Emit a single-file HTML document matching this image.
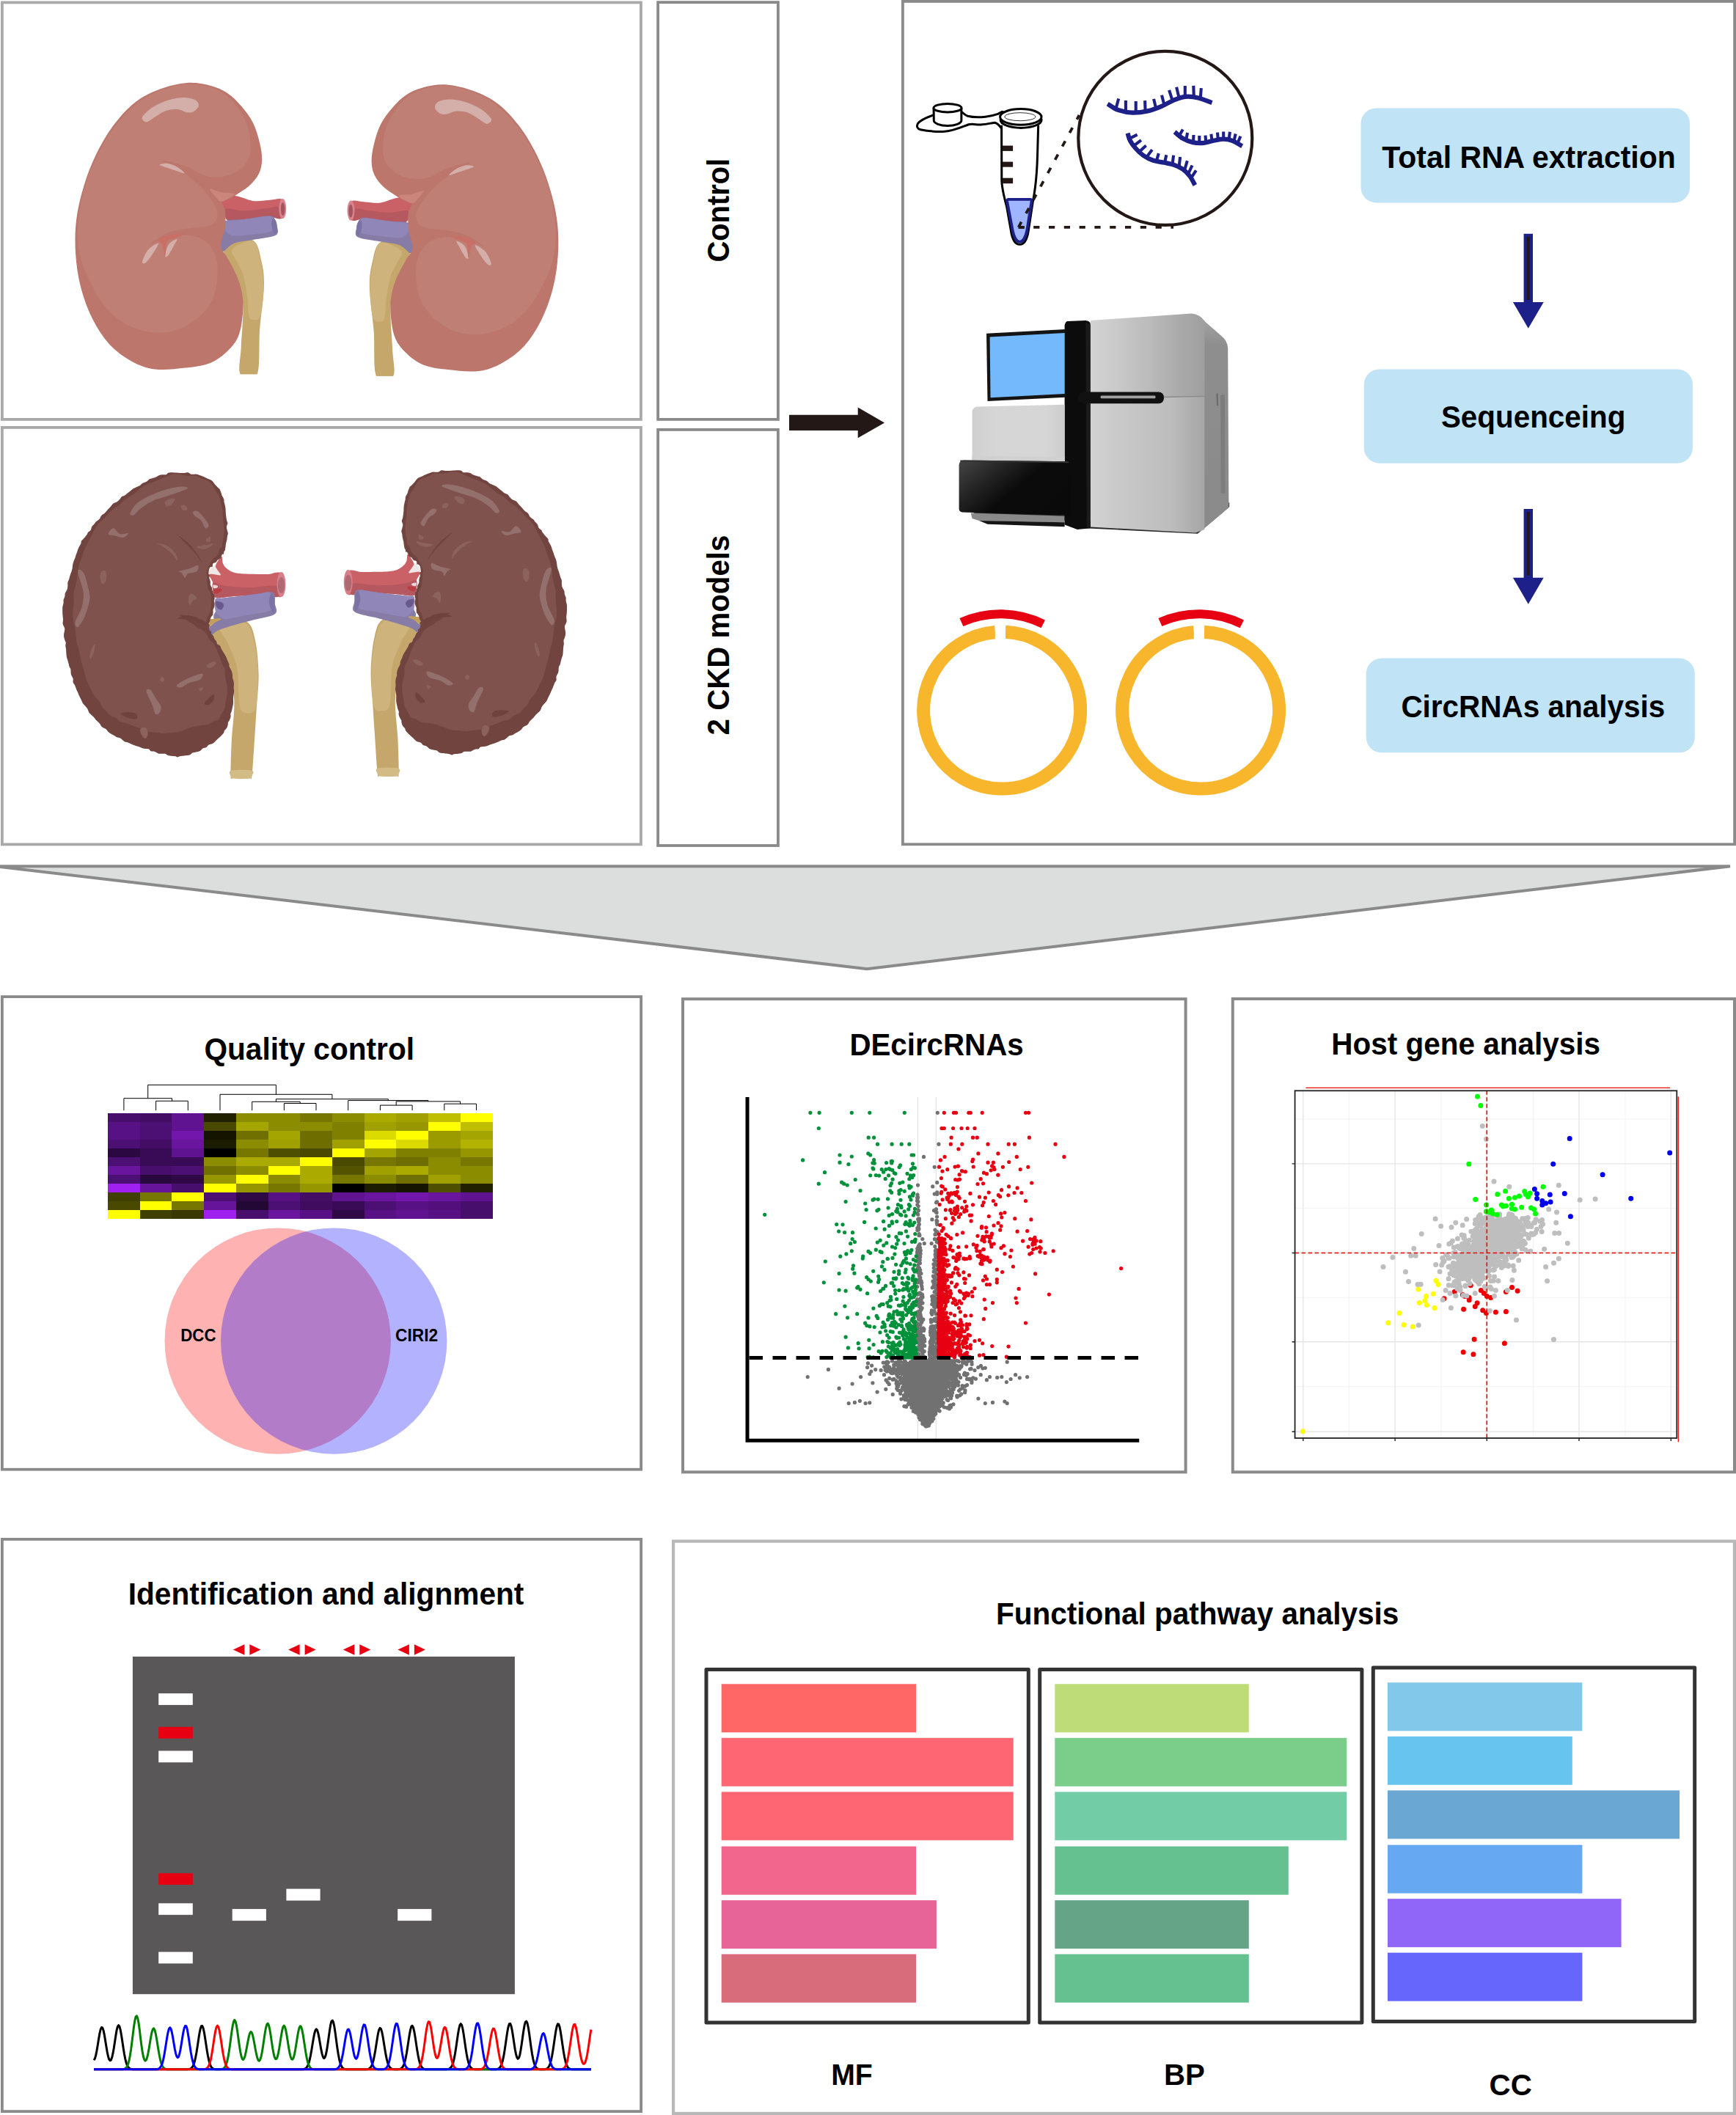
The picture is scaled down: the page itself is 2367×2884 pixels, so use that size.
<!DOCTYPE html>
<html><head><meta charset="utf-8"><title>CircRNA workflow</title>
<style>html,body{margin:0;padding:0;background:#fff}svg{display:block}</style></head>
<body>
<svg width="2367" height="2884" viewBox="0 0 2367 2884">
<rect width="2367" height="2884" fill="#fff"/>
<g id="panels">
<rect x="2.90" y="3.40" width="871.00" height="568.50" fill="none" stroke="#a9a9a9" stroke-width="3.8"/>
<rect x="2.90" y="582.90" width="871.00" height="568.50" fill="none" stroke="#a9a9a9" stroke-width="3.8"/>
<rect x="897.10" y="3.10" width="163.80" height="568.80" fill="none" stroke="#8a8a8a" stroke-width="3.8"/>
<rect x="897.10" y="585.90" width="163.80" height="567.10" fill="none" stroke="#8a8a8a" stroke-width="3.8"/>
<rect x="1230.90" y="1.90" width="1134.20" height="1149.40" fill="none" stroke="#8a8a8a" stroke-width="3.8"/>
<polygon points="-6,1181.2 2359,1181.2 1182,1321.2" fill="#dcdddd" stroke="#8a8a8a" stroke-width="4" stroke-linejoin="miter"/>
<rect x="2.90" y="1359.10" width="871.20" height="644.60" fill="none" stroke="#8a8a8a" stroke-width="3.8"/>
<rect x="931.00" y="1362.20" width="685.60" height="645.10" fill="none" stroke="#8a8a8a" stroke-width="4"/>
<rect x="1680.80" y="1362.00" width="684.20" height="645.30" fill="none" stroke="#8a8a8a" stroke-width="4"/>
<rect x="2.90" y="2098.90" width="871.20" height="780.20" fill="none" stroke="#8a8a8a" stroke-width="3.8"/>
<rect x="918.10" y="2101.60" width="1446.80" height="780.30" fill="none" stroke="#b8b8b8" stroke-width="4.2"/>
</g>
<polygon points="1076,565.8 1169.7,565.8 1169.7,555.6 1206,576.4 1169.7,597.2 1169.7,587.1 1076,587.1" fill="#231815"/>
<g font-family="Liberation Sans, Arial, Helvetica, sans-serif" font-weight="bold" fill="#000">
<text transform="translate(994.2,357.6) rotate(-90)" font-size="41.67" textLength="141.8" lengthAdjust="spacingAndGlyphs">Control</text>
<text transform="translate(994.3,1002.4) rotate(-90)" font-size="41.67" textLength="272.7" lengthAdjust="spacingAndGlyphs">2 CKD models</text>
</g>
<g fill="#c0e3f6">
<rect x="1855.5" y="147.4" width="448.5" height="129" rx="21" ry="21"/>
<rect x="1859.8" y="503.4" width="448.1" height="128.3" rx="21" ry="21"/>
<rect x="1862.7" y="897.6" width="448.1" height="128.7" rx="21" ry="21"/>
</g>
<g font-family="Liberation Sans, Arial, Helvetica, sans-serif" font-weight="bold" fill="#000">
<text x="1884.3" y="229.0" font-size="41.67" text-anchor="start" textLength="400.4" lengthAdjust="spacingAndGlyphs" >Total RNA extraction</text>
<text x="1964.9" y="582.7" font-size="41.67" text-anchor="start" textLength="251.5" lengthAdjust="spacingAndGlyphs" >Sequenceing</text>
<text x="1910.4" y="977.6" font-size="41.67" text-anchor="start" textLength="359.9" lengthAdjust="spacingAndGlyphs" >CircRNAs analysis</text>
<text x="278.4" y="1445.2" font-size="41.67" text-anchor="start" textLength="286.6" lengthAdjust="spacingAndGlyphs" >Quality control</text>
<text x="1158.4" y="1438.8" font-size="41.67" text-anchor="start" textLength="237.3" lengthAdjust="spacingAndGlyphs" >DEcircRNAs</text>
<text x="1815.3" y="1438.3" font-size="41.67" text-anchor="start" textLength="366.6" lengthAdjust="spacingAndGlyphs" >Host gene analysis</text>
<text x="174.7" y="2187.8" font-size="41.67" text-anchor="start" textLength="539.7" lengthAdjust="spacingAndGlyphs" >Identification and alignment</text>
<text x="1358.0" y="2215.2" font-size="41.67" text-anchor="start" textLength="549.3" lengthAdjust="spacingAndGlyphs" >Functional pathway analysis</text>
<text x="1133.2" y="2843.0" font-size="40" text-anchor="start" textLength="56.6" lengthAdjust="spacingAndGlyphs" >MF</text>
<text x="1587.0" y="2843.0" font-size="40" text-anchor="start" textLength="55.8" lengthAdjust="spacingAndGlyphs" >BP</text>
<text x="2030.6" y="2856.6" font-size="40" text-anchor="start" textLength="58.3" lengthAdjust="spacingAndGlyphs" >CC</text>
</g>
<polygon points="2077.6,318.8 2090,318.8 2090,411.9 2104.7,411.9 2083.8,447.8 2062.9,411.9 2077.6,411.9" fill="#1d2088"/><rect x="2081.8" y="322.8" width="4" height="86.09999999999997" fill="#231815"/>
<polygon points="2077.6,694.1 2090,694.1 2090,787.8 2104.7,787.8 2083.8,823.8 2062.9,787.8 2077.6,787.8" fill="#1d2088"/><rect x="2081.8" y="698.1" width="4" height="86.69999999999993" fill="#231815"/>
<path d="M1370.90,861.71 A107,107 0 1 1 1356.90,862.00" fill="none" stroke="#f8b62d" stroke-width="18"/><rect x="1356.90" y="849.6" width="14" height="24" fill="#fff"/><path d="M1310.91,848.47 A131.3,131.3 0 0 1 1422.28,850.99" fill="none" stroke="#e60012" stroke-width="12"/>
<path d="M1641.90,861.71 A107,107 0 1 1 1627.90,862.00" fill="none" stroke="#f8b62d" stroke-width="18"/><rect x="1627.90" y="849.6" width="14" height="24" fill="#fff"/><path d="M1581.91,848.47 A131.3,131.3 0 0 1 1693.28,850.99" fill="none" stroke="#e60012" stroke-width="12"/>
<rect x="963.00" y="2276.50" width="439.30" height="481.60" fill="none" stroke="#333333" stroke-width="5" stroke-linejoin="round"/><rect x="983.7" y="2296.3" width="265.3" height="66" fill="#ff6666"/><rect x="983.7" y="2369.8" width="398.0" height="66" fill="#fe6673"/><rect x="983.7" y="2443.4" width="398.0" height="66" fill="#fe6673"/><rect x="983.7" y="2517.7" width="265.3" height="66" fill="#f2658c"/><rect x="983.7" y="2591.2" width="293.2" height="66" fill="#e66497"/><rect x="983.7" y="2664.7" width="265.3" height="66" fill="#d96c7a"/>
<rect x="1417.70" y="2276.50" width="439.20" height="481.60" fill="none" stroke="#333333" stroke-width="5" stroke-linejoin="round"/><rect x="1438.3" y="2296.3" width="264.5" height="66" fill="#bedc78"/><rect x="1438.3" y="2369.8" width="398.0" height="66" fill="#7bcd8a"/><rect x="1438.3" y="2443.4" width="398.0" height="66" fill="#72cda6"/><rect x="1438.3" y="2517.7" width="318.5" height="66" fill="#66c190"/><rect x="1438.3" y="2591.2" width="264.5" height="66" fill="#66a488"/><rect x="1438.3" y="2664.7" width="264.5" height="66" fill="#66c190"/>
<rect x="1872.30" y="2274.00" width="438.40" height="482.40" fill="none" stroke="#333333" stroke-width="5" stroke-linejoin="round"/><rect x="1892" y="2294.3" width="265.4" height="66" fill="#82c8eb"/><rect x="1892" y="2367.8" width="251.8" height="66" fill="#66c4ef"/><rect x="1892" y="2441.4" width="398.0" height="66" fill="#6aa7d3"/><rect x="1892" y="2515.7" width="265.4" height="66" fill="#66a8f1"/><rect x="1892" y="2589.2" width="318.6" height="66" fill="#8f66f7"/><rect x="1892" y="2662.7" width="265.4" height="66" fill="#6666fc"/>
<rect x="180.9" y="2258.9" width="521" height="460.3" fill="#595758"/>
<rect x="216.2" y="2309.1" width="46.6" height="15.8" fill="#fff"/>
<rect x="216.2" y="2354.8" width="46.6" height="15.8" fill="#e60012"/>
<rect x="216.2" y="2387.4" width="46.6" height="15.8" fill="#fff"/>
<rect x="216.2" y="2554.3" width="46.6" height="15.8" fill="#e60012"/>
<rect x="216.2" y="2595.3" width="46.6" height="15.8" fill="#fff"/>
<rect x="216.2" y="2661.6" width="46.6" height="15.8" fill="#fff"/>
<rect x="316.7" y="2603.1" width="46.2" height="16" fill="#fff"/>
<rect x="390.4" y="2575.6" width="46.2" height="16" fill="#fff"/>
<rect x="542.2" y="2603.1" width="46.2" height="16" fill="#fff"/>
<polygon points="317.9,2249.5 333.4,2242.3 333.4,2256.8" fill="#e60012"/>
<polygon points="355.4,2249.5 340.4,2242.3 340.4,2256.8" fill="#e60012"/>
<polygon points="393.1,2249.5 408.6,2242.3 408.6,2256.8" fill="#e60012"/>
<polygon points="430.6,2249.5 415.6,2242.3 415.6,2256.8" fill="#e60012"/>
<polygon points="467.8,2249.5 483.3,2242.3 483.3,2256.8" fill="#e60012"/>
<polygon points="505.3,2249.5 490.3,2242.3 490.3,2256.8" fill="#e60012"/>
<polygon points="542.4,2249.5 557.9,2242.3 557.9,2256.8" fill="#e60012"/>
<polygon points="579.9,2249.5 564.9,2242.3 564.9,2256.8" fill="#e60012"/>
<g shape-rendering="crispEdges">
<rect x="147.10" y="1518.10" width="43.98" height="12.26" fill="#480e6c"/>
<rect x="190.78" y="1518.10" width="43.98" height="12.26" fill="#430d64"/>
<rect x="234.47" y="1518.10" width="43.98" height="12.26" fill="#601390"/>
<rect x="278.15" y="1518.10" width="43.98" height="12.26" fill="#212100"/>
<rect x="321.83" y="1518.10" width="43.98" height="12.26" fill="#8c8c00"/>
<rect x="365.52" y="1518.10" width="43.98" height="12.26" fill="#8c8c00"/>
<rect x="409.20" y="1518.10" width="43.98" height="12.26" fill="#777700"/>
<rect x="452.88" y="1518.10" width="43.98" height="12.26" fill="#8c8c00"/>
<rect x="496.57" y="1518.10" width="43.98" height="12.26" fill="#aaaa00"/>
<rect x="540.25" y="1518.10" width="43.98" height="12.26" fill="#a0a000"/>
<rect x="583.93" y="1518.10" width="43.98" height="12.26" fill="#bfbf00"/>
<rect x="627.62" y="1518.10" width="43.98" height="12.26" fill="#ffff00"/>
<rect x="147.10" y="1530.06" width="43.98" height="12.26" fill="#581184"/>
<rect x="190.78" y="1530.06" width="43.98" height="12.26" fill="#4c0f73"/>
<rect x="234.47" y="1530.06" width="43.98" height="12.26" fill="#601390"/>
<rect x="278.15" y="1530.06" width="43.98" height="12.26" fill="#494900"/>
<rect x="321.83" y="1530.06" width="43.98" height="12.26" fill="#a5a500"/>
<rect x="365.52" y="1530.06" width="43.98" height="12.26" fill="#8c8c00"/>
<rect x="409.20" y="1530.06" width="43.98" height="12.26" fill="#8c8c00"/>
<rect x="452.88" y="1530.06" width="43.98" height="12.26" fill="#7f7f00"/>
<rect x="496.57" y="1530.06" width="43.98" height="12.26" fill="#a0a000"/>
<rect x="540.25" y="1530.06" width="43.98" height="12.26" fill="#969600"/>
<rect x="583.93" y="1530.06" width="43.98" height="12.26" fill="#ffff00"/>
<rect x="627.62" y="1530.06" width="43.98" height="12.26" fill="#bfbf00"/>
<rect x="147.10" y="1542.02" width="43.98" height="12.26" fill="#581184"/>
<rect x="190.78" y="1542.02" width="43.98" height="12.26" fill="#4c0f73"/>
<rect x="234.47" y="1542.02" width="43.98" height="12.26" fill="#7317ac"/>
<rect x="278.15" y="1542.02" width="43.98" height="12.26" fill="#141400"/>
<rect x="321.83" y="1542.02" width="43.98" height="12.26" fill="#707000"/>
<rect x="365.52" y="1542.02" width="43.98" height="12.26" fill="#a5a500"/>
<rect x="409.20" y="1542.02" width="43.98" height="12.26" fill="#6d6d00"/>
<rect x="452.88" y="1542.02" width="43.98" height="12.26" fill="#7f7f00"/>
<rect x="496.57" y="1542.02" width="43.98" height="12.26" fill="#dbdb00"/>
<rect x="540.25" y="1542.02" width="43.98" height="12.26" fill="#ffff00"/>
<rect x="583.93" y="1542.02" width="43.98" height="12.26" fill="#9b9b00"/>
<rect x="627.62" y="1542.02" width="43.98" height="12.26" fill="#a5a500"/>
<rect x="147.10" y="1553.97" width="43.98" height="12.26" fill="#4c0f73"/>
<rect x="190.78" y="1553.97" width="43.98" height="12.26" fill="#430d64"/>
<rect x="234.47" y="1553.97" width="43.98" height="12.26" fill="#69159e"/>
<rect x="278.15" y="1553.97" width="43.98" height="12.26" fill="#1c1c00"/>
<rect x="321.83" y="1553.97" width="43.98" height="12.26" fill="#8c8c00"/>
<rect x="365.52" y="1553.97" width="43.98" height="12.26" fill="#a0a000"/>
<rect x="409.20" y="1553.97" width="43.98" height="12.26" fill="#6d6d00"/>
<rect x="452.88" y="1553.97" width="43.98" height="12.26" fill="#a0a000"/>
<rect x="496.57" y="1553.97" width="43.98" height="12.26" fill="#ffff00"/>
<rect x="540.25" y="1553.97" width="43.98" height="12.26" fill="#dbdb00"/>
<rect x="583.93" y="1553.97" width="43.98" height="12.26" fill="#9b9b00"/>
<rect x="627.62" y="1553.97" width="43.98" height="12.26" fill="#b2b200"/>
<rect x="147.10" y="1565.93" width="43.98" height="12.26" fill="#2c0843"/>
<rect x="190.78" y="1565.93" width="43.98" height="12.26" fill="#390b56"/>
<rect x="234.47" y="1565.93" width="43.98" height="12.26" fill="#601390"/>
<rect x="278.15" y="1565.93" width="43.98" height="12.26" fill="#000000"/>
<rect x="321.83" y="1565.93" width="43.98" height="12.26" fill="#777700"/>
<rect x="365.52" y="1565.93" width="43.98" height="12.26" fill="#4f4f00"/>
<rect x="409.20" y="1565.93" width="43.98" height="12.26" fill="#494900"/>
<rect x="452.88" y="1565.93" width="43.98" height="12.26" fill="#ffff00"/>
<rect x="496.57" y="1565.93" width="43.98" height="12.26" fill="#a5a500"/>
<rect x="540.25" y="1565.93" width="43.98" height="12.26" fill="#7f7f00"/>
<rect x="583.93" y="1565.93" width="43.98" height="12.26" fill="#7f7f00"/>
<rect x="627.62" y="1565.93" width="43.98" height="12.26" fill="#969600"/>
<rect x="147.10" y="1577.89" width="43.98" height="12.26" fill="#4c0f73"/>
<rect x="190.78" y="1577.89" width="43.98" height="12.26" fill="#390b56"/>
<rect x="234.47" y="1577.89" width="43.98" height="12.26" fill="#390b56"/>
<rect x="278.15" y="1577.89" width="43.98" height="12.26" fill="#8c8c00"/>
<rect x="321.83" y="1577.89" width="43.98" height="12.26" fill="#aaaa00"/>
<rect x="365.52" y="1577.89" width="43.98" height="12.26" fill="#aaaa00"/>
<rect x="409.20" y="1577.89" width="43.98" height="12.26" fill="#ffff00"/>
<rect x="452.88" y="1577.89" width="43.98" height="12.26" fill="#494900"/>
<rect x="496.57" y="1577.89" width="43.98" height="12.26" fill="#777700"/>
<rect x="540.25" y="1577.89" width="43.98" height="12.26" fill="#6d6d00"/>
<rect x="583.93" y="1577.89" width="43.98" height="12.26" fill="#8c8c00"/>
<rect x="627.62" y="1577.89" width="43.98" height="12.26" fill="#777700"/>
<rect x="147.10" y="1589.85" width="43.98" height="12.26" fill="#69159e"/>
<rect x="190.78" y="1589.85" width="43.98" height="12.26" fill="#480e6c"/>
<rect x="234.47" y="1589.85" width="43.98" height="12.26" fill="#4c0f73"/>
<rect x="278.15" y="1589.85" width="43.98" height="12.26" fill="#707000"/>
<rect x="321.83" y="1589.85" width="43.98" height="12.26" fill="#8c8c00"/>
<rect x="365.52" y="1589.85" width="43.98" height="12.26" fill="#ffff00"/>
<rect x="409.20" y="1589.85" width="43.98" height="12.26" fill="#aaaa00"/>
<rect x="452.88" y="1589.85" width="43.98" height="12.26" fill="#545400"/>
<rect x="496.57" y="1589.85" width="43.98" height="12.26" fill="#a0a000"/>
<rect x="540.25" y="1589.85" width="43.98" height="12.26" fill="#aaaa00"/>
<rect x="583.93" y="1589.85" width="43.98" height="12.26" fill="#8c8c00"/>
<rect x="627.62" y="1589.85" width="43.98" height="12.26" fill="#8c8c00"/>
<rect x="147.10" y="1601.81" width="43.98" height="12.26" fill="#4c0f73"/>
<rect x="190.78" y="1601.81" width="43.98" height="12.26" fill="#28083c"/>
<rect x="234.47" y="1601.81" width="43.98" height="12.26" fill="#2e0945"/>
<rect x="278.15" y="1601.81" width="43.98" height="12.26" fill="#969600"/>
<rect x="321.83" y="1601.81" width="43.98" height="12.26" fill="#ffff00"/>
<rect x="365.52" y="1601.81" width="43.98" height="12.26" fill="#8c8c00"/>
<rect x="409.20" y="1601.81" width="43.98" height="12.26" fill="#aaaa00"/>
<rect x="452.88" y="1601.81" width="43.98" height="12.26" fill="#777700"/>
<rect x="496.57" y="1601.81" width="43.98" height="12.26" fill="#8c8c00"/>
<rect x="540.25" y="1601.81" width="43.98" height="12.26" fill="#707000"/>
<rect x="583.93" y="1601.81" width="43.98" height="12.26" fill="#a0a000"/>
<rect x="627.62" y="1601.81" width="43.98" height="12.26" fill="#8c8c00"/>
<rect x="147.10" y="1613.77" width="43.98" height="12.26" fill="#a020f0"/>
<rect x="190.78" y="1613.77" width="43.98" height="12.26" fill="#661499"/>
<rect x="234.47" y="1613.77" width="43.98" height="12.26" fill="#480e6c"/>
<rect x="278.15" y="1613.77" width="43.98" height="12.26" fill="#ffff00"/>
<rect x="321.83" y="1613.77" width="43.98" height="12.26" fill="#969600"/>
<rect x="365.52" y="1613.77" width="43.98" height="12.26" fill="#777700"/>
<rect x="409.20" y="1613.77" width="43.98" height="12.26" fill="#969600"/>
<rect x="452.88" y="1613.77" width="43.98" height="12.26" fill="#000000"/>
<rect x="496.57" y="1613.77" width="43.98" height="12.26" fill="#1c1c00"/>
<rect x="540.25" y="1613.77" width="43.98" height="12.26" fill="#141400"/>
<rect x="583.93" y="1613.77" width="43.98" height="12.26" fill="#4f4f00"/>
<rect x="627.62" y="1613.77" width="43.98" height="12.26" fill="#212100"/>
<rect x="147.10" y="1625.72" width="43.98" height="12.26" fill="#3f3f00"/>
<rect x="190.78" y="1625.72" width="43.98" height="12.26" fill="#777700"/>
<rect x="234.47" y="1625.72" width="43.98" height="12.26" fill="#ffff00"/>
<rect x="278.15" y="1625.72" width="43.98" height="12.26" fill="#4c0f73"/>
<rect x="321.83" y="1625.72" width="43.98" height="12.26" fill="#2e0945"/>
<rect x="365.52" y="1625.72" width="43.98" height="12.26" fill="#581184"/>
<rect x="409.20" y="1625.72" width="43.98" height="12.26" fill="#430d64"/>
<rect x="452.88" y="1625.72" width="43.98" height="12.26" fill="#601390"/>
<rect x="496.57" y="1625.72" width="43.98" height="12.26" fill="#69159e"/>
<rect x="540.25" y="1625.72" width="43.98" height="12.26" fill="#7317ac"/>
<rect x="583.93" y="1625.72" width="43.98" height="12.26" fill="#69159e"/>
<rect x="627.62" y="1625.72" width="43.98" height="12.26" fill="#601390"/>
<rect x="147.10" y="1637.68" width="43.98" height="12.26" fill="#494900"/>
<rect x="190.78" y="1637.68" width="43.98" height="12.26" fill="#ffff00"/>
<rect x="234.47" y="1637.68" width="43.98" height="12.26" fill="#777700"/>
<rect x="278.15" y="1637.68" width="43.98" height="12.26" fill="#661499"/>
<rect x="321.83" y="1637.68" width="43.98" height="12.26" fill="#230734"/>
<rect x="365.52" y="1637.68" width="43.98" height="12.26" fill="#4c0f73"/>
<rect x="409.20" y="1637.68" width="43.98" height="12.26" fill="#400c60"/>
<rect x="452.88" y="1637.68" width="43.98" height="12.26" fill="#390b56"/>
<rect x="496.57" y="1637.68" width="43.98" height="12.26" fill="#4c0f73"/>
<rect x="540.25" y="1637.68" width="43.98" height="12.26" fill="#581184"/>
<rect x="583.93" y="1637.68" width="43.98" height="12.26" fill="#53107c"/>
<rect x="627.62" y="1637.68" width="43.98" height="12.26" fill="#480e6c"/>
<rect x="147.10" y="1649.64" width="43.98" height="12.26" fill="#ffff00"/>
<rect x="190.78" y="1649.64" width="43.98" height="12.26" fill="#3f3f00"/>
<rect x="234.47" y="1649.64" width="43.98" height="12.26" fill="#383800"/>
<rect x="278.15" y="1649.64" width="43.98" height="12.26" fill="#a020f0"/>
<rect x="321.83" y="1649.64" width="43.98" height="12.26" fill="#480e6c"/>
<rect x="365.52" y="1649.64" width="43.98" height="12.26" fill="#69159e"/>
<rect x="409.20" y="1649.64" width="43.98" height="12.26" fill="#581184"/>
<rect x="452.88" y="1649.64" width="43.98" height="12.26" fill="#2e0945"/>
<rect x="496.57" y="1649.64" width="43.98" height="12.26" fill="#581184"/>
<rect x="540.25" y="1649.64" width="43.98" height="12.26" fill="#601390"/>
<rect x="583.93" y="1649.64" width="43.98" height="12.26" fill="#581184"/>
<rect x="627.62" y="1649.64" width="43.98" height="12.26" fill="#480e6c"/>
</g>
<path d="M212.6,1514.2V1501.3H256.3V1514.2M168.9,1514.2V1497.7H234.5V1501.3M387.4,1514.2V1504.5H431.0V1514.2M343.7,1514.2V1502.3H409.2V1504.5M518.4,1514.2V1507.1H562.1V1514.2M605.8,1514.2V1505.2H649.5V1514.2M540.2,1507.1V1501.9H627.6V1505.2M474.7,1514.2V1500.6H583.9V1501.9M376.4,1502.3V1498.7H529.3V1500.6M300.0,1514.2V1492.3H452.9V1498.7M201.7,1497.7V1479.4H376.4V1492.3" fill="none" stroke="#000" stroke-width="1"/>
<circle cx="378.7" cy="1828.6" r="154.2" fill="#ff0000" fill-opacity="0.3"/>
<circle cx="455.2" cy="1828.6" r="154.2" fill="#0000ff" fill-opacity="0.3"/>
<g font-family="Liberation Sans, Arial, Helvetica, sans-serif" font-weight="bold" fill="#000"><text x="246.2" y="1828.9" font-size="23" text-anchor="start" textLength="48.3" lengthAdjust="spacingAndGlyphs" >DCC</text><text x="539.1" y="1828.9" font-size="23" text-anchor="start" textLength="58.1" lengthAdjust="spacingAndGlyphs" >CIRI2</text></g>
<path d="M1251.3,1496V1964M1276.2,1496V1964" stroke="#d3d3d3" stroke-width="0.8" fill="none"/>
<path d="M1274.3,1906.5h0M1269.5,1932.5h0M1259.5,1888.7h0M1268.0,1891.0h0M1262.3,1937.4h0M1264.4,1930.2h0M1267.2,1897.8h0M1259.0,1915.9h0M1288.2,1881.7h0M1257.4,1900.1h0M1314.8,1856.7h0M1270.3,1909.6h0M1268.3,1924.0h0M1277.4,1867.8h0M1252.8,1920.2h0M1253.8,1902.2h0M1269.4,1887.8h0M1264.8,1917.6h0M1247.2,1877.7h0M1270.8,1884.9h0M1254.9,1895.4h0M1299.7,1876.3h0M1252.1,1913.8h0M1249.8,1863.7h0M1249.0,1874.1h0M1263.9,1898.3h0M1254.0,1892.5h0M1260.4,1937.2h0M1236.0,1885.8h0M1248.5,1863.7h0M1290.7,1884.2h0M1229.0,1885.3h0M1277.3,1858.9h0M1260.6,1893.7h0M1257.1,1876.1h0M1301.2,1880.2h0M1262.6,1910.0h0M1262.1,1901.0h0M1260.6,1894.7h0M1265.7,1921.5h0M1268.9,1871.3h0M1263.7,1925.7h0M1288.4,1863.9h0M1257.1,1931.5h0M1273.6,1863.1h0M1276.2,1867.6h0M1254.5,1898.5h0M1289.0,1903.4h0M1250.6,1923.3h0M1264.3,1920.6h0M1275.6,1892.8h0M1263.4,1884.6h0M1264.9,1898.2h0M1232.4,1902.5h0M1242.3,1876.9h0M1244.3,1890.4h0M1259.2,1935.0h0M1273.3,1862.0h0M1216.6,1869.1h0M1258.2,1900.5h0M1269.1,1881.1h0M1266.5,1933.9h0M1265.8,1922.1h0M1263.8,1905.0h0M1263.6,1923.3h0M1262.6,1928.9h0M1267.9,1863.7h0M1272.4,1882.7h0M1271.7,1904.4h0M1282.6,1902.9h0M1300.7,1855.6h0M1256.8,1894.3h0M1263.8,1928.8h0M1261.3,1904.8h0M1278.7,1922.2h0M1267.0,1939.8h0M1260.7,1923.8h0M1285.2,1888.2h0M1269.2,1856.6h0M1257.2,1864.5h0M1253.5,1902.7h0M1265.0,1921.6h0M1235.4,1870.5h0M1267.5,1905.9h0M1312.6,1856.1h0M1279.2,1865.3h0M1225.0,1873.3h0M1254.2,1915.5h0M1263.2,1938.8h0M1263.1,1938.9h0M1279.7,1876.8h0M1204.3,1858.1h0M1284.5,1855.9h0M1251.2,1858.2h0M1268.9,1915.5h0M1267.2,1918.5h0M1297.8,1861.9h0M1228.4,1866.1h0M1268.0,1869.0h0M1257.1,1931.0h0M1220.6,1870.2h0M1249.6,1872.6h0M1265.6,1869.8h0M1274.3,1905.7h0M1285.7,1899.7h0M1259.2,1921.3h0M1272.4,1925.9h0M1305.3,1868.5h0M1273.4,1923.8h0M1212.7,1879.4h0M1256.8,1904.1h0M1263.2,1941.4h0M1244.1,1857.1h0M1237.7,1859.6h0M1283.5,1897.0h0M1250.7,1917.1h0M1261.4,1913.1h0M1277.1,1884.8h0M1258.5,1912.4h0M1270.2,1861.3h0M1246.4,1903.8h0M1272.4,1861.7h0M1279.0,1898.1h0M1253.2,1889.1h0M1282.3,1889.7h0M1264.7,1919.9h0M1263.9,1943.7h0M1254.0,1893.7h0M1245.3,1874.4h0M1258.2,1890.1h0M1265.4,1887.2h0M1255.1,1886.8h0M1260.5,1913.4h0M1292.6,1891.0h0M1266.1,1886.7h0M1229.2,1896.2h0M1240.2,1882.8h0M1262.7,1876.8h0M1245.9,1895.5h0M1257.3,1859.1h0M1300.0,1876.3h0M1245.3,1912.4h0M1296.4,1886.9h0M1258.7,1924.8h0M1261.1,1926.6h0M1265.0,1914.2h0M1259.2,1932.4h0M1224.5,1862.2h0M1261.1,1922.9h0M1252.8,1924.2h0M1280.9,1863.1h0M1259.8,1858.3h0M1269.4,1866.7h0M1254.7,1922.2h0M1270.1,1905.1h0M1257.5,1918.6h0M1267.6,1940.4h0M1260.3,1887.3h0M1264.5,1905.8h0M1256.4,1881.9h0M1262.8,1856.1h0M1274.3,1869.8h0M1262.6,1911.8h0M1264.1,1937.1h0M1258.0,1925.7h0M1287.3,1898.0h0M1252.9,1912.5h0M1272.3,1923.5h0M1250.0,1876.2h0M1271.7,1930.4h0M1271.8,1897.7h0M1270.2,1932.5h0M1250.9,1868.9h0M1264.8,1931.1h0M1256.3,1864.5h0M1252.9,1895.3h0M1291.6,1860.1h0M1272.9,1911.6h0M1272.7,1914.4h0M1264.6,1928.0h0M1266.1,1918.0h0M1256.5,1907.5h0M1282.2,1909.5h0M1270.4,1891.6h0M1265.8,1940.6h0M1280.8,1913.2h0M1266.4,1887.5h0M1243.0,1919.3h0M1265.9,1928.3h0M1238.1,1867.6h0M1275.3,1866.5h0M1241.6,1900.4h0M1261.8,1856.3h0M1273.7,1904.8h0M1236.3,1881.0h0M1260.7,1899.4h0M1265.5,1925.6h0M1263.3,1932.8h0M1257.3,1922.0h0M1269.6,1931.0h0M1228.3,1878.4h0M1264.0,1910.3h0M1276.9,1894.9h0M1257.7,1922.6h0M1270.5,1857.7h0M1244.2,1857.0h0M1257.7,1857.4h0M1263.2,1907.8h0M1264.1,1901.4h0M1252.6,1893.6h0M1263.4,1891.2h0M1263.5,1943.4h0M1269.8,1899.9h0M1266.8,1936.8h0M1264.8,1914.9h0M1232.6,1884.9h0M1257.3,1879.4h0M1279.2,1875.1h0M1254.9,1906.3h0M1289.4,1856.1h0M1289.7,1880.5h0M1267.8,1936.5h0M1227.6,1881.7h0M1268.2,1873.8h0M1254.7,1889.7h0M1279.2,1891.2h0M1226.1,1867.1h0M1285.9,1885.0h0M1243.5,1876.7h0M1268.9,1915.2h0M1265.0,1903.2h0M1267.7,1928.5h0M1241.8,1881.6h0M1253.9,1881.8h0M1261.7,1943.9h0M1263.3,1869.1h0M1242.6,1888.8h0M1294.2,1879.3h0M1270.6,1913.1h0M1262.7,1932.3h0M1278.7,1917.7h0M1289.2,1873.3h0M1261.1,1901.3h0M1252.2,1893.3h0M1233.0,1882.5h0M1273.6,1880.5h0M1266.4,1912.9h0M1253.9,1873.1h0M1266.5,1941.7h0M1262.7,1934.1h0M1295.0,1876.8h0M1257.2,1878.0h0M1282.4,1894.5h0M1288.7,1894.3h0M1276.8,1918.3h0M1268.2,1856.6h0M1262.4,1894.9h0M1289.2,1867.6h0M1261.1,1911.5h0M1269.7,1917.2h0M1259.2,1885.2h0M1245.3,1924.3h0M1260.9,1925.3h0M1213.7,1867.5h0M1261.1,1876.0h0M1272.9,1915.1h0M1261.4,1939.5h0M1261.6,1943.8h0M1264.2,1908.4h0M1260.0,1924.4h0M1281.2,1866.1h0M1263.6,1944.3h0M1250.7,1926.7h0M1250.6,1860.1h0M1239.0,1909.6h0M1306.9,1884.6h0M1253.8,1903.2h0M1265.0,1935.8h0M1266.1,1928.9h0M1245.0,1859.5h0M1262.3,1913.3h0M1274.2,1919.2h0M1291.3,1902.1h0M1250.1,1868.1h0M1304.0,1881.4h0M1241.3,1887.7h0M1297.3,1874.8h0M1271.4,1895.6h0M1252.2,1872.4h0M1260.9,1935.7h0M1284.1,1860.1h0M1274.2,1904.7h0M1261.3,1908.8h0M1255.4,1879.5h0M1281.0,1900.3h0M1266.5,1921.6h0M1278.4,1861.5h0M1270.4,1891.8h0M1322.2,1855.4h0M1270.2,1895.7h0M1266.4,1930.2h0M1271.7,1904.9h0M1267.9,1912.5h0M1287.0,1886.1h0M1247.5,1898.8h0M1249.2,1898.7h0M1261.6,1905.2h0M1261.5,1933.9h0M1240.3,1891.3h0M1249.5,1916.6h0M1263.7,1911.3h0M1279.4,1896.0h0M1295.0,1858.2h0M1258.7,1940.0h0M1261.7,1938.2h0M1230.0,1893.8h0M1282.4,1884.7h0M1263.6,1860.1h0M1303.1,1867.2h0M1241.2,1913.4h0M1267.9,1928.0h0M1284.6,1877.6h0M1256.8,1859.1h0M1231.2,1871.5h0M1259.3,1895.1h0M1261.5,1870.2h0M1276.4,1915.0h0M1255.2,1908.3h0M1263.4,1925.8h0M1294.0,1876.3h0M1270.7,1927.7h0M1273.4,1885.1h0M1266.8,1900.9h0M1266.6,1942.2h0M1234.0,1908.5h0M1276.0,1880.4h0M1245.3,1863.1h0M1264.8,1913.6h0M1257.1,1857.8h0M1261.2,1940.0h0M1255.5,1891.7h0M1253.5,1912.6h0M1276.8,1878.7h0M1262.4,1938.0h0M1246.3,1905.2h0M1270.2,1918.4h0M1261.7,1869.2h0M1252.5,1917.7h0M1244.7,1857.2h0M1280.9,1915.1h0M1264.1,1916.0h0M1241.4,1858.4h0M1268.2,1891.9h0M1273.4,1898.4h0M1274.6,1878.8h0M1261.0,1900.4h0M1268.8,1916.9h0M1263.2,1935.3h0M1255.9,1934.2h0M1297.0,1863.1h0M1314.7,1873.8h0M1263.1,1906.0h0M1277.0,1919.7h0M1261.4,1938.3h0M1249.1,1878.9h0M1272.1,1905.8h0M1270.3,1921.4h0M1263.8,1904.0h0M1312.6,1858.1h0M1280.7,1917.4h0M1274.4,1903.6h0M1237.9,1897.1h0M1259.6,1935.7h0M1267.7,1860.6h0M1250.9,1918.9h0M1268.9,1938.6h0M1273.1,1898.9h0M1257.6,1936.9h0M1270.9,1937.8h0M1272.9,1912.6h0M1279.9,1872.8h0M1257.5,1911.2h0M1248.1,1858.0h0M1252.2,1875.0h0M1263.4,1907.1h0M1265.5,1872.2h0M1222.3,1860.8h0M1258.1,1939.6h0M1238.3,1914.8h0M1273.9,1858.2h0M1263.5,1901.0h0M1281.4,1892.1h0M1282.8,1860.0h0M1300.1,1873.4h0M1268.2,1867.4h0M1246.3,1906.1h0M1249.4,1906.9h0M1270.6,1931.7h0M1263.7,1918.5h0M1260.0,1933.5h0M1260.6,1938.0h0M1255.7,1856.5h0M1283.3,1863.1h0M1263.2,1931.0h0M1254.2,1929.5h0M1263.8,1895.9h0M1251.2,1914.8h0M1278.0,1878.2h0M1282.5,1872.7h0M1255.3,1926.6h0M1255.0,1866.1h0M1280.8,1902.2h0M1268.8,1873.4h0M1271.1,1913.7h0M1271.2,1923.0h0M1252.5,1906.2h0M1280.7,1900.2h0M1263.0,1915.1h0M1222.1,1868.4h0M1276.7,1893.6h0M1218.7,1861.0h0M1263.0,1937.0h0M1267.9,1919.2h0M1209.6,1856.9h0M1247.6,1902.2h0M1245.2,1864.3h0M1269.2,1870.6h0M1291.6,1858.8h0M1279.9,1882.2h0M1259.9,1916.4h0M1267.4,1917.8h0M1250.8,1912.8h0M1255.6,1917.8h0M1261.9,1942.0h0M1275.3,1919.7h0M1269.9,1907.5h0M1294.3,1887.8h0M1267.4,1933.7h0M1274.4,1887.6h0M1273.7,1880.8h0M1270.5,1876.6h0M1260.9,1899.0h0M1285.9,1858.3h0M1253.0,1907.5h0M1257.9,1898.4h0M1287.2,1864.4h0M1263.4,1918.5h0M1264.2,1874.2h0M1266.2,1861.8h0M1270.2,1897.8h0M1240.3,1863.1h0M1265.0,1894.8h0M1266.2,1887.5h0M1270.9,1880.7h0M1259.0,1882.1h0M1255.8,1902.3h0M1263.4,1910.2h0M1271.0,1889.9h0M1259.9,1892.4h0M1278.9,1868.6h0M1262.6,1926.0h0M1293.5,1859.0h0M1262.8,1935.1h0M1220.5,1860.1h0M1291.2,1882.2h0M1286.1,1867.2h0M1278.2,1916.0h0M1279.3,1899.5h0M1250.1,1919.9h0M1254.0,1916.4h0M1273.6,1901.2h0M1263.8,1926.4h0M1304.5,1862.1h0M1257.6,1936.9h0M1261.2,1937.3h0M1287.8,1866.3h0M1280.1,1887.6h0M1256.4,1881.7h0M1282.0,1885.1h0M1254.6,1897.7h0M1249.4,1896.6h0M1261.0,1939.7h0M1255.5,1914.7h0M1268.3,1871.6h0M1254.2,1920.3h0M1270.3,1893.8h0M1268.6,1897.3h0M1257.1,1930.1h0M1265.2,1936.9h0M1291.9,1881.0h0M1282.1,1870.6h0M1282.8,1890.7h0M1269.1,1901.7h0M1297.9,1858.5h0M1304.4,1855.4h0M1269.3,1873.9h0M1247.2,1856.4h0M1299.5,1892.2h0M1258.7,1921.8h0M1271.3,1869.8h0M1261.5,1904.1h0M1289.7,1872.1h0M1283.9,1910.9h0M1281.0,1867.9h0M1287.6,1860.6h0M1262.7,1917.3h0M1278.4,1906.9h0M1264.4,1937.5h0M1277.7,1859.4h0M1273.7,1877.7h0M1254.9,1870.1h0M1254.4,1927.3h0M1259.9,1903.3h0M1232.6,1863.8h0M1252.3,1863.2h0M1272.3,1928.5h0M1262.7,1900.3h0M1256.9,1869.1h0M1264.9,1903.3h0M1254.4,1920.6h0M1303.0,1873.0h0M1269.5,1912.9h0M1290.1,1880.8h0M1260.8,1878.9h0M1266.8,1907.5h0M1263.6,1923.5h0M1242.2,1882.5h0M1276.2,1862.3h0M1265.0,1925.4h0M1267.8,1939.9h0M1263.1,1944.1h0M1268.6,1903.5h0M1252.1,1915.8h0M1257.3,1917.8h0M1253.1,1881.9h0M1265.8,1859.4h0M1266.3,1913.9h0M1270.8,1880.8h0M1268.6,1863.9h0M1252.6,1911.9h0M1261.7,1941.9h0M1250.0,1904.1h0M1218.9,1880.3h0M1281.6,1873.8h0M1266.2,1913.4h0M1260.5,1889.1h0M1264.0,1899.3h0M1271.5,1870.5h0M1258.1,1941.8h0M1258.0,1924.3h0M1255.0,1918.2h0M1248.5,1880.6h0M1272.9,1868.0h0M1272.8,1908.6h0M1269.1,1935.8h0M1239.2,1875.1h0M1265.4,1943.1h0M1241.4,1894.4h0M1248.3,1873.2h0M1264.9,1928.5h0M1272.5,1915.0h0M1268.5,1872.6h0M1282.5,1876.6h0M1249.1,1911.8h0M1234.1,1887.3h0M1275.6,1889.7h0M1245.5,1911.8h0M1243.9,1916.5h0M1283.0,1863.3h0M1264.3,1914.6h0M1298.3,1873.0h0M1256.4,1906.2h0M1254.8,1863.3h0M1280.3,1861.4h0M1253.2,1881.4h0M1226.0,1856.5h0M1277.0,1894.1h0M1231.3,1864.9h0M1260.4,1896.7h0M1247.9,1907.9h0M1260.8,1917.0h0M1256.3,1861.2h0M1267.1,1924.0h0M1265.6,1860.0h0M1265.6,1904.6h0M1264.3,1936.8h0M1241.7,1876.8h0M1238.0,1873.5h0M1259.7,1933.4h0M1251.3,1867.7h0M1270.4,1867.6h0M1257.8,1864.2h0M1275.1,1861.0h0M1262.0,1917.6h0M1275.8,1927.7h0M1273.5,1868.1h0M1276.4,1881.2h0M1248.9,1909.8h0M1271.9,1929.1h0M1272.7,1917.7h0M1261.3,1906.9h0M1264.6,1912.6h0M1261.2,1910.2h0M1251.8,1906.7h0M1211.2,1857.6h0M1262.7,1882.4h0M1260.5,1938.5h0M1276.3,1870.9h0M1258.9,1904.4h0M1252.0,1916.5h0M1302.2,1864.6h0M1271.9,1921.2h0M1264.4,1944.5h0M1307.4,1856.6h0M1261.4,1943.6h0M1265.1,1869.2h0M1255.5,1919.8h0M1264.3,1866.7h0M1272.0,1912.3h0M1260.8,1916.7h0M1253.2,1876.3h0M1263.7,1881.0h0M1265.5,1931.4h0M1228.7,1869.9h0M1251.2,1881.6h0M1275.1,1900.3h0M1309.1,1862.6h0M1266.9,1939.4h0M1261.9,1917.6h0M1300.0,1891.5h0M1271.2,1901.6h0M1255.8,1894.8h0M1264.4,1889.1h0M1229.7,1880.2h0M1260.0,1904.3h0M1276.1,1865.9h0M1262.9,1879.1h0M1254.1,1896.6h0M1253.1,1870.9h0M1259.6,1894.7h0M1264.8,1863.0h0M1271.4,1908.5h0M1270.5,1876.0h0M1259.7,1922.8h0M1257.6,1913.5h0M1272.2,1922.2h0M1276.5,1906.1h0M1266.3,1928.9h0M1262.0,1901.2h0M1275.9,1856.2h0M1239.5,1896.9h0M1260.8,1918.6h0M1260.1,1917.5h0M1277.6,1900.8h0M1268.5,1869.6h0M1233.5,1876.7h0M1263.5,1894.6h0M1257.5,1924.3h0M1249.8,1873.2h0M1233.2,1861.4h0M1276.0,1872.6h0M1266.8,1898.1h0M1303.4,1863.3h0M1249.7,1870.8h0M1224.6,1877.7h0M1246.8,1880.6h0M1268.5,1881.6h0M1254.4,1929.4h0M1281.9,1875.3h0M1263.6,1881.5h0M1280.2,1895.2h0M1238.7,1882.1h0M1284.7,1859.9h0M1255.0,1919.9h0M1243.1,1900.8h0M1268.2,1892.4h0M1262.8,1888.1h0M1267.4,1922.2h0M1223.1,1890.1h0M1256.8,1929.0h0M1251.3,1875.0h0M1242.8,1890.6h0M1238.4,1889.9h0M1273.2,1899.0h0M1258.9,1877.4h0M1264.1,1900.5h0M1249.7,1856.2h0M1273.7,1903.7h0M1267.6,1899.9h0M1261.3,1941.6h0M1274.5,1876.4h0M1262.7,1904.0h0M1279.4,1873.2h0M1245.3,1859.2h0M1260.8,1868.9h0M1265.3,1900.5h0M1275.3,1870.7h0M1245.8,1868.3h0M1248.1,1886.7h0M1272.6,1915.6h0M1259.3,1880.8h0M1274.4,1867.6h0M1251.4,1909.1h0M1287.7,1887.8h0M1281.6,1903.7h0M1261.0,1865.4h0M1273.9,1912.9h0M1264.0,1897.6h0M1265.0,1874.6h0M1263.9,1910.3h0M1277.5,1893.2h0M1249.0,1897.4h0M1248.4,1903.1h0M1269.0,1860.0h0M1257.0,1867.0h0M1266.6,1861.5h0M1250.6,1866.8h0M1266.6,1881.2h0M1263.9,1858.4h0M1263.6,1879.5h0M1267.0,1924.2h0M1265.1,1914.9h0M1256.5,1923.1h0M1267.6,1861.7h0M1248.7,1862.6h0M1269.2,1883.1h0M1226.5,1862.4h0M1271.7,1869.8h0M1251.6,1876.8h0M1262.6,1889.1h0M1236.5,1863.2h0M1262.4,1887.2h0M1268.9,1924.6h0M1281.1,1892.1h0M1266.6,1924.0h0M1242.7,1892.3h0M1263.9,1864.5h0M1264.8,1943.0h0M1246.2,1886.6h0M1274.3,1878.8h0M1251.3,1898.2h0M1297.5,1857.8h0M1276.6,1881.0h0M1259.8,1938.8h0M1238.3,1859.8h0M1278.8,1905.9h0M1261.3,1892.8h0M1303.2,1862.1h0M1270.2,1881.8h0M1271.6,1905.2h0M1251.6,1893.6h0M1265.1,1889.6h0M1253.0,1896.9h0M1236.9,1898.0h0M1256.2,1909.3h0M1240.1,1867.0h0M1271.1,1911.2h0M1288.2,1891.1h0M1258.2,1869.6h0M1259.1,1905.8h0M1278.1,1884.8h0M1264.8,1881.1h0M1257.4,1874.6h0M1255.8,1863.0h0M1262.5,1908.6h0M1265.2,1943.1h0M1304.3,1883.1h0M1274.5,1879.4h0M1222.1,1882.9h0M1242.4,1882.5h0M1242.4,1884.0h0M1270.8,1877.6h0M1286.6,1895.0h0M1275.1,1871.7h0M1264.9,1937.5h0M1292.3,1870.8h0M1253.2,1902.5h0M1270.6,1867.4h0M1249.9,1912.5h0M1254.2,1908.4h0M1269.9,1897.3h0M1269.7,1880.6h0M1261.1,1886.3h0M1268.6,1937.1h0M1286.7,1885.7h0M1259.4,1860.7h0M1264.4,1900.9h0M1246.0,1893.6h0M1280.7,1898.8h0M1271.8,1917.0h0M1264.3,1923.2h0M1263.8,1877.4h0M1266.4,1926.6h0M1261.3,1864.1h0M1274.7,1925.7h0M1265.4,1914.0h0M1266.3,1873.8h0M1270.4,1870.8h0M1285.2,1875.2h0M1256.5,1931.0h0M1258.0,1881.6h0M1235.4,1859.7h0M1280.2,1912.9h0M1262.7,1942.0h0M1260.8,1941.3h0M1255.6,1931.6h0M1262.6,1907.6h0M1248.8,1864.7h0M1278.4,1892.7h0M1270.1,1885.7h0M1259.7,1896.6h0M1251.8,1869.2h0M1251.8,1903.0h0M1246.9,1898.3h0M1271.3,1901.1h0M1209.2,1870.1h0M1261.8,1886.3h0M1272.8,1856.9h0M1272.6,1876.0h0M1248.2,1883.3h0M1281.5,1856.6h0M1249.1,1907.8h0M1274.9,1897.4h0M1250.3,1877.4h0M1291.3,1883.6h0M1250.8,1910.2h0M1263.4,1944.3h0M1283.3,1884.8h0M1268.9,1867.8h0M1258.9,1866.6h0M1284.3,1868.1h0M1252.6,1911.0h0M1276.6,1865.4h0M1226.8,1861.0h0M1278.0,1904.4h0M1278.7,1869.2h0M1263.6,1918.1h0M1239.9,1914.8h0M1254.0,1883.2h0M1254.1,1917.5h0M1263.7,1912.8h0M1235.2,1894.9h0M1266.9,1930.6h0M1247.1,1914.9h0M1294.7,1885.3h0M1241.7,1889.8h0M1254.6,1893.5h0M1260.5,1919.0h0M1261.1,1920.2h0M1246.9,1886.5h0M1255.3,1899.6h0M1263.3,1936.4h0M1254.4,1855.3h0M1270.3,1881.3h0M1281.0,1869.9h0M1278.3,1904.6h0M1268.1,1890.0h0M1264.5,1855.8h0M1231.5,1864.3h0M1264.8,1912.2h0M1213.7,1870.5h0M1288.3,1871.3h0M1281.4,1867.6h0M1262.9,1937.4h0M1265.2,1918.1h0M1265.2,1935.4h0M1277.5,1887.1h0M1242.3,1858.7h0M1295.5,1861.3h0M1271.2,1900.1h0M1268.6,1926.8h0M1260.0,1886.5h0M1292.4,1880.7h0M1257.8,1900.4h0M1285.5,1895.8h0M1323.5,1855.7h0M1270.9,1916.0h0M1266.0,1904.0h0M1303.8,1861.8h0M1259.2,1936.0h0M1255.1,1870.0h0M1225.5,1856.1h0M1268.1,1934.8h0M1298.4,1859.2h0M1255.1,1877.9h0M1292.4,1872.0h0M1261.4,1928.4h0M1268.3,1926.3h0M1269.5,1893.1h0M1268.4,1924.2h0M1296.7,1877.9h0M1264.7,1918.7h0M1265.8,1937.7h0M1255.4,1859.6h0M1274.0,1864.3h0M1258.0,1895.9h0M1273.9,1929.5h0M1247.1,1881.6h0M1247.8,1895.5h0M1289.4,1893.4h0M1272.3,1881.6h0M1266.0,1934.6h0M1252.1,1875.2h0M1259.0,1864.0h0M1258.1,1911.7h0M1267.0,1911.3h0M1256.1,1866.2h0M1272.3,1892.3h0M1268.6,1907.0h0M1255.9,1856.6h0M1268.8,1934.6h0M1254.9,1917.1h0M1260.7,1893.4h0M1270.5,1918.0h0M1258.4,1860.2h0M1260.4,1929.4h0M1272.8,1934.5h0M1247.1,1874.3h0M1256.5,1868.5h0M1264.3,1944.3h0M1248.3,1866.7h0M1261.9,1896.9h0M1270.2,1861.1h0M1272.9,1924.7h0M1265.3,1920.2h0M1249.3,1918.5h0M1269.8,1931.7h0M1275.6,1892.0h0M1267.8,1911.0h0M1292.1,1875.7h0M1249.7,1868.2h0M1261.9,1933.4h0M1233.9,1873.8h0M1267.4,1934.8h0M1240.3,1868.2h0M1304.6,1864.4h0M1300.2,1892.2h0M1267.0,1893.5h0M1261.9,1863.9h0M1279.0,1866.7h0M1270.4,1902.7h0M1279.3,1884.1h0M1261.5,1943.5h0M1261.2,1890.3h0M1260.8,1926.7h0M1218.9,1864.4h0M1260.6,1906.7h0M1242.2,1872.5h0M1271.6,1934.0h0M1233.6,1892.0h0M1242.5,1890.5h0M1262.9,1940.2h0M1266.4,1857.3h0M1267.4,1928.8h0M1264.6,1913.2h0M1262.2,1929.5h0M1264.9,1876.3h0M1267.0,1883.8h0M1234.7,1885.6h0M1262.2,1928.8h0M1262.0,1864.1h0M1261.5,1926.4h0M1250.0,1892.1h0M1263.5,1926.5h0M1276.4,1899.4h0M1288.7,1864.7h0M1252.2,1923.7h0M1257.6,1921.9h0M1285.6,1867.1h0M1257.8,1898.1h0M1239.5,1866.2h0M1259.3,1859.1h0M1254.5,1870.6h0M1271.7,1905.5h0M1291.2,1896.9h0M1258.1,1861.1h0M1268.1,1867.9h0M1258.9,1890.2h0M1282.1,1858.0h0M1259.0,1898.0h0M1247.4,1881.3h0M1268.1,1932.9h0M1260.4,1897.1h0M1263.5,1924.6h0M1274.1,1857.2h0M1217.3,1881.2h0M1300.4,1868.3h0M1258.7,1937.9h0M1260.6,1880.6h0M1280.5,1911.1h0M1285.8,1888.2h0M1256.8,1913.2h0M1224.5,1890.0h0M1275.2,1909.8h0M1259.9,1908.1h0M1255.8,1884.2h0M1242.6,1858.1h0M1262.5,1894.3h0M1269.0,1888.9h0M1266.5,1925.5h0M1255.4,1909.2h0M1268.3,1913.9h0M1253.2,1930.6h0M1252.9,1883.0h0M1256.3,1886.1h0M1251.8,1875.5h0M1242.5,1894.8h0M1256.9,1894.1h0M1264.0,1907.7h0M1275.7,1890.6h0M1261.7,1901.3h0M1262.5,1903.9h0M1265.8,1864.6h0M1284.9,1892.3h0M1273.2,1910.0h0M1262.1,1871.0h0M1278.3,1922.5h0M1276.4,1896.5h0M1259.7,1933.9h0M1279.0,1873.6h0M1266.1,1928.0h0M1319.1,1873.4h0M1259.7,1922.9h0M1280.2,1878.1h0M1284.9,1882.5h0M1237.5,1890.2h0M1262.0,1873.4h0M1235.9,1893.6h0M1250.3,1870.1h0M1248.6,1925.9h0M1306.1,1864.0h0M1264.4,1884.8h0M1285.0,1891.8h0M1259.0,1898.3h0M1285.6,1870.1h0M1249.8,1901.6h0M1239.1,1895.5h0M1268.5,1909.3h0M1250.3,1900.6h0M1259.3,1906.6h0M1279.6,1869.9h0M1248.7,1896.2h0M1261.9,1919.8h0M1273.4,1885.6h0M1299.6,1885.2h0M1278.5,1906.5h0M1296.0,1865.9h0M1243.5,1917.8h0M1265.4,1897.6h0M1263.2,1935.9h0M1222.1,1886.5h0M1264.4,1870.9h0M1285.1,1888.5h0M1263.3,1890.2h0M1248.3,1877.3h0M1275.1,1884.2h0M1282.5,1904.1h0M1255.1,1889.6h0M1259.3,1929.2h0M1276.7,1886.7h0M1298.6,1885.8h0M1234.1,1892.7h0M1226.9,1896.5h0M1232.7,1904.7h0M1267.9,1889.2h0M1256.6,1907.0h0M1278.5,1856.6h0M1256.7,1927.8h0M1246.2,1862.3h0M1216.5,1855.8h0M1250.6,1862.8h0M1266.8,1909.5h0M1252.5,1890.7h0M1263.4,1920.0h0M1248.8,1881.5h0M1248.1,1855.5h0M1283.5,1881.0h0M1269.8,1869.9h0M1263.2,1908.0h0M1262.6,1908.2h0M1232.5,1866.0h0M1256.6,1918.5h0M1251.0,1891.8h0M1258.3,1880.2h0M1286.7,1889.1h0M1263.2,1898.9h0M1269.9,1926.6h0M1272.4,1928.3h0M1267.1,1929.1h0M1289.2,1867.3h0M1266.0,1882.8h0M1262.8,1941.7h0M1247.5,1871.1h0M1282.6,1903.8h0M1263.2,1921.3h0M1275.2,1861.7h0M1251.6,1885.1h0M1276.2,1901.1h0M1268.0,1934.9h0M1241.1,1857.9h0M1255.0,1896.5h0M1261.5,1936.5h0M1277.5,1859.8h0M1246.0,1862.0h0M1252.8,1867.8h0M1297.8,1857.8h0M1275.5,1891.9h0M1260.2,1900.7h0M1266.9,1874.9h0M1284.8,1863.7h0M1266.8,1892.9h0M1257.5,1920.9h0M1277.6,1903.4h0M1292.5,1909.5h0M1280.6,1886.7h0M1275.2,1901.1h0M1270.4,1899.6h0M1268.5,1867.1h0M1263.8,1904.0h0M1271.1,1910.1h0M1278.4,1914.5h0M1267.8,1904.9h0M1262.6,1922.8h0M1258.8,1911.4h0M1281.8,1866.5h0M1282.4,1866.4h0M1275.5,1868.6h0M1280.7,1874.6h0M1272.8,1901.8h0M1258.9,1858.4h0M1266.2,1891.2h0M1271.3,1925.5h0M1260.4,1875.8h0M1304.1,1884.7h0M1264.0,1902.6h0M1276.7,1916.9h0M1285.0,1863.9h0M1278.6,1888.2h0M1265.1,1911.4h0M1243.6,1879.4h0M1256.7,1886.2h0M1268.7,1930.8h0M1268.0,1920.5h0M1249.0,1879.0h0M1258.0,1928.0h0M1257.5,1891.6h0M1273.0,1908.9h0M1267.0,1915.6h0M1262.4,1926.1h0M1251.9,1899.6h0M1271.9,1861.3h0M1212.9,1864.6h0M1263.3,1925.4h0M1268.6,1877.7h0M1250.9,1878.9h0M1280.6,1879.3h0M1264.0,1876.3h0M1289.4,1904.0h0M1267.7,1881.6h0M1275.2,1861.1h0M1262.1,1873.7h0M1262.5,1937.0h0M1265.8,1922.1h0M1274.9,1901.5h0M1261.6,1937.2h0M1275.0,1920.3h0M1228.6,1866.2h0M1256.2,1912.8h0M1257.8,1896.9h0M1262.2,1944.6h0M1266.9,1866.5h0M1260.4,1936.6h0M1257.6,1865.1h0M1261.5,1913.8h0M1264.7,1927.8h0M1246.4,1861.0h0M1293.2,1872.6h0M1275.0,1900.4h0M1272.2,1872.8h0M1259.5,1930.3h0M1209.3,1858.8h0M1286.1,1876.9h0M1278.6,1873.4h0M1244.0,1895.4h0M1262.1,1935.0h0M1246.3,1890.6h0M1294.3,1860.0h0M1268.3,1936.5h0M1269.3,1876.0h0M1250.4,1887.9h0M1241.7,1857.2h0M1253.4,1913.3h0M1260.6,1934.3h0M1271.0,1918.0h0M1276.1,1907.7h0M1288.2,1878.4h0M1264.2,1914.4h0M1282.4,1896.1h0M1250.4,1859.5h0M1280.7,1863.0h0M1257.4,1924.3h0M1255.3,1867.9h0M1264.3,1887.8h0M1251.0,1878.7h0M1231.8,1883.9h0M1273.5,1866.8h0M1262.0,1927.4h0M1272.2,1917.5h0M1263.0,1934.1h0M1277.5,1876.1h0M1274.1,1895.8h0M1272.9,1894.1h0M1266.2,1903.0h0M1264.3,1942.1h0M1263.6,1855.6h0M1254.4,1875.0h0M1251.6,1856.5h0M1260.4,1892.5h0M1270.7,1897.0h0M1266.1,1942.6h0M1241.1,1860.6h0M1234.5,1859.5h0M1263.4,1879.8h0M1269.1,1924.6h0M1264.5,1939.0h0M1241.0,1909.0h0M1252.5,1919.6h0M1225.1,1860.1h0M1266.9,1921.4h0M1222.5,1873.1h0M1273.0,1906.2h0M1285.0,1906.8h0M1251.0,1902.5h0M1256.2,1866.8h0M1276.5,1914.3h0M1270.1,1881.6h0M1249.3,1867.6h0M1208.4,1858.9h0M1253.7,1892.0h0M1263.6,1908.7h0M1288.7,1885.2h0M1269.6,1921.9h0M1270.2,1896.2h0M1263.3,1937.1h0M1272.6,1896.5h0M1266.2,1944.0h0M1289.9,1866.1h0M1242.5,1897.7h0M1256.2,1910.2h0M1248.2,1898.0h0M1245.7,1905.1h0M1276.9,1867.1h0M1274.5,1861.7h0M1274.8,1896.2h0M1256.5,1886.6h0M1266.5,1930.9h0M1280.4,1861.3h0M1255.5,1882.2h0M1296.7,1868.2h0M1274.3,1883.1h0M1237.0,1908.9h0M1245.9,1893.1h0M1257.9,1880.2h0M1285.6,1863.0h0M1265.4,1939.0h0M1285.5,1895.9h0M1260.7,1930.9h0M1248.2,1885.2h0M1244.6,1898.5h0M1260.1,1900.1h0M1269.4,1927.4h0M1297.9,1887.8h0M1266.8,1927.6h0M1260.1,1929.7h0M1263.4,1889.1h0M1284.6,1887.3h0M1259.2,1915.5h0M1259.8,1890.5h0M1280.6,1884.6h0M1266.1,1932.4h0M1276.4,1896.5h0M1242.8,1875.2h0M1315.5,1872.1h0M1307.6,1874.6h0M1266.5,1928.8h0M1256.2,1921.1h0M1221.0,1857.8h0M1258.7,1924.9h0M1279.4,1870.7h0M1267.2,1902.2h0M1262.1,1941.2h0M1258.9,1908.6h0M1223.2,1875.7h0M1282.1,1882.1h0M1212.1,1863.9h0M1242.1,1864.0h0M1263.3,1921.5h0M1242.8,1871.6h0M1268.5,1877.7h0M1257.2,1902.1h0M1297.2,1873.5h0M1261.6,1936.5h0M1283.3,1883.5h0M1281.0,1868.8h0M1272.3,1927.6h0M1256.2,1912.8h0M1247.3,1918.9h0M1275.3,1885.2h0M1266.7,1927.5h0M1265.1,1868.9h0M1256.7,1919.7h0M1257.7,1877.2h0M1281.3,1901.5h0M1292.2,1888.5h0M1282.0,1877.0h0M1257.9,1941.5h0M1272.6,1904.8h0M1287.5,1863.8h0M1278.1,1868.9h0M1266.9,1867.7h0M1245.0,1877.8h0M1269.2,1922.5h0M1224.6,1865.8h0M1288.1,1882.9h0M1261.8,1932.1h0M1279.2,1862.4h0M1274.7,1884.6h0M1265.8,1903.2h0M1249.4,1894.2h0M1257.4,1903.8h0M1262.0,1943.2h0M1262.3,1940.2h0M1268.4,1894.9h0M1263.4,1923.9h0M1261.2,1878.4h0M1277.0,1891.6h0M1251.3,1912.1h0M1249.8,1858.0h0M1297.9,1855.6h0M1269.8,1871.1h0M1268.9,1863.9h0M1235.6,1881.1h0M1258.8,1903.0h0M1307.2,1863.8h0M1254.2,1859.3h0M1246.0,1871.6h0M1232.0,1873.3h0M1262.5,1904.1h0M1258.2,1887.6h0M1266.1,1905.3h0M1278.0,1906.5h0M1262.4,1902.6h0M1264.5,1913.9h0M1270.3,1925.0h0M1265.1,1942.9h0M1251.1,1896.0h0M1259.9,1886.2h0M1266.3,1933.3h0M1256.6,1908.5h0M1290.8,1887.5h0M1231.7,1859.4h0M1299.4,1885.0h0M1266.6,1931.6h0M1296.0,1856.0h0M1265.7,1903.5h0M1237.5,1864.2h0M1253.1,1933.1h0M1265.9,1910.8h0M1270.0,1912.6h0M1264.5,1911.6h0M1267.9,1875.9h0M1272.7,1918.1h0M1281.9,1883.5h0M1253.6,1918.5h0M1292.7,1873.7h0M1261.9,1931.6h0M1278.9,1868.3h0M1258.9,1924.9h0M1245.9,1919.4h0M1254.1,1880.7h0M1269.0,1860.4h0M1283.0,1872.6h0M1238.2,1880.0h0M1274.5,1905.2h0M1262.4,1934.5h0M1266.7,1881.7h0M1246.1,1905.5h0M1264.1,1912.6h0M1300.1,1894.6h0M1267.1,1886.5h0M1298.9,1856.0h0M1274.0,1874.5h0M1269.8,1906.0h0M1266.0,1924.2h0M1298.9,1871.3h0M1278.4,1897.9h0M1244.3,1888.5h0M1249.8,1879.4h0M1248.2,1883.6h0M1279.2,1912.5h0M1266.7,1875.4h0M1242.4,1907.8h0M1288.5,1870.9h0M1261.8,1910.6h0M1272.2,1889.7h0M1263.1,1942.5h0M1247.7,1893.5h0M1244.1,1903.1h0M1269.8,1855.8h0M1273.1,1930.3h0M1264.3,1938.9h0M1268.0,1891.4h0M1281.5,1887.2h0M1293.1,1902.8h0M1269.1,1923.5h0M1301.7,1860.5h0M1277.4,1922.1h0M1266.9,1914.0h0M1224.9,1856.3h0M1263.7,1904.7h0M1243.4,1868.9h0M1269.2,1861.7h0M1263.3,1928.2h0M1256.2,1880.3h0M1266.9,1899.7h0M1258.7,1886.5h0M1294.7,1899.0h0M1240.3,1881.7h0M1263.5,1915.8h0M1275.6,1897.0h0M1268.5,1915.1h0M1296.1,1880.5h0M1271.9,1908.8h0M1263.1,1886.1h0M1274.0,1922.7h0M1246.5,1911.6h0M1271.7,1872.5h0M1254.2,1905.8h0M1271.2,1892.8h0M1255.7,1877.5h0M1239.4,1883.9h0M1273.2,1863.1h0M1270.3,1917.2h0M1249.0,1870.4h0M1284.0,1864.5h0M1313.5,1855.5h0M1269.3,1908.8h0M1265.6,1856.9h0M1264.6,1942.4h0M1256.9,1873.6h0M1268.0,1929.4h0M1271.1,1930.3h0M1281.6,1905.1h0M1244.0,1863.2h0M1283.0,1856.5h0M1267.1,1869.5h0M1288.0,1877.0h0M1266.4,1915.1h0M1266.0,1897.3h0M1266.9,1855.7h0M1268.1,1907.1h0M1257.7,1892.6h0M1259.4,1925.0h0M1269.3,1877.3h0M1262.9,1923.6h0M1255.9,1927.6h0M1233.6,1903.8h0M1264.3,1904.2h0M1283.2,1916.7h0M1254.3,1873.9h0M1267.5,1911.1h0M1267.0,1933.0h0M1259.6,1936.6h0M1262.5,1887.1h0M1284.3,1903.0h0M1265.6,1879.7h0M1237.3,1888.1h0M1251.0,1856.3h0M1258.5,1863.8h0M1251.2,1907.0h0M1278.2,1898.2h0M1261.2,1901.1h0M1296.6,1899.0h0M1276.9,1883.2h0M1256.9,1882.9h0M1264.1,1901.8h0M1268.0,1927.2h0M1274.9,1865.9h0M1254.6,1935.7h0M1249.7,1876.7h0M1286.8,1887.7h0M1264.1,1907.2h0M1263.4,1872.9h0M1230.7,1865.2h0M1261.2,1855.5h0M1252.0,1914.8h0M1246.7,1901.6h0M1242.8,1875.3h0M1278.3,1882.8h0M1250.7,1877.9h0M1286.3,1888.2h0M1257.7,1915.9h0M1250.5,1861.3h0M1260.0,1893.8h0M1243.9,1893.5h0M1277.7,1916.1h0M1295.0,1889.3h0M1232.0,1889.7h0M1260.3,1914.4h0M1267.6,1921.0h0M1243.5,1880.7h0M1301.6,1867.0h0M1258.7,1936.6h0M1276.4,1901.4h0M1252.6,1926.4h0M1263.5,1923.0h0M1269.8,1903.6h0M1237.9,1868.8h0M1262.7,1930.6h0M1285.8,1900.2h0M1263.1,1895.7h0M1271.8,1893.3h0M1251.1,1923.4h0M1246.5,1877.7h0M1272.8,1914.5h0M1256.3,1902.3h0M1265.8,1940.7h0M1260.7,1918.1h0M1262.3,1920.4h0M1260.6,1874.9h0M1272.7,1914.1h0M1292.5,1866.6h0M1282.6,1864.8h0M1249.0,1918.0h0M1279.7,1882.4h0M1278.0,1902.3h0M1267.6,1902.7h0M1257.3,1875.3h0M1283.5,1880.1h0M1249.5,1868.2h0M1278.4,1885.4h0M1288.5,1860.2h0M1317.4,1875.4h0M1257.3,1902.2h0M1259.7,1932.7h0M1243.5,1872.1h0M1277.7,1891.9h0M1263.8,1861.9h0M1259.2,1884.3h0M1233.7,1894.6h0M1270.3,1898.6h0M1277.1,1893.7h0M1252.1,1892.3h0M1275.2,1890.6h0M1234.0,1873.3h0M1284.9,1899.7h0M1270.5,1887.3h0M1265.0,1871.2h0M1258.7,1916.1h0M1264.6,1931.9h0M1261.2,1930.5h0M1256.6,1872.3h0M1260.8,1877.6h0M1256.3,1875.4h0M1264.3,1876.9h0M1221.1,1867.8h0M1277.3,1863.9h0M1276.0,1890.1h0M1265.2,1943.1h0M1262.9,1912.1h0M1262.8,1907.4h0M1299.6,1887.2h0M1258.7,1890.7h0M1265.4,1908.2h0M1279.3,1864.3h0M1243.3,1912.6h0M1274.5,1918.0h0M1269.1,1902.1h0M1242.3,1894.5h0M1264.8,1902.8h0M1279.8,1868.9h0M1302.5,1887.1h0M1261.5,1935.4h0M1280.3,1899.1h0M1257.0,1886.5h0M1280.3,1869.3h0M1258.4,1909.4h0M1230.3,1884.4h0M1279.4,1895.3h0M1252.7,1863.5h0M1257.7,1934.5h0M1266.0,1935.7h0M1293.6,1864.6h0M1268.6,1920.2h0M1220.3,1860.4h0M1252.2,1891.7h0M1255.6,1878.2h0M1256.4,1917.1h0M1296.6,1866.3h0M1280.3,1917.5h0M1272.4,1929.0h0M1289.8,1858.5h0M1257.3,1898.6h0M1246.9,1861.5h0M1267.6,1877.3h0M1269.6,1876.6h0M1265.2,1936.8h0M1256.3,1915.0h0M1253.5,1885.1h0M1272.7,1923.0h0M1241.3,1861.1h0M1276.9,1923.2h0M1286.8,1869.0h0M1263.1,1938.1h0M1257.2,1901.5h0M1253.7,1888.0h0M1254.4,1929.9h0M1269.0,1897.3h0M1293.2,1877.8h0M1272.0,1926.5h0M1325.1,1860.3h0M1262.5,1889.5h0M1252.2,1909.5h0M1286.5,1891.9h0M1288.7,1859.9h0M1279.3,1864.5h0M1255.6,1883.9h0M1262.8,1924.5h0M1280.6,1911.3h0M1251.5,1915.5h0M1298.0,1860.3h0M1270.9,1857.3h0M1281.6,1904.7h0M1261.5,1935.6h0M1254.3,1905.6h0M1268.8,1873.1h0M1265.3,1920.3h0M1259.5,1932.9h0M1282.7,1886.9h0M1280.2,1869.8h0M1258.7,1884.1h0M1264.6,1890.5h0M1261.6,1929.4h0M1255.6,1885.4h0M1249.6,1903.9h0M1272.1,1921.9h0M1270.5,1921.3h0M1255.7,1866.0h0M1249.5,1863.8h0M1264.0,1929.8h0M1285.4,1863.4h0M1277.5,1888.7h0M1259.6,1927.0h0M1265.7,1888.8h0M1256.0,1891.0h0M1270.8,1899.5h0M1268.4,1917.8h0M1276.8,1863.9h0M1265.9,1891.4h0M1260.6,1859.0h0M1269.1,1892.5h0M1237.0,1877.1h0M1263.6,1915.3h0M1257.2,1911.9h0M1260.4,1938.5h0M1272.4,1909.4h0M1292.3,1862.6h0M1270.3,1914.8h0M1269.9,1884.1h0M1256.4,1933.9h0M1239.1,1913.7h0M1257.2,1936.9h0M1250.7,1882.4h0M1241.1,1904.8h0M1211.7,1868.2h0M1264.8,1942.1h0M1240.6,1859.2h0M1266.6,1930.6h0M1261.9,1913.8h0M1251.9,1923.3h0M1269.1,1904.6h0M1268.6,1916.2h0M1251.5,1869.6h0M1234.9,1893.2h0M1264.3,1861.4h0M1253.7,1872.5h0M1253.6,1881.8h0M1266.0,1865.7h0M1254.2,1875.0h0M1281.6,1904.2h0M1309.6,1878.3h0M1291.3,1872.9h0M1300.6,1859.4h0M1262.0,1861.6h0M1219.1,1868.8h0M1231.0,1884.5h0M1280.7,1870.1h0M1244.3,1864.0h0M1306.5,1889.1h0M1315.5,1858.8h0M1304.2,1869.9h0M1267.7,1913.1h0M1257.9,1918.4h0M1265.1,1895.0h0M1293.4,1861.4h0M1258.4,1877.3h0M1241.2,1870.1h0M1240.7,1869.4h0M1211.3,1867.1h0M1281.8,1899.3h0M1281.9,1866.4h0M1243.0,1905.1h0M1238.6,1869.5h0M1263.2,1943.5h0M1263.6,1927.8h0M1235.3,1868.1h0M1274.2,1895.0h0M1266.3,1905.4h0M1285.8,1865.8h0M1261.4,1882.3h0M1268.2,1911.3h0M1234.1,1876.1h0M1276.0,1868.5h0M1262.8,1926.7h0M1257.2,1867.4h0M1260.6,1919.8h0M1297.5,1903.1h0M1274.1,1915.8h0M1241.3,1862.4h0M1227.6,1900.3h0M1263.6,1891.1h0M1282.7,1855.9h0M1277.7,1922.1h0M1274.5,1889.4h0M1263.6,1858.9h0M1268.0,1895.3h0M1254.1,1903.9h0M1252.1,1929.0h0M1252.4,1890.5h0M1290.2,1901.8h0M1244.6,1878.7h0M1259.5,1932.1h0M1243.2,1858.0h0M1253.4,1903.1h0M1246.8,1901.9h0M1246.6,1889.8h0M1230.6,1891.7h0M1268.2,1903.0h0M1262.3,1866.5h0M1242.1,1877.5h0M1254.9,1872.5h0M1258.0,1862.6h0M1257.7,1937.8h0M1284.0,1906.3h0M1311.1,1862.5h0M1255.1,1924.0h0M1260.8,1936.1h0M1263.2,1900.5h0M1247.1,1910.4h0M1256.3,1871.7h0M1281.8,1898.1h0M1234.5,1856.6h0M1233.2,1878.0h0M1285.1,1901.5h0M1255.9,1876.9h0M1271.4,1910.7h0M1290.3,1867.1h0M1256.2,1869.4h0M1271.3,1890.3h0M1285.1,1863.5h0M1275.2,1921.2h0M1273.3,1907.5h0M1267.5,1901.3h0M1280.4,1857.4h0M1261.7,1907.8h0M1271.1,1858.9h0M1276.4,1896.6h0M1263.2,1928.1h0M1277.7,1901.1h0M1261.6,1857.6h0M1280.8,1861.3h0M1275.2,1895.6h0M1235.5,1870.5h0M1275.6,1907.3h0M1285.9,1894.0h0M1248.9,1886.9h0M1246.9,1910.9h0M1278.1,1903.0h0M1256.4,1909.7h0M1261.5,1881.5h0M1270.1,1936.8h0M1243.0,1867.1h0M1253.6,1859.2h0M1263.7,1911.8h0M1270.4,1887.7h0M1253.4,1872.3h0M1241.6,1868.4h0M1260.3,1927.8h0M1299.8,1857.3h0M1251.3,1881.2h0M1240.3,1900.3h0M1262.4,1859.2h0M1250.4,1900.5h0M1254.7,1868.6h0M1276.5,1863.9h0M1237.5,1889.1h0M1258.5,1861.8h0M1262.2,1925.2h0M1268.2,1898.7h0M1278.6,1891.4h0M1241.3,1885.5h0M1253.1,1899.5h0M1254.8,1865.8h0M1270.6,1869.8h0M1253.4,1878.3h0M1215.3,1872.3h0M1263.4,1862.0h0M1277.5,1873.1h0M1230.8,1863.4h0M1260.4,1925.5h0M1234.4,1882.8h0M1277.6,1910.9h0M1277.0,1867.3h0M1265.4,1911.1h0M1267.6,1929.8h0M1300.7,1878.0h0M1259.7,1903.3h0M1300.3,1876.3h0M1274.2,1906.4h0M1262.9,1943.8h0M1259.1,1910.9h0M1258.1,1934.3h0M1273.6,1868.5h0M1264.4,1937.1h0M1259.3,1915.8h0M1254.0,1881.5h0M1277.6,1886.2h0M1265.4,1916.4h0M1247.5,1866.2h0M1257.8,1868.4h0M1262.2,1870.6h0M1260.2,1938.9h0M1263.4,1933.8h0M1259.4,1881.5h0M1244.5,1899.8h0M1253.1,1890.6h0M1254.1,1864.2h0M1286.9,1855.4h0M1232.8,1906.0h0M1291.6,1856.0h0M1267.1,1925.2h0M1253.3,1895.3h0M1240.8,1895.3h0M1268.5,1904.9h0M1274.5,1910.2h0M1262.6,1918.8h0M1245.0,1896.6h0M1261.8,1918.4h0M1256.5,1911.8h0M1248.7,1886.8h0M1300.7,1858.6h0M1246.7,1874.8h0M1263.8,1933.8h0M1267.4,1864.5h0M1251.9,1874.6h0M1255.9,1903.7h0M1246.6,1921.9h0M1235.8,1908.1h0M1265.2,1936.4h0M1284.9,1862.0h0M1253.0,1868.7h0M1264.4,1928.3h0M1265.1,1923.0h0M1233.2,1855.8h0M1271.7,1861.1h0M1237.4,1867.4h0M1270.6,1925.8h0M1277.5,1891.0h0M1263.5,1917.3h0M1268.9,1861.3h0M1248.9,1896.8h0M1233.4,1873.9h0M1293.2,1866.0h0M1268.5,1925.2h0M1264.6,1884.9h0M1289.9,1901.6h0M1266.1,1870.0h0M1296.1,1894.5h0M1273.5,1888.9h0M1260.4,1932.7h0M1295.2,1863.0h0M1256.4,1892.8h0M1258.1,1913.9h0M1254.7,1861.6h0M1269.6,1884.4h0M1265.9,1926.0h0M1283.4,1884.9h0M1257.8,1881.0h0M1258.5,1933.2h0M1286.9,1874.4h0M1269.0,1899.8h0M1260.1,1878.2h0M1248.9,1880.0h0M1252.0,1876.8h0M1266.1,1861.3h0M1276.6,1883.8h0M1271.3,1856.0h0M1249.7,1915.3h0M1290.0,1867.3h0M1263.3,1881.2h0M1261.9,1929.8h0M1266.0,1856.7h0M1262.5,1935.8h0M1270.2,1914.2h0M1257.4,1878.3h0M1225.8,1859.9h0M1244.7,1912.1h0M1276.6,1923.0h0M1264.8,1928.6h0M1259.2,1856.9h0M1248.8,1868.5h0M1259.7,1922.0h0M1262.7,1869.9h0M1265.0,1862.7h0M1262.7,1865.3h0M1272.9,1887.2h0M1242.6,1882.2h0M1265.9,1884.2h0M1261.9,1935.0h0M1259.0,1888.0h0M1265.6,1942.8h0M1305.1,1872.9h0M1270.3,1868.2h0M1280.2,1895.0h0M1273.1,1917.5h0M1295.7,1897.4h0M1295.1,1887.9h0M1281.5,1903.9h0M1285.7,1865.5h0M1282.4,1865.6h0M1270.4,1908.4h0M1282.1,1871.7h0M1293.2,1856.6h0M1272.6,1871.2h0M1263.7,1927.5h0M1242.6,1876.8h0M1252.4,1895.2h0M1247.2,1899.2h0M1239.5,1860.8h0M1277.6,1873.8h0M1212.2,1866.3h0M1295.8,1875.0h0M1270.6,1865.4h0M1270.5,1897.3h0M1252.0,1859.0h0M1260.4,1896.3h0M1254.7,1908.6h0M1260.9,1904.3h0M1269.8,1896.2h0M1227.8,1856.4h0M1220.1,1871.7h0M1304.1,1866.4h0M1262.9,1911.0h0M1261.7,1913.3h0M1264.6,1915.1h0M1283.4,1862.9h0M1253.8,1871.1h0M1295.0,1870.8h0M1243.5,1889.0h0M1266.0,1928.5h0M1248.3,1881.7h0M1258.7,1922.2h0M1250.6,1889.1h0M1237.1,1859.3h0M1282.9,1899.2h0M1242.3,1857.3h0M1264.7,1930.4h0M1284.1,1861.5h0M1263.3,1941.5h0M1306.8,1855.8h0M1251.5,1920.6h0M1275.8,1876.9h0M1263.9,1872.9h0M1255.4,1912.6h0M1262.8,1939.0h0M1256.6,1912.4h0M1241.3,1857.5h0M1242.1,1879.5h0M1258.0,1883.9h0M1259.8,1933.7h0M1268.1,1933.3h0M1264.2,1924.3h0M1265.8,1877.2h0M1264.4,1911.1h0M1259.8,1929.1h0M1248.0,1908.3h0M1276.5,1896.1h0M1305.8,1874.2h0M1280.6,1904.8h0M1308.1,1866.7h0M1267.2,1915.6h0M1275.5,1865.1h0M1247.5,1910.7h0M1265.4,1942.3h0M1279.6,1922.5h0M1237.8,1879.3h0M1256.9,1920.2h0M1281.1,1924.1h0M1286.6,1901.3h0M1250.4,1879.8h0M1262.1,1933.5h0M1264.4,1941.3h0M1252.2,1857.6h0M1262.3,1903.0h0M1251.1,1869.8h0M1254.9,1913.1h0M1269.4,1927.7h0M1266.0,1913.4h0M1252.5,1901.5h0M1266.0,1871.5h0M1269.9,1916.3h0M1250.1,1901.2h0M1281.0,1893.9h0M1298.5,1864.1h0M1274.7,1866.4h0M1274.4,1914.7h0M1264.9,1927.2h0M1261.9,1894.8h0M1260.7,1927.0h0M1269.1,1893.2h0M1273.5,1896.5h0M1269.3,1926.9h0M1269.9,1894.1h0M1254.0,1859.4h0M1262.3,1916.0h0M1221.9,1873.0h0M1242.7,1857.7h0M1309.2,1864.9h0M1290.4,1889.6h0M1273.5,1914.3h0M1280.4,1916.9h0M1262.4,1931.2h0M1299.8,1894.8h0M1285.2,1873.9h0M1269.7,1907.0h0M1258.9,1917.6h0M1258.1,1926.8h0M1246.5,1856.2h0M1263.7,1942.1h0M1259.0,1879.7h0M1263.2,1894.0h0M1247.7,1873.3h0M1260.7,1891.7h0M1257.3,1883.4h0M1252.8,1868.7h0M1260.4,1858.8h0M1236.5,1902.6h0M1271.2,1861.8h0M1276.1,1883.9h0M1279.1,1861.8h0M1264.8,1937.7h0M1270.0,1896.6h0M1274.9,1872.7h0M1281.3,1885.0h0M1255.7,1877.8h0M1265.2,1941.7h0M1259.8,1893.4h0M1282.6,1890.7h0M1253.4,1855.7h0M1271.4,1882.1h0M1280.8,1918.0h0M1244.6,1855.1h0M1268.7,1857.7h0M1253.9,1906.7h0M1274.0,1878.6h0M1262.3,1939.8h0M1273.8,1867.0h0M1262.7,1945.0h0M1255.9,1895.3h0M1261.2,1886.7h0M1258.1,1914.2h0M1267.3,1926.7h0M1262.5,1924.8h0M1231.8,1889.8h0M1259.0,1934.6h0M1270.3,1914.8h0M1281.8,1895.5h0M1280.2,1899.1h0M1240.1,1864.7h0M1256.0,1858.0h0M1298.5,1899.2h0M1265.3,1935.4h0M1262.9,1940.8h0M1256.1,1909.6h0M1234.8,1898.1h0M1255.1,1868.5h0M1253.4,1879.7h0M1263.1,1913.9h0M1232.0,1879.3h0M1239.9,1862.0h0M1267.3,1857.7h0M1273.0,1862.1h0M1275.4,1886.0h0M1278.6,1912.7h0M1255.2,1914.6h0M1282.5,1877.9h0M1263.2,1932.4h0M1240.8,1893.9h0M1264.4,1878.3h0M1261.4,1893.6h0M1255.9,1877.9h0M1251.5,1920.2h0M1267.9,1857.9h0M1252.7,1897.3h0M1270.8,1858.0h0M1290.0,1857.7h0M1268.1,1861.9h0M1285.5,1903.3h0M1264.7,1879.0h0M1258.4,1915.9h0M1263.3,1916.7h0M1265.5,1924.9h0M1258.4,1899.3h0M1267.2,1885.1h0M1241.7,1859.0h0M1254.2,1875.9h0M1271.6,1896.7h0M1266.3,1940.7h0M1274.2,1878.0h0M1285.4,1857.7h0M1280.3,1871.4h0M1239.0,1881.1h0M1277.5,1875.9h0M1260.4,1871.4h0M1262.8,1908.5h0M1299.3,1883.7h0M1286.7,1865.5h0M1254.9,1918.4h0M1259.6,1941.2h0M1259.6,1911.2h0M1266.6,1932.8h0M1264.0,1876.5h0M1263.7,1943.7h0M1280.4,1875.4h0M1276.9,1856.0h0M1265.1,1859.6h0M1278.0,1857.1h0M1276.2,1889.8h0M1251.1,1906.8h0M1269.7,1912.5h0M1265.8,1934.9h0M1265.3,1930.1h0M1258.5,1881.9h0M1246.3,1869.6h0M1249.6,1874.1h0M1272.2,1919.4h0M1255.7,1860.0h0M1262.6,1923.0h0M1238.2,1876.8h0M1274.1,1915.3h0M1266.9,1869.2h0M1255.6,1884.8h0M1259.3,1919.1h0M1222.9,1869.6h0M1276.0,1915.1h0M1278.6,1886.5h0M1267.0,1924.7h0M1271.4,1928.2h0M1264.4,1881.2h0M1275.2,1897.9h0M1262.8,1889.0h0M1258.1,1874.4h0M1260.0,1916.1h0M1292.9,1876.9h0M1274.3,1882.6h0M1258.7,1907.6h0M1262.7,1879.0h0M1269.4,1915.6h0M1280.5,1871.0h0M1226.0,1857.9h0M1256.1,1869.4h0M1281.3,1874.7h0M1262.1,1934.8h0M1262.4,1935.7h0M1286.8,1890.5h0M1310.8,1863.5h0M1266.2,1894.7h0M1271.7,1891.0h0M1245.5,1889.9h0M1284.8,1889.3h0M1270.4,1870.7h0M1266.9,1900.9h0M1263.2,1892.9h0M1278.2,1916.0h0M1244.1,1907.0h0M1268.8,1871.1h0M1233.6,1902.3h0M1283.3,1859.6h0M1280.7,1882.3h0M1277.1,1881.0h0M1280.4,1861.3h0M1254.0,1925.7h0M1267.1,1908.6h0M1263.6,1933.0h0M1237.0,1896.7h0M1261.6,1930.8h0M1270.9,1857.6h0M1261.8,1935.4h0M1275.6,1925.1h0M1267.0,1928.3h0M1268.1,1889.1h0M1270.8,1866.6h0M1275.9,1871.5h0M1259.5,1897.7h0M1268.1,1914.0h0M1279.1,1857.0h0M1275.1,1873.3h0M1287.2,1862.5h0M1246.5,1858.1h0M1258.4,1883.4h0M1287.2,1875.1h0M1273.5,1873.7h0M1276.3,1857.9h0M1265.8,1928.3h0M1254.7,1913.5h0M1268.1,1923.6h0M1257.0,1865.1h0M1276.0,1873.0h0M1268.8,1904.9h0M1286.6,1867.4h0M1260.4,1864.5h0M1262.1,1871.6h0M1302.1,1883.3h0M1245.0,1906.2h0M1271.6,1865.5h0M1253.8,1902.8h0M1255.4,1902.0h0M1268.6,1927.9h0M1272.2,1915.5h0M1252.5,1881.0h0M1264.2,1862.8h0M1244.2,1860.6h0M1301.6,1868.7h0M1261.4,1872.2h0M1262.9,1868.1h0M1284.1,1901.5h0M1283.8,1866.2h0M1275.6,1905.3h0M1237.6,1867.5h0M1302.5,1865.6h0M1301.6,1863.4h0M1304.0,1873.0h0M1259.8,1877.9h0M1257.2,1864.0h0M1247.8,1887.8h0M1269.4,1870.2h0M1274.5,1870.3h0M1256.9,1905.0h0M1271.2,1913.3h0M1265.2,1939.3h0M1264.8,1869.2h0M1265.4,1933.2h0M1271.5,1873.2h0M1279.0,1899.7h0M1283.0,1868.8h0M1258.7,1881.3h0M1209.9,1862.3h0M1272.3,1873.8h0M1274.8,1907.6h0M1257.7,1928.4h0M1274.5,1884.7h0M1246.0,1892.9h0M1279.7,1898.5h0M1254.0,1917.4h0M1241.1,1903.1h0M1304.3,1876.5h0M1333.7,1864.6h0M1280.0,1858.7h0M1292.0,1885.0h0M1210.2,1884.8h0M1301.7,1891.0h0M1251.3,1908.6h0M1302.0,1871.1h0M1239.9,1909.5h0M1299.9,1914.9h0M1248.0,1885.1h0M1304.7,1903.4h0M1231.9,1869.7h0M1296.9,1878.1h0M1271.1,1868.7h0M1284.1,1889.5h0M1339.8,1865.8h0M1267.2,1922.6h0M1236.7,1909.0h0M1267.2,1916.6h0M1296.5,1906.7h0M1322.7,1880.3h0M1187.8,1870.1h0M1312.1,1889.6h0M1296.2,1916.0h0M1315.8,1890.2h0M1222.8,1893.4h0M1295.6,1898.2h0M1277.0,1884.4h0M1229.4,1873.5h0M1265.3,1884.2h0M1212.2,1887.4h0M1234.1,1856.7h0M1287.1,1903.8h0M1225.6,1872.0h0M1224.6,1890.6h0M1307.6,1896.3h0M1277.2,1869.7h0M1287.0,1904.1h0M1283.6,1903.5h0M1314.5,1874.4h0M1232.9,1917.6h0M1259.8,1918.9h0M1188.6,1862.1h0M1278.6,1909.1h0M1256.9,1865.8h0M1315.6,1898.7h0M1301.6,1878.6h0M1217.1,1872.6h0M1248.8,1867.0h0M1242.5,1897.3h0M1217.2,1867.1h0M1210.1,1862.0h0M1264.2,1877.3h0M1260.3,1868.5h0M1324.9,1885.5h0M1318.6,1888.6h0M1225.6,1887.6h0M1224.3,1895.6h0M1193.7,1867.6h0M1308.7,1902.8h0M1244.0,1883.1h0M1244.1,1884.5h0M1253.0,1902.1h0M1324.0,1866.4h0M1207.8,1894.3h0M1281.4,1912.6h0M1281.8,1879.8h0M1256.8,1917.3h0M1237.2,1885.0h0M1282.3,1893.1h0M1305.1,1905.0h0M1241.2,1866.0h0M1286.2,1912.8h0M1283.2,1895.4h0M1326.8,1878.9h0M1252.3,1892.7h0M1201.2,1868.4h0M1285.2,1915.8h0M1231.5,1858.1h0M1263.0,1888.1h0M1318.6,1880.4h0M1268.1,1879.5h0M1273.0,1917.9h0M1242.6,1887.9h0M1278.4,1882.0h0M1243.0,1908.4h0M1248.0,1880.9h0M1321.1,1880.4h0M1237.3,1892.1h0M1309.6,1878.4h0M1294.9,1867.0h0M1207.6,1857.8h0M1317.8,1860.3h0M1218.3,1866.1h0M1221.6,1860.2h0M1284.0,1904.9h0M1295.0,1916.7h0M1312.4,1892.8h0M1337.4,1862.3h0M1223.5,1885.1h0M1296.1,1905.9h0M1208.1,1881.9h0M1282.6,1914.2h0M1315.9,1895.9h0M1183.5,1858.9h0M1182.6,1864.6h0M1276.0,1903.3h0M1205.8,1863.8h0M1281.3,1868.3h0M1310.7,1900.9h0M1330.4,1880.2h0M1249.3,1885.1h0M1222.6,1873.1h0M1294.4,1920.9h0M1232.3,1903.1h0M1207.1,1868.3h0M1297.0,1879.6h0M1268.9,1860.2h0M1217.2,1901.4h0M1301.3,1885.5h0M1258.1,1894.5h0M1271.0,1914.7h0M1248.7,1878.7h0M1287.4,1918.8h0M1267.8,1917.0h0M1209.3,1865.8h0M1289.6,1881.7h0M1319.3,1856.6h0M1264.8,1908.4h0M1318.5,1856.7h0M1286.1,1883.8h0M1289.4,1894.1h0M1325.0,1883.4h0M1291.3,1919.7h0M1243.8,1897.1h0M1231.8,1881.3h0M1284.4,1916.2h0M1291.1,1908.6h0M1274.9,1922.0h0M1300.9,1877.4h0M1280.4,1873.7h0M1322.6,1866.8h0M1235.8,1888.7h0M1234.9,1917.5h0M1281.0,1918.0h0M1307.0,1866.2h0M1309.5,1894.3h0M1255.5,1895.2h0M1235.7,1918.2h0M1228.9,1907.8h0M1205.5,1874.7h0M1259.2,1914.1h0M1240.8,1904.5h0M1277.4,1904.7h0M1262.5,1862.8h0M1236.7,1904.2h0M1240.8,1899.7h0M1321.7,1880.9h0M1296.6,1918.8h0M1273.0,1884.6h0M1101.2,1877.6h0M1129.4,1867.4h0M1144.1,1893.2h0M1157.2,1913.6h0M1165.4,1912.4h0M1172.4,1910.3h0M1180.1,1913.6h0M1185.8,1912.8h0M1162.1,1887.0h0M1173.6,1877.6h0M1185.8,1873.5h0M1189.9,1885.8h0M1196.1,1898.1h0M1373.2,1857.2h0M1400.6,1877.6h0M1390.3,1878.8h0M1384.6,1874.7h0M1378.1,1880.5h0M1372.4,1884.6h0M1365.8,1877.6h0M1359.7,1878.4h0M1349.5,1877.6h0M1345.4,1881.7h0M1373.2,1913.6h0M1369.9,1911.1h0M1353.5,1912.4h0M1343.3,1913.6h0M1333.9,1907.1h0M1324.9,1857.2h0M1329.0,1868.6h0M1343.3,1865.3h0M1337.2,1874.7h0M1277.0,1807.5h0M1255.4,1817.9h0M1251.3,1719.5h0M1254.6,1828.0h0M1257.1,1823.9h0M1270.1,1814.7h0M1270.0,1836.9h0M1250.8,1674.6h0M1274.5,1740.8h0M1255.0,1792.1h0M1270.7,1829.4h0M1256.9,1754.5h0M1255.3,1705.0h0M1277.5,1841.4h0M1276.2,1758.2h0M1257.1,1783.5h0M1253.5,1836.1h0M1254.2,1696.5h0M1250.7,1655.2h0M1251.3,1704.8h0M1251.7,1849.3h0M1276.1,1736.3h0M1276.2,1762.7h0M1254.6,1701.4h0M1276.6,1754.4h0M1258.8,1799.2h0M1251.0,1794.4h0M1252.5,1670.9h0M1256.6,1837.3h0M1252.9,1851.4h0M1254.7,1771.9h0M1273.4,1781.6h0M1270.8,1778.4h0M1253.9,1834.5h0M1277.9,1731.8h0M1269.4,1809.0h0M1256.7,1803.1h0M1276.9,1780.2h0M1276.6,1639.7h0M1276.5,1648.8h0M1256.6,1767.7h0M1254.7,1787.9h0M1255.1,1771.4h0M1256.1,1772.6h0M1271.1,1822.8h0M1269.1,1820.5h0M1274.6,1849.9h0M1257.6,1765.6h0M1255.8,1786.0h0M1275.0,1677.1h0M1273.6,1718.1h0M1257.7,1767.1h0M1251.7,1775.1h0M1269.5,1827.4h0M1257.2,1801.6h0M1253.6,1763.0h0M1256.0,1750.4h0M1254.6,1818.9h0M1275.3,1750.9h0M1269.5,1852.2h0M1277.6,1692.1h0M1269.3,1799.7h0M1275.3,1772.4h0M1272.7,1800.1h0M1270.3,1824.3h0M1276.3,1652.7h0M1272.0,1747.2h0M1271.3,1843.0h0M1274.6,1850.1h0M1267.3,1843.5h0M1256.8,1853.5h0M1252.0,1710.0h0M1272.7,1844.3h0M1274.1,1798.3h0M1256.3,1785.3h0M1276.1,1791.7h0M1251.7,1778.6h0M1250.8,1654.7h0M1254.1,1820.6h0M1257.3,1757.8h0M1251.0,1629.2h0M1255.0,1820.5h0M1253.2,1839.2h0M1257.2,1813.0h0M1271.1,1842.8h0M1273.2,1729.1h0M1276.8,1731.9h0M1251.4,1703.0h0M1276.6,1823.0h0M1275.6,1776.0h0M1259.7,1842.5h0M1271.7,1767.8h0M1251.7,1656.1h0M1258.5,1827.1h0M1274.6,1800.9h0M1257.3,1839.2h0M1253.4,1745.1h0M1260.0,1829.1h0M1277.6,1723.5h0M1275.4,1705.8h0M1277.1,1753.4h0M1268.3,1831.0h0M1254.4,1734.9h0M1254.3,1825.0h0M1257.1,1764.8h0M1253.0,1684.5h0M1277.7,1612.4h0M1252.7,1778.4h0M1277.8,1628.3h0M1277.5,1846.0h0M1252.2,1703.8h0M1274.0,1813.3h0M1257.6,1813.7h0M1253.0,1835.6h0M1260.7,1829.0h0M1269.6,1803.0h0M1255.7,1835.5h0M1276.4,1809.8h0M1251.7,1745.6h0M1267.7,1848.2h0M1277.6,1638.8h0M1276.1,1681.8h0M1254.7,1731.8h0M1272.2,1813.3h0M1255.0,1819.1h0M1250.8,1642.8h0M1275.2,1836.8h0M1272.1,1767.2h0M1269.4,1844.2h0M1274.9,1773.2h0M1255.9,1736.6h0M1252.0,1724.5h0M1274.6,1722.9h0M1251.3,1773.9h0M1272.4,1740.1h0M1271.3,1808.4h0M1277.8,1665.0h0M1250.7,1702.6h0M1255.1,1709.4h0M1256.5,1783.6h0M1267.5,1846.6h0M1254.5,1815.8h0M1276.4,1825.9h0M1250.6,1708.4h0M1277.6,1802.1h0M1273.6,1808.5h0M1252.3,1734.5h0M1277.6,1837.3h0M1273.4,1800.1h0M1256.9,1777.3h0M1267.4,1853.1h0M1259.5,1814.5h0M1251.8,1791.7h0M1271.9,1800.6h0M1277.6,1730.8h0M1250.6,1853.0h0M1277.9,1819.7h0M1268.7,1814.4h0M1271.4,1843.9h0M1277.6,1725.5h0M1251.3,1748.8h0M1253.6,1841.0h0M1253.4,1781.5h0M1252.0,1805.5h0M1270.7,1792.3h0M1255.0,1806.8h0M1275.5,1705.1h0M1258.0,1776.8h0M1251.1,1814.4h0M1276.8,1797.3h0M1268.5,1850.2h0M1270.9,1817.3h0M1251.9,1701.8h0M1256.0,1774.8h0M1274.0,1742.6h0M1251.2,1824.8h0M1275.1,1710.8h0M1270.3,1801.7h0M1253.2,1682.5h0M1271.4,1771.6h0M1274.5,1822.7h0M1276.2,1823.0h0M1259.9,1812.4h0M1254.1,1852.8h0M1271.7,1827.3h0M1274.3,1838.4h0M1257.7,1827.1h0M1268.3,1829.7h0M1252.7,1666.1h0M1271.1,1820.3h0M1253.5,1719.7h0M1254.1,1829.9h0M1250.6,1706.8h0M1274.1,1761.7h0M1270.6,1822.1h0M1275.2,1782.3h0M1277.0,1809.2h0M1273.6,1779.4h0M1258.0,1768.8h0M1252.5,1798.5h0M1254.3,1762.9h0M1253.8,1708.2h0M1252.8,1788.4h0M1275.0,1825.8h0M1277.7,1834.7h0M1258.9,1843.4h0M1272.3,1800.5h0M1274.1,1788.4h0M1260.2,1842.7h0M1275.6,1719.8h0M1251.3,1810.6h0M1256.7,1803.3h0M1274.2,1776.6h0M1277.3,1667.6h0M1277.3,1693.6h0M1250.9,1636.0h0M1270.4,1786.9h0M1276.9,1763.2h0M1253.9,1684.7h0M1271.3,1755.8h0M1270.5,1835.3h0M1251.6,1662.6h0M1273.6,1775.1h0M1253.8,1840.9h0M1256.6,1753.3h0M1254.9,1798.5h0M1251.1,1806.0h0M1252.9,1663.9h0M1257.6,1824.5h0M1253.2,1788.3h0M1274.5,1724.0h0M1274.4,1768.7h0M1255.6,1795.0h0M1275.7,1713.8h0M1254.5,1737.0h0M1258.0,1847.1h0M1275.2,1755.1h0M1258.4,1832.0h0M1274.2,1820.8h0M1277.9,1850.3h0M1251.5,1714.6h0M1254.9,1838.5h0M1255.2,1785.6h0M1277.0,1664.4h0M1253.9,1787.7h0M1276.3,1753.6h0M1276.7,1682.7h0M1272.7,1754.0h0M1277.8,1714.8h0M1250.8,1677.5h0M1273.7,1853.5h0M1275.7,1798.2h0M1274.6,1850.4h0M1260.5,1826.0h0M1274.7,1753.6h0M1277.3,1743.5h0M1276.0,1800.6h0M1270.3,1842.3h0M1251.6,1632.8h0M1273.2,1750.8h0M1277.3,1763.2h0M1251.8,1638.6h0M1272.9,1787.8h0M1258.9,1821.7h0M1257.7,1827.7h0M1255.0,1709.2h0M1254.2,1805.5h0M1274.4,1689.7h0M1275.7,1825.1h0M1254.4,1722.4h0M1276.8,1770.8h0M1253.4,1739.8h0M1251.5,1794.3h0M1275.8,1801.3h0M1251.2,1729.6h0M1275.0,1777.5h0M1252.4,1745.0h0M1268.9,1811.1h0M1275.8,1708.9h0M1273.0,1724.1h0M1276.8,1841.1h0M1255.2,1850.2h0M1268.9,1833.3h0M1275.5,1816.1h0M1250.8,1809.3h0M1250.6,1754.5h0M1252.2,1673.1h0M1274.6,1780.3h0M1251.9,1700.7h0M1255.6,1769.7h0M1272.7,1740.7h0M1274.1,1815.9h0M1272.0,1835.0h0M1268.5,1816.8h0M1257.6,1850.1h0M1254.3,1718.1h0M1251.7,1725.8h0M1259.3,1852.6h0M1252.8,1764.4h0M1272.5,1853.7h0M1254.8,1742.2h0M1260.4,1850.0h0M1268.3,1836.9h0M1252.1,1850.1h0M1252.5,1711.9h0M1277.6,1743.0h0M1276.6,1839.7h0M1277.8,1625.8h0M1257.1,1842.0h0M1269.9,1789.9h0M1271.2,1812.9h0M1271.3,1834.7h0M1256.1,1802.9h0M1258.4,1824.2h0M1252.7,1799.3h0M1272.8,1772.8h0M1271.5,1826.7h0M1256.7,1749.0h0M1276.4,1742.8h0M1252.9,1788.8h0M1256.0,1811.7h0M1277.8,1669.6h0M1250.8,1764.9h0M1273.8,1724.7h0M1250.5,1789.4h0M1252.4,1650.7h0M1253.5,1729.0h0M1256.1,1747.7h0M1275.7,1761.9h0M1277.6,1659.1h0M1277.1,1653.4h0M1269.3,1846.5h0M1251.2,1714.6h0M1250.9,1818.4h0M1253.4,1661.8h0M1250.6,1633.0h0M1257.4,1843.9h0M1271.2,1838.2h0M1273.5,1840.9h0M1255.7,1853.3h0M1255.8,1795.8h0M1270.1,1831.7h0M1269.9,1851.4h0M1273.3,1813.7h0M1273.0,1846.7h0M1250.8,1804.5h0M1256.9,1831.0h0M1273.0,1845.6h0M1276.4,1680.4h0M1277.1,1808.9h0M1254.6,1835.0h0M1268.8,1820.2h0M1270.6,1767.8h0M1258.9,1850.2h0M1251.8,1649.6h0M1270.7,1846.0h0M1277.0,1709.4h0M1251.1,1714.3h0M1252.4,1821.1h0M1258.9,1811.2h0M1253.3,1664.0h0M1252.9,1675.7h0M1253.3,1669.6h0M1254.7,1713.8h0M1276.2,1704.0h0M1274.6,1689.6h0M1274.2,1822.2h0M1251.7,1735.3h0M1269.2,1814.4h0M1251.4,1764.7h0M1270.0,1802.3h0M1275.0,1746.0h0M1278.1,1679.9h0M1253.4,1732.9h0M1251.5,1616.1h0M1252.1,1830.8h0M1250.9,1853.7h0M1252.7,1711.5h0M1252.6,1698.7h0M1268.5,1842.7h0M1277.2,1833.0h0M1251.0,1730.9h0M1256.7,1802.5h0M1256.2,1772.1h0M1254.3,1713.5h0M1274.8,1699.7h0M1274.2,1847.0h0M1275.3,1822.3h0M1252.1,1662.1h0M1274.0,1749.3h0M1276.8,1831.6h0M1276.9,1758.2h0M1256.2,1813.7h0M1275.1,1750.1h0M1259.9,1824.8h0M1273.2,1830.1h0M1254.4,1818.7h0M1276.1,1821.9h0M1256.0,1746.6h0M1251.4,1747.6h0M1274.1,1801.0h0M1276.9,1764.4h0M1260.7,1835.2h0M1277.8,1775.6h0M1255.4,1834.2h0M1274.8,1783.2h0M1275.0,1683.4h0M1272.9,1723.9h0M1251.6,1702.2h0M1278.2,1821.0h0M1260.4,1851.7h0M1276.5,1844.8h0M1275.2,1761.8h0M1271.3,1773.4h0M1274.8,1822.5h0M1271.7,1768.6h0M1255.7,1837.9h0M1250.6,1765.3h0M1274.8,1743.2h0M1267.9,1839.5h0M1252.9,1779.3h0M1258.7,1823.9h0M1273.1,1734.1h0M1250.8,1771.6h0M1250.8,1730.1h0M1254.8,1781.7h0M1251.4,1828.2h0M1252.5,1846.3h0M1278.3,1517.3h0M1279.9,1560.2h0M1259.5,1577.4h0M1274.2,1591.3h0M1271.7,1617.9h0M1274.2,1628.1h0M1250.5,1637.5h0M1252.1,1644.5h0M1273.4,1650.6h0M1252.9,1662.9h0M1270.9,1662.9h0M1252.1,1677.2h0M1257.8,1689.5h0M1260.3,1695.6h0M1270.1,1695.6h0" stroke="#727171" stroke-width="5.2" stroke-linecap="round" fill="none"/>
<path d="M1234.4,1837.8h0M1229.3,1817.6h0M1247.2,1750.2h0M1218.0,1851.0h0M1244.1,1835.2h0M1216.4,1583.5h0M1222.7,1665.5h0M1244.2,1745.6h0M1187.3,1747.1h0M1214.0,1781.8h0M1247.1,1734.1h0M1216.5,1700.1h0M1248.6,1829.3h0M1221.8,1651.7h0M1176.3,1716.1h0M1225.9,1623.9h0M1226.3,1681.7h0M1244.9,1846.9h0M1220.9,1600.3h0M1238.4,1749.9h0M1236.8,1786.1h0M1230.7,1821.1h0M1182.6,1763.7h0M1162.7,1730.2h0M1192.2,1586.2h0M1213.9,1845.0h0M1214.4,1768.4h0M1216.3,1840.7h0M1239.9,1767.0h0M1216.0,1850.2h0M1244.5,1586.8h0M1228.7,1681.8h0M1243.0,1845.9h0M1247.9,1753.9h0M1235.4,1716.2h0M1247.6,1828.0h0M1248.3,1758.8h0M1239.6,1842.1h0M1244.2,1755.3h0M1214.4,1850.7h0M1184.8,1827.3h0M1228.0,1636.3h0M1231.6,1798.1h0M1221.2,1743.9h0M1222.7,1771.4h0M1215.5,1613.6h0M1219.8,1804.9h0M1242.5,1837.8h0M1212.2,1593.5h0M1248.9,1774.6h0M1229.6,1808.4h0M1232.8,1851.0h0M1247.4,1748.0h0M1230.3,1749.6h0M1235.1,1731.2h0M1203.8,1720.7h0M1248.2,1850.9h0M1227.8,1799.1h0M1240.0,1826.4h0M1239.9,1827.5h0M1238.9,1760.1h0M1217.2,1816.2h0M1234.8,1850.9h0M1236.1,1709.5h0M1218.9,1839.5h0M1245.3,1837.7h0M1221.4,1804.0h0M1242.5,1848.8h0M1212.2,1824.1h0M1204.1,1803.2h0M1241.9,1844.5h0M1181.7,1741.7h0M1243.2,1800.3h0M1236.0,1847.8h0M1219.2,1842.7h0M1240.9,1664.6h0M1217.1,1832.6h0M1198.6,1744.6h0M1246.3,1822.1h0M1218.0,1830.7h0M1241.0,1833.6h0M1236.9,1808.0h0M1192.2,1809.6h0M1249.2,1845.6h0M1147.6,1612.2h0M1179.6,1804.2h0M1223.7,1839.6h0M1204.6,1665.4h0M1240.4,1782.9h0M1243.9,1822.8h0M1233.9,1850.1h0M1216.5,1831.4h0M1208.9,1850.6h0M1163.5,1725.8h0M1210.5,1634.8h0M1225.7,1851.0h0M1242.8,1844.3h0M1225.5,1737.2h0M1185.9,1808.7h0M1236.9,1754.7h0M1211.4,1836.0h0M1211.8,1793.9h0M1244.6,1820.9h0M1204.2,1778.5h0M1221.0,1844.4h0M1173.0,1623.5h0M1232.2,1851.0h0M1247.1,1653.1h0M1243.2,1833.6h0M1234.8,1780.6h0M1212.7,1795.0h0M1248.3,1851.0h0M1246.9,1847.5h0M1185.6,1850.1h0M1245.4,1657.0h0M1239.6,1787.5h0M1240.5,1827.2h0M1221.8,1742.9h0M1244.7,1819.3h0M1246.5,1824.9h0M1214.9,1772.5h0M1247.4,1815.6h0M1240.8,1843.8h0M1204.6,1757.2h0M1214.1,1815.6h0M1232.3,1751.1h0M1234.5,1817.1h0M1230.8,1722.3h0M1228.7,1725.6h0M1234.7,1836.9h0M1246.8,1725.2h0M1236.5,1806.3h0M1200.0,1816.8h0M1237.6,1686.1h0M1246.1,1797.2h0M1206.1,1676.2h0M1179.7,1641.0h0M1219.9,1710.1h0M1233.8,1848.7h0M1246.6,1851.0h0M1247.5,1693.3h0M1247.4,1849.2h0M1240.6,1644.4h0M1217.6,1850.9h0M1216.6,1847.8h0M1190.7,1733.3h0M1207.2,1607.4h0M1247.8,1682.6h0M1222.7,1696.2h0M1245.4,1717.5h0M1232.3,1825.7h0M1238.0,1669.4h0M1244.0,1843.7h0M1207.6,1753.4h0M1239.1,1812.9h0M1239.7,1812.3h0M1247.3,1807.8h0M1242.9,1704.6h0M1202.4,1726.9h0M1225.7,1733.2h0M1223.8,1792.3h0M1242.0,1636.0h0M1225.2,1849.1h0M1215.6,1626.2h0M1219.5,1802.2h0M1243.6,1843.1h0M1233.1,1841.9h0M1243.9,1827.2h0M1231.2,1721.3h0M1212.2,1657.4h0M1244.5,1834.1h0M1238.0,1850.9h0M1245.1,1815.1h0M1241.0,1819.4h0M1243.4,1693.3h0M1215.7,1586.0h0M1230.9,1759.0h0M1178.6,1666.4h0M1217.8,1792.9h0M1227.6,1656.0h0M1244.2,1838.7h0M1210.4,1716.5h0M1243.8,1842.8h0M1227.0,1843.0h0M1233.1,1651.9h0M1219.4,1806.6h0M1247.6,1849.5h0M1235.1,1666.7h0M1230.9,1820.1h0M1249.0,1732.6h0M1237.4,1823.9h0M1243.4,1791.7h0M1245.8,1775.8h0M1227.9,1833.1h0M1211.0,1848.3h0M1244.6,1630.2h0M1226.8,1613.3h0M1196.3,1694.1h0M1226.9,1830.2h0M1197.7,1740.3h0M1222.1,1834.3h0M1194.3,1602.5h0M1246.1,1778.1h0M1238.4,1789.7h0M1210.1,1716.4h0M1243.7,1769.2h0M1218.3,1743.3h0M1209.3,1843.7h0M1245.1,1739.9h0M1242.1,1618.3h0M1223.0,1824.5h0M1225.8,1759.5h0M1230.2,1742.7h0M1245.3,1827.6h0M1227.5,1850.1h0M1220.7,1701.6h0M1233.4,1707.7h0M1239.9,1834.3h0M1247.4,1648.3h0M1242.0,1786.8h0M1233.0,1695.6h0M1238.6,1824.2h0M1209.7,1776.6h0M1209.7,1820.7h0M1243.7,1848.3h0M1247.2,1848.9h0M1200.2,1691.3h0M1245.4,1843.2h0M1218.4,1808.1h0M1194.2,1675.0h0M1244.7,1761.3h0M1244.5,1811.9h0M1227.2,1780.5h0M1244.0,1841.6h0M1248.1,1690.1h0M1162.5,1680.7h0M1231.7,1815.0h0M1220.8,1764.1h0M1190.9,1594.0h0M1210.0,1829.6h0M1226.5,1792.2h0M1249.2,1712.9h0M1208.8,1694.9h0M1230.7,1790.2h0M1244.1,1798.0h0M1248.3,1780.0h0M1223.0,1787.9h0M1229.6,1801.9h0M1211.7,1685.4h0M1241.6,1850.5h0M1247.7,1838.3h0M1198.0,1649.3h0M1214.7,1847.0h0M1173.0,1758.3h0M1234.2,1707.7h0M1143.7,1679.1h0M1216.3,1803.6h0M1246.4,1792.0h0M1247.8,1850.7h0M1246.0,1841.8h0M1219.0,1788.8h0M1234.7,1777.8h0M1237.9,1742.1h0M1215.1,1797.1h0M1244.8,1811.3h0M1192.0,1635.0h0M1239.3,1818.1h0M1225.4,1780.1h0M1249.2,1839.4h0M1221.0,1840.9h0M1238.3,1846.4h0M1244.9,1842.3h0M1239.9,1844.4h0M1248.7,1844.6h0M1246.0,1848.4h0M1247.7,1790.6h0M1239.0,1850.9h0M1221.9,1810.0h0M1240.3,1850.5h0M1248.6,1812.3h0M1237.0,1600.3h0M1238.0,1849.1h0M1231.7,1844.9h0M1246.5,1821.9h0M1226.8,1850.5h0M1219.0,1833.1h0M1184.0,1796.9h0M1243.5,1829.4h0M1216.7,1834.3h0M1236.4,1749.0h0M1229.3,1849.2h0M1204.6,1598.2h0M1248.7,1851.0h0M1246.0,1849.3h0M1248.3,1850.8h0M1216.8,1595.7h0M1151.6,1680.5h0M1243.0,1850.8h0M1211.6,1830.5h0M1240.6,1848.2h0M1225.7,1824.0h0M1240.2,1620.0h0M1202.1,1707.7h0M1216.2,1665.9h0M1228.2,1622.6h0M1243.3,1808.5h0M1224.5,1691.1h0M1245.6,1833.8h0M1217.0,1715.4h0M1232.5,1719.3h0M1245.1,1791.4h0M1248.5,1719.3h0M1214.9,1796.5h0M1245.9,1731.9h0M1214.2,1837.9h0M1184.1,1744.5h0M1223.4,1648.4h0M1190.1,1636.2h0M1239.7,1824.1h0M1240.4,1849.9h0M1243.8,1605.6h0M1246.0,1768.5h0M1231.1,1849.7h0M1248.3,1837.5h0M1230.8,1845.8h0M1248.9,1763.3h0M1185.1,1838.7h0M1233.8,1839.8h0M1214.6,1807.4h0M1203.8,1757.3h0M1243.7,1778.4h0M1247.8,1843.9h0M1244.4,1670.6h0M1190.9,1850.9h0M1208.2,1841.9h0M1238.4,1849.5h0M1216.2,1839.5h0M1218.7,1753.6h0M1232.0,1757.7h0M1217.6,1848.4h0M1200.6,1760.5h0M1235.0,1841.2h0M1217.8,1797.2h0M1241.9,1849.8h0M1247.4,1792.1h0M1213.1,1773.3h0M1225.3,1806.7h0M1242.2,1756.8h0M1237.6,1823.8h0M1245.0,1849.5h0M1201.2,1844.9h0M1176.7,1713.1h0M1170.0,1754.7h0M1181.9,1807.6h0M1212.5,1792.2h0M1233.2,1624.3h0M1239.6,1617.0h0M1226.9,1849.1h0M1234.7,1830.3h0M1248.0,1745.5h0M1237.6,1705.5h0M1239.5,1804.6h0M1200.1,1706.7h0M1247.1,1831.4h0M1238.7,1829.6h0M1246.4,1849.8h0M1204.8,1698.2h0M1229.0,1646.5h0M1242.5,1845.2h0M1231.3,1797.4h0M1237.3,1776.4h0M1235.1,1657.9h0M1196.8,1797.4h0M1235.4,1678.9h0M1218.1,1837.2h0M1246.8,1851.0h0M1229.0,1779.6h0M1248.3,1844.8h0M1222.2,1841.4h0M1155.6,1796.8h0M1247.4,1592.7h0M1249.0,1843.2h0M1239.7,1804.6h0M1235.6,1850.5h0M1242.7,1849.1h0M1218.4,1836.7h0M1242.4,1807.8h0M1239.6,1850.6h0M1215.2,1749.6h0M1224.1,1847.0h0M1222.0,1686.7h0M1216.5,1668.0h0M1245.6,1832.4h0M1231.5,1851.0h0M1164.9,1736.2h0M1233.6,1757.8h0M1244.4,1783.1h0M1228.3,1843.4h0M1208.6,1585.5h0M1239.5,1809.9h0M1210.5,1799.4h0M1234.3,1827.2h0M1206.3,1809.1h0M1140.7,1669.6h0M1234.5,1850.8h0M1231.1,1774.2h0M1225.1,1832.4h0M1244.3,1628.8h0M1234.3,1735.1h0M1190.9,1784.1h0M1198.6,1603.1h0M1202.9,1842.3h0M1240.5,1843.6h0M1233.8,1669.3h0M1191.1,1833.6h0M1230.9,1612.0h0M1241.9,1813.1h0M1244.2,1847.2h0M1245.1,1592.2h0M1245.1,1838.7h0M1236.3,1849.7h0M1184.0,1706.4h0M1197.5,1748.3h0M1243.5,1851.0h0M1245.7,1602.6h0M1236.5,1834.1h0M1233.9,1834.0h0M1244.6,1850.6h0M1241.6,1604.6h0M1240.4,1631.9h0M1191.5,1585.1h0M1244.5,1742.9h0M1224.7,1850.4h0M1245.4,1844.0h0M1211.6,1602.8h0M1246.8,1815.2h0M1246.5,1847.2h0M1241.6,1847.5h0M1245.6,1627.0h0M1198.1,1842.6h0M1240.9,1836.8h0M1217.1,1608.2h0M1236.5,1722.1h0M1242.0,1850.9h0M1194.3,1704.2h0M1231.9,1768.5h0M1233.7,1777.6h0M1201.8,1778.6h0M1232.7,1841.8h0M1244.9,1834.3h0M1183.1,1850.5h0M1202.9,1809.7h0M1249.0,1848.2h0M1181.1,1649.6h0M1189.9,1585.8h0M1211.2,1781.2h0M1235.7,1849.2h0M1245.5,1802.6h0M1237.9,1758.6h0M1237.3,1786.4h0M1240.2,1826.7h0M1155.2,1616.0h0M1237.0,1847.7h0M1234.5,1710.7h0M1238.9,1743.4h0M1219.3,1599.5h0M1230.6,1793.8h0M1233.9,1780.3h0M1247.1,1752.8h0M1206.1,1806.2h0M1246.9,1691.9h0M1228.8,1657.0h0M1226.1,1591.6h0M1234.5,1840.4h0M1224.4,1642.7h0M1195.9,1650.8h0M1241.6,1819.2h0M1236.3,1786.6h0M1226.5,1817.1h0M1211.1,1647.0h0M1244.8,1846.3h0M1228.7,1817.4h0M1247.7,1846.7h0M1242.5,1826.3h0M1235.9,1850.9h0M1213.7,1623.8h0M1186.6,1708.6h0M1245.0,1730.0h0M1228.5,1644.6h0M1195.2,1794.4h0M1245.1,1831.4h0M1212.4,1671.4h0M1248.8,1849.5h0M1249.1,1821.0h0M1241.0,1667.4h0M1239.7,1833.2h0M1234.7,1784.9h0M1216.6,1749.2h0M1246.9,1803.8h0M1190.0,1592.8h0M1239.1,1849.6h0M1249.1,1850.1h0M1235.7,1793.2h0M1229.3,1807.6h0M1239.3,1642.6h0M1247.2,1813.3h0M1248.4,1744.8h0M1214.1,1616.6h0M1246.7,1766.9h0M1237.4,1838.4h0M1216.5,1655.6h0M1170.2,1831.7h0M1243.3,1780.3h0M1203.4,1829.7h0M1235.8,1847.1h0M1236.1,1752.1h0M1159.7,1695.7h0M1241.2,1708.4h0M1239.5,1850.3h0M1244.9,1827.6h0M1238.7,1648.9h0M1226.0,1627.8h0M1245.4,1840.6h0M1237.4,1850.7h0M1207.6,1814.8h0M1246.8,1667.1h0M1238.3,1811.3h0M1244.0,1843.9h0M1226.4,1834.6h0M1246.8,1823.0h0M1238.4,1839.8h0M1241.5,1769.7h0M1241.1,1723.5h0M1219.0,1734.3h0M1224.1,1844.0h0M1232.1,1812.8h0M1220.6,1759.4h0M1247.9,1802.3h0M1240.4,1765.3h0M1197.2,1635.3h0M1217.5,1839.6h0M1227.6,1588.9h0M1215.2,1583.6h0M1226.4,1843.8h0M1221.9,1823.2h0M1246.0,1764.0h0M1199.3,1780.4h0M1230.2,1793.8h0M1224.0,1652.9h0M1227.4,1790.0h0M1240.1,1671.3h0M1224.3,1849.2h0M1239.4,1773.3h0M1153.1,1638.6h0M1156.9,1587.6h0M1249.0,1830.8h0M1206.0,1731.4h0M1235.5,1821.1h0M1241.3,1769.0h0M1221.6,1724.3h0M1104.9,1517.3h0M1117.1,1517.3h0M1161.3,1517.3h0M1185.8,1517.3h0M1233.3,1517.3h0M1116.3,1538.5h0M1184.2,1551.2h0M1191.6,1551.2h0M1196.5,1560.2h0M1216.1,1560.2h0M1229.2,1560.2h0M1239.8,1560.2h0M1145.0,1575.0h0M1161.3,1577.0h0M1183.8,1572.9h0M1186.7,1575.0h0M1243.1,1575.0h0M1245.6,1575.0h0M1094.6,1581.9h0M1145.0,1585.2h0M1191.6,1581.5h0M1124.5,1598.7h0M1202.2,1594.6h0M1207.9,1594.6h0M1213.7,1594.6h0M1242.3,1594.6h0M1186.7,1602.8h0M1241.5,1602.8h0M1116.3,1614.2h0M1150.7,1614.2h0M1166.2,1608.5h0M1239.8,1607.7h0M1042.7,1656.3h0M1149.0,1669.8h0M1125.3,1720.1h0M1144.1,1736.5h0M1123.3,1748.8h0M1144.1,1759.0h0M1153.1,1760.2h0M1168.7,1756.1h0M1139.6,1791.7h0M1151.9,1781.1h0M1168.7,1791.7h0M1153.1,1823.2h0M1156.4,1837.9h0M1171.1,1838.8h0M1145.8,1713.2h0M1153.9,1709.9h0M1161.3,1705.8h0M1162.1,1689.5h0M1165.4,1693.6h0" stroke="#00913a" stroke-width="5.2" stroke-linecap="round" fill="none"/>
<path d="M1296.2,1791.2h0M1305.4,1618.6h0M1299.1,1776.5h0M1289.8,1840.1h0M1321.5,1738.9h0M1284.4,1848.0h0M1301.8,1848.2h0M1280.8,1716.4h0M1306.0,1730.6h0M1279.7,1843.0h0M1280.9,1770.7h0M1283.5,1839.5h0M1287.7,1850.7h0M1316.4,1794.2h0M1302.5,1773.3h0M1303.2,1778.8h0M1286.2,1790.0h0M1324.5,1657.1h0M1283.9,1820.9h0M1280.7,1825.5h0M1296.3,1688.2h0M1297.6,1654.3h0M1360.8,1602.2h0M1282.6,1851.0h0M1305.2,1625.2h0M1302.1,1591.1h0M1292.7,1849.2h0M1290.0,1683.3h0M1284.9,1848.4h0M1341.4,1599.2h0M1283.4,1846.4h0M1280.3,1847.6h0M1286.2,1675.6h0M1293.7,1761.5h0M1298.6,1839.4h0M1293.7,1845.4h0M1287.0,1846.5h0M1284.2,1836.7h0M1351.1,1595.8h0M1315.2,1822.9h0M1286.9,1837.0h0M1317.9,1650.9h0M1340.8,1847.6h0M1283.9,1836.7h0M1292.7,1685.6h0M1280.8,1824.3h0M1291.2,1848.2h0M1293.6,1832.7h0M1290.4,1809.8h0M1308.1,1601.7h0M1328.9,1756.8h0M1281.9,1840.3h0M1348.2,1626.1h0M1282.8,1831.7h0M1368.4,1698.9h0M1323.2,1838.7h0M1315.5,1638.3h0M1281.6,1798.7h0M1322.8,1850.5h0M1298.1,1833.3h0M1306.5,1830.6h0M1288.3,1749.9h0M1297.7,1841.1h0M1283.0,1849.4h0M1325.3,1761.5h0M1288.1,1744.1h0M1288.8,1621.9h0M1283.6,1850.9h0M1280.8,1792.9h0M1286.1,1841.0h0M1283.0,1757.6h0M1319.0,1811.8h0M1327.2,1591.0h0M1305.2,1717.2h0M1280.0,1844.6h0M1311.1,1850.9h0M1377.4,1713.6h0M1292.8,1850.8h0M1307.4,1783.5h0M1290.0,1849.0h0M1351.9,1699.9h0M1317.7,1699.8h0M1363.7,1677.2h0M1299.8,1813.9h0M1361.3,1629.7h0M1309.7,1799.8h0M1311.7,1646.8h0M1292.3,1740.5h0M1302.8,1754.3h0M1293.1,1848.8h0M1375.7,1584.5h0M1294.8,1703.3h0M1306.8,1700.6h0M1315.9,1794.2h0M1298.1,1848.6h0M1291.6,1850.7h0M1285.1,1783.8h0M1299.9,1714.6h0M1345.5,1744.0h0M1279.7,1830.8h0M1298.1,1823.4h0M1282.2,1838.0h0M1322.9,1627.4h0M1324.0,1793.8h0M1298.1,1818.8h0M1287.7,1838.5h0M1365.0,1671.8h0M1298.3,1639.2h0M1289.0,1754.2h0M1289.0,1844.9h0M1348.3,1658.5h0M1370.0,1709.7h0M1282.5,1827.5h0M1286.0,1791.7h0M1287.4,1836.6h0M1297.6,1740.3h0M1310.1,1820.9h0M1306.4,1590.2h0M1279.9,1849.1h0M1281.1,1642.6h0M1305.0,1710.7h0M1305.5,1822.0h0M1281.4,1850.9h0M1280.0,1790.6h0M1289.3,1661.7h0M1280.2,1844.5h0M1295.3,1739.1h0M1307.9,1738.8h0M1286.0,1719.7h0M1283.7,1785.4h0M1287.9,1851.0h0M1285.5,1708.6h0M1286.2,1828.2h0M1301.2,1715.0h0M1316.3,1744.0h0M1308.8,1805.1h0M1283.2,1627.1h0M1333.0,1614.6h0M1287.8,1845.4h0M1343.3,1740.3h0M1294.8,1808.8h0M1341.2,1639.6h0M1305.9,1609.0h0M1285.8,1731.5h0M1331.9,1705.7h0M1313.9,1734.9h0M1313.6,1836.7h0M1315.7,1768.2h0M1320.1,1820.0h0M1295.5,1650.2h0M1287.3,1848.7h0M1314.0,1764.2h0M1280.1,1782.1h0M1281.8,1670.5h0M1286.1,1674.4h0M1306.2,1817.2h0M1281.7,1844.5h0M1308.3,1774.1h0M1322.3,1657.2h0M1308.4,1608.2h0M1283.4,1606.6h0M1290.7,1835.6h0M1300.7,1825.3h0M1299.5,1735.8h0M1309.7,1655.6h0M1287.5,1821.6h0M1364.6,1654.9h0M1307.6,1837.3h0M1312.1,1597.0h0M1285.0,1757.3h0M1295.7,1768.5h0M1280.2,1747.1h0M1311.4,1596.6h0M1309.9,1803.6h0M1295.8,1760.4h0M1281.5,1717.3h0M1291.9,1767.7h0M1289.6,1828.7h0M1287.3,1845.7h0M1361.0,1667.7h0M1287.6,1785.0h0M1293.5,1839.4h0M1285.2,1618.1h0M1280.3,1683.0h0M1283.3,1839.0h0M1290.8,1718.7h0M1296.6,1813.2h0M1297.3,1847.3h0M1289.3,1846.0h0M1282.9,1831.6h0M1292.7,1770.1h0M1289.2,1809.0h0M1283.5,1770.4h0M1294.2,1837.8h0M1299.9,1735.9h0M1314.7,1652.2h0M1289.4,1649.8h0M1332.1,1698.4h0M1294.7,1628.8h0M1322.4,1821.0h0M1375.0,1836.1h0M1285.1,1635.8h0M1299.3,1833.2h0M1281.1,1830.2h0M1299.3,1660.6h0M1284.1,1678.6h0M1301.4,1803.1h0M1282.5,1850.9h0M1349.6,1720.4h0M1284.9,1597.1h0M1310.8,1777.1h0M1304.9,1777.9h0M1280.6,1839.6h0M1280.0,1847.2h0M1296.6,1763.8h0M1283.4,1758.6h0M1282.8,1840.1h0M1283.7,1617.3h0M1319.6,1849.7h0M1309.4,1788.8h0M1290.2,1818.8h0M1292.1,1774.4h0M1279.9,1748.5h0M1334.8,1713.6h0M1288.2,1840.5h0M1295.9,1698.9h0M1282.1,1838.9h0M1279.9,1775.2h0M1343.4,1633.2h0M1338.5,1712.2h0M1293.3,1739.0h0M1297.4,1748.9h0M1352.6,1589.9h0M1317.3,1830.4h0M1327.3,1696.9h0M1297.9,1668.2h0M1363.6,1631.7h0M1322.5,1715.9h0M1296.6,1688.7h0M1281.8,1705.4h0M1290.5,1815.9h0M1285.3,1851.0h0M1306.0,1735.9h0M1323.3,1834.2h0M1291.1,1726.3h0M1303.1,1728.5h0M1290.9,1769.3h0M1326.6,1581.1h0M1322.2,1713.5h0M1280.5,1591.2h0M1314.5,1743.7h0M1287.5,1830.7h0M1282.4,1850.1h0M1281.4,1809.0h0M1316.0,1831.5h0M1296.2,1764.3h0M1316.3,1597.7h0M1325.8,1583.6h0M1282.3,1670.3h0M1315.7,1749.5h0M1314.6,1850.3h0M1288.5,1842.7h0M1289.2,1841.8h0M1281.1,1745.1h0M1302.7,1608.5h0M1300.3,1771.2h0M1285.5,1811.1h0M1302.3,1730.2h0M1299.8,1826.4h0M1279.7,1824.3h0M1280.2,1832.4h0M1299.3,1843.1h0M1321.8,1805.9h0M1281.2,1695.4h0M1310.9,1849.1h0M1292.3,1796.8h0M1291.8,1594.7h0M1342.2,1772.1h0M1298.9,1705.4h0M1355.0,1591.8h0M1282.6,1747.6h0M1295.6,1740.8h0M1280.3,1837.9h0M1282.5,1770.8h0M1301.6,1793.6h0M1285.7,1790.4h0M1293.0,1754.4h0M1304.8,1683.5h0M1288.0,1700.9h0M1309.9,1846.7h0M1312.6,1680.9h0M1285.1,1812.4h0M1303.7,1719.5h0M1304.7,1751.4h0M1286.3,1693.4h0M1339.6,1831.8h0M1365.5,1622.7h0M1280.3,1850.4h0M1288.3,1828.4h0M1282.4,1741.1h0M1281.5,1767.7h0M1280.5,1744.6h0M1283.0,1766.2h0M1283.3,1778.3h0M1284.4,1821.5h0M1286.8,1716.2h0M1286.6,1841.6h0M1286.1,1753.7h0M1280.8,1728.5h0M1285.0,1814.2h0M1284.8,1721.3h0M1285.2,1689.4h0M1287.9,1803.4h0M1282.2,1701.6h0M1281.1,1786.8h0M1281.3,1709.7h0M1285.5,1841.1h0M1282.9,1777.2h0M1282.3,1743.1h0M1288.3,1841.4h0M1280.7,1821.1h0M1281.4,1806.9h0M1281.0,1736.2h0M1283.6,1831.8h0M1280.3,1798.2h0M1284.5,1835.5h0M1290.3,1738.9h0M1284.5,1698.2h0M1288.4,1702.9h0M1283.2,1806.8h0M1289.5,1804.7h0M1286.8,1706.3h0M1282.8,1815.7h0M1283.4,1797.3h0M1282.2,1792.0h0M1281.8,1763.9h0M1289.3,1723.5h0M1282.1,1764.1h0M1280.1,1826.7h0M1290.5,1810.5h0M1286.1,1848.5h0M1280.2,1763.3h0M1285.1,1693.5h0M1287.3,1843.1h0M1280.0,1766.8h0M1281.7,1840.6h0M1281.3,1734.1h0M1280.8,1751.9h0M1279.7,1831.6h0M1287.2,1816.1h0M1280.1,1820.0h0M1285.9,1729.2h0M1286.8,1792.2h0M1291.4,1745.3h0M1287.8,1775.8h0M1281.5,1739.1h0M1287.9,1702.7h0M1284.8,1746.3h0M1283.0,1713.6h0M1289.0,1707.3h0M1283.6,1695.0h0M1284.5,1738.8h0M1284.4,1722.6h0M1282.1,1831.3h0M1284.7,1733.3h0M1279.8,1828.1h0M1283.4,1822.5h0M1281.5,1692.9h0M1280.5,1843.7h0M1282.0,1749.5h0M1280.3,1727.3h0M1281.2,1781.6h0M1280.7,1760.5h0M1280.3,1836.8h0M1280.3,1825.5h0M1283.3,1737.5h0M1280.1,1758.6h0M1282.9,1810.5h0M1279.7,1827.4h0M1284.1,1766.6h0M1283.6,1720.0h0M1280.0,1707.6h0M1283.2,1702.8h0M1285.1,1695.1h0M1279.8,1777.6h0M1281.2,1696.8h0M1284.4,1722.8h0M1283.8,1772.0h0M1287.3,1811.6h0M1280.0,1817.4h0M1284.6,1849.9h0M1280.4,1723.6h0M1282.0,1738.2h0M1281.4,1829.7h0M1280.1,1804.0h0M1290.2,1772.0h0M1283.7,1751.4h0M1279.7,1768.9h0M1279.5,1830.6h0M1279.8,1719.3h0M1280.5,1714.9h0M1281.5,1812.3h0M1284.5,1737.6h0M1283.0,1779.9h0M1288.5,1695.4h0M1284.9,1806.9h0M1289.8,1724.9h0M1285.4,1839.3h0M1281.2,1718.4h0M1285.9,1770.4h0M1281.8,1829.6h0M1283.5,1805.8h0M1281.6,1841.4h0M1285.1,1737.9h0M1280.5,1797.9h0M1281.8,1792.3h0M1289.3,1781.1h0M1281.6,1748.5h0M1285.5,1849.7h0M1285.3,1817.4h0M1280.3,1763.9h0M1279.7,1688.9h0M1281.5,1723.1h0M1286.6,1809.0h0M1283.8,1795.2h0M1280.6,1801.5h0M1281.6,1792.6h0M1283.1,1823.2h0M1285.6,1735.0h0M1290.8,1764.1h0M1284.4,1736.4h0M1288.2,1839.1h0M1286.1,1832.1h0M1284.0,1739.1h0M1287.8,1826.2h0M1285.3,1759.0h0M1280.0,1839.4h0M1282.6,1834.5h0M1290.3,1790.2h0M1284.8,1786.9h0M1285.0,1772.8h0M1286.8,1719.3h0M1282.2,1793.6h0M1284.3,1849.4h0M1284.2,1791.2h0M1293.8,1724.8h0M1280.3,1747.4h0M1280.2,1802.5h0M1281.0,1800.7h0M1281.6,1795.0h0M1281.9,1773.1h0M1289.2,1755.8h0M1280.7,1829.5h0M1290.9,1766.6h0M1282.5,1799.1h0M1279.5,1738.2h0M1287.9,1689.8h0M1280.4,1716.8h0M1286.5,1823.6h0M1282.0,1823.5h0M1279.7,1840.4h0M1286.5,1741.0h0M1284.1,1802.8h0M1281.7,1780.9h0M1282.3,1834.6h0M1280.0,1704.6h0M1285.8,1767.4h0M1282.0,1813.2h0M1289.3,1703.7h0M1280.0,1757.5h0M1281.5,1834.8h0M1283.4,1705.9h0M1288.5,1816.8h0M1284.0,1825.4h0M1280.7,1766.6h0M1280.1,1826.2h0M1286.7,1689.8h0M1282.4,1806.3h0M1279.9,1745.5h0M1284.7,1759.1h0M1283.0,1722.4h0M1279.9,1780.1h0M1284.7,1831.8h0M1284.0,1827.2h0M1280.1,1771.4h0M1286.4,1802.4h0M1287.2,1750.6h0M1281.4,1831.5h0M1284.4,1694.7h0M1283.0,1789.4h0M1282.8,1753.7h0M1287.8,1731.5h0M1289.7,1777.1h0M1279.9,1713.3h0M1285.8,1789.8h0M1282.3,1704.4h0M1285.1,1770.3h0M1280.4,1704.6h0M1287.6,1804.2h0M1282.4,1705.3h0M1286.8,1734.9h0M1284.6,1806.8h0M1282.0,1758.9h0M1280.7,1783.6h0M1280.9,1774.3h0M1280.6,1741.4h0M1279.8,1770.3h0M1284.0,1792.0h0M1290.1,1817.6h0M1284.4,1693.4h0M1283.2,1746.5h0M1283.6,1722.1h0M1279.7,1819.8h0M1286.4,1704.7h0M1280.2,1838.2h0M1282.1,1768.4h0M1283.5,1696.2h0M1279.5,1807.6h0M1289.9,1803.5h0M1283.8,1720.3h0M1283.9,1791.8h0M1285.0,1845.5h0M1283.2,1847.4h0M1282.2,1775.0h0M1285.5,1699.3h0M1280.4,1822.2h0M1289.5,1808.3h0M1284.8,1823.9h0M1283.2,1716.3h0M1284.3,1827.4h0M1283.1,1708.9h0M1279.6,1752.2h0M1280.8,1824.5h0M1280.7,1837.2h0M1283.9,1736.0h0M1290.0,1710.7h0M1284.9,1738.2h0M1285.7,1698.6h0M1282.8,1783.9h0M1281.3,1806.4h0M1280.6,1738.7h0M1282.7,1817.7h0M1280.8,1746.7h0M1284.5,1747.1h0M1282.7,1708.1h0M1281.6,1807.4h0M1281.6,1700.6h0M1283.2,1750.9h0M1285.2,1839.5h0M1280.1,1769.9h0M1286.4,1769.5h0M1281.5,1810.0h0M1280.3,1815.3h0M1281.7,1809.9h0M1279.6,1730.8h0M1283.8,1766.6h0M1292.1,1825.3h0M1289.0,1847.1h0M1279.5,1781.1h0M1284.8,1700.1h0M1282.4,1774.7h0M1285.6,1750.0h0M1284.6,1797.9h0M1287.3,1771.9h0M1284.1,1773.8h0M1286.2,1771.3h0M1283.8,1696.1h0M1287.7,1828.5h0M1280.0,1756.4h0M1285.2,1727.8h0M1280.5,1725.4h0M1283.3,1776.5h0M1285.0,1819.9h0M1282.5,1846.9h0M1281.0,1758.3h0M1286.3,1710.2h0M1280.1,1826.2h0M1280.3,1775.4h0M1283.4,1785.6h0M1281.0,1723.3h0M1285.3,1841.9h0M1283.3,1767.4h0M1279.7,1724.5h0M1282.5,1805.8h0M1282.4,1846.0h0M1286.3,1770.4h0M1281.5,1813.1h0M1280.7,1719.4h0M1279.6,1827.5h0M1282.6,1742.1h0M1279.9,1717.6h0M1281.3,1789.6h0M1282.5,1797.1h0M1293.3,1846.0h0M1280.6,1776.5h0M1295.0,1831.5h0M1279.6,1782.2h0M1281.0,1816.9h0M1282.9,1707.1h0M1283.6,1807.8h0M1280.8,1787.3h0M1280.2,1688.1h0M1279.9,1729.5h0M1283.3,1814.9h0M1279.8,1765.9h0M1285.4,1699.5h0M1287.3,1797.2h0M1292.3,1755.9h0M1285.8,1846.3h0M1283.9,1843.8h0M1283.1,1800.6h0M1289.5,1759.3h0M1284.7,1707.8h0M1280.7,1715.4h0M1280.2,1794.4h0M1283.1,1799.9h0M1282.5,1825.7h0M1280.5,1822.6h0M1284.0,1820.9h0M1280.4,1783.5h0M1284.1,1688.6h0M1289.1,1822.5h0M1286.8,1794.1h0M1283.1,1797.4h0M1282.9,1811.6h0M1279.9,1813.5h0M1287.0,1792.5h0M1283.4,1812.5h0M1286.6,1797.7h0M1289.8,1797.9h0M1281.4,1729.1h0M1290.9,1848.8h0M1281.2,1804.0h0M1281.0,1708.5h0M1280.3,1803.5h0M1285.9,1844.3h0M1279.6,1792.3h0M1281.0,1830.6h0M1284.0,1758.5h0M1280.4,1787.4h0M1285.0,1767.3h0M1285.8,1813.8h0M1281.0,1736.1h0M1282.1,1822.4h0M1280.8,1810.6h0M1284.8,1793.5h0M1280.2,1711.4h0M1283.9,1800.3h0M1280.7,1820.7h0M1279.8,1752.5h0M1284.7,1763.6h0M1293.0,1807.8h0M1282.8,1745.6h0M1281.3,1742.4h0M1289.8,1746.3h0M1282.5,1817.8h0M1284.3,1752.2h0M1282.5,1792.6h0M1283.0,1843.6h0M1282.7,1775.2h0M1282.4,1810.7h0M1284.0,1778.9h0M1281.5,1828.2h0M1282.9,1839.0h0M1282.2,1800.8h0M1280.9,1760.7h0M1287.3,1740.3h0M1282.2,1848.4h0M1280.8,1792.7h0M1281.0,1790.6h0M1286.6,1844.3h0M1279.7,1779.9h0M1279.5,1803.4h0M1280.7,1799.9h0M1283.3,1706.8h0M1281.2,1746.1h0M1286.7,1825.3h0M1280.9,1695.6h0M1290.8,1797.4h0M1285.4,1728.0h0M1283.5,1753.1h0M1283.3,1788.8h0M1284.8,1811.3h0M1289.1,1794.3h0M1282.3,1703.6h0M1280.2,1773.5h0M1288.8,1806.1h0M1290.7,1830.7h0M1280.6,1824.3h0M1287.5,1817.8h0M1284.6,1850.9h0M1281.0,1817.1h0M1283.4,1775.8h0M1284.9,1753.6h0M1286.3,1764.4h0M1291.7,1802.1h0M1283.0,1800.0h0M1282.5,1737.7h0M1284.8,1741.3h0M1292.1,1718.7h0M1284.0,1829.3h0M1283.8,1763.9h0M1281.5,1796.3h0M1288.1,1769.0h0M1279.5,1817.4h0M1284.2,1826.6h0M1280.9,1772.4h0M1280.9,1842.4h0M1280.2,1837.7h0M1282.0,1782.8h0M1282.7,1727.9h0M1279.9,1711.3h0M1283.4,1710.7h0M1280.9,1773.5h0M1286.1,1723.7h0M1284.8,1815.1h0M1281.7,1737.8h0M1283.8,1730.2h0M1282.8,1715.5h0M1285.6,1787.9h0M1298.1,1836.6h0M1307.2,1842.7h0M1288.1,1808.1h0M1283.6,1834.8h0M1280.0,1811.0h0M1315.2,1830.7h0M1281.5,1849.6h0M1289.6,1835.7h0M1288.8,1832.9h0M1318.1,1847.8h0M1302.5,1804.3h0M1280.2,1807.8h0M1303.5,1816.0h0M1281.2,1850.7h0M1280.0,1818.1h0M1292.0,1828.6h0M1285.9,1820.3h0M1309.2,1841.2h0M1288.6,1815.9h0M1305.3,1832.3h0M1288.5,1850.1h0M1294.7,1836.0h0M1281.7,1841.2h0M1281.0,1810.5h0M1284.2,1847.8h0M1281.2,1825.9h0M1280.0,1817.8h0M1281.7,1829.7h0M1284.8,1832.6h0M1292.0,1813.1h0M1284.4,1819.9h0M1280.4,1804.5h0M1285.9,1845.8h0M1282.5,1805.8h0M1318.6,1825.7h0M1310.9,1811.9h0M1289.4,1825.7h0M1288.7,1841.6h0M1294.9,1804.8h0M1298.1,1834.2h0M1315.0,1815.5h0M1318.4,1844.4h0M1309.0,1823.7h0M1282.3,1837.5h0M1282.2,1803.3h0M1280.5,1807.8h0M1304.6,1819.6h0M1293.3,1817.2h0M1283.1,1802.5h0M1279.9,1849.0h0M1307.7,1827.8h0M1303.7,1840.8h0M1307.3,1821.5h0M1305.4,1842.6h0M1280.9,1850.3h0M1289.0,1848.6h0M1284.2,1836.6h0M1280.0,1846.6h0M1283.5,1830.3h0M1287.8,1821.0h0M1307.7,1834.2h0M1298.9,1819.8h0M1285.0,1819.3h0M1286.2,1846.4h0M1286.7,1806.6h0M1283.2,1838.3h0M1294.7,1838.4h0M1282.4,1835.3h0M1281.6,1807.1h0M1290.0,1819.1h0M1292.8,1802.4h0M1286.2,1821.7h0M1315.9,1828.3h0M1311.6,1812.0h0M1304.7,1817.7h0M1318.0,1807.3h0M1316.5,1823.1h0M1289.2,1812.7h0M1282.4,1836.6h0M1300.7,1815.4h0M1286.3,1848.5h0M1287.4,1810.9h0M1281.8,1850.5h0M1288.1,1833.1h0M1283.2,1833.5h0M1312.0,1832.2h0M1298.4,1844.0h0M1295.6,1826.7h0M1309.2,1807.5h0M1290.9,1835.8h0M1289.6,1834.6h0M1283.6,1820.8h0M1295.8,1831.4h0M1280.1,1827.2h0M1290.6,1832.7h0M1296.8,1831.1h0M1281.8,1847.7h0M1318.3,1824.9h0M1286.0,1838.2h0M1318.1,1838.1h0M1310.9,1821.7h0M1318.2,1808.2h0M1283.7,1826.0h0M1299.4,1843.2h0M1308.7,1848.0h0M1293.2,1841.1h0M1280.4,1850.7h0M1302.5,1844.6h0M1307.5,1814.2h0M1294.3,1824.2h0M1282.8,1844.4h0M1299.1,1815.7h0M1295.1,1805.6h0M1292.4,1840.6h0M1307.1,1813.8h0M1305.5,1843.9h0M1313.1,1828.9h0M1281.8,1841.1h0M1280.9,1819.9h0M1287.0,1803.8h0M1309.0,1844.4h0M1282.5,1807.7h0M1309.8,1821.0h0M1312.9,1832.2h0M1318.0,1805.5h0M1298.4,1812.1h0M1303.3,1845.0h0M1300.3,1811.6h0M1280.0,1823.1h0M1286.1,1818.6h0M1284.9,1832.9h0M1301.6,1831.5h0M1281.4,1810.8h0M1291.4,1836.0h0M1281.2,1808.3h0M1297.5,1848.1h0M1282.8,1819.5h0M1301.5,1850.8h0M1287.5,1838.1h0M1289.2,1817.2h0M1298.5,1809.1h0M1308.2,1822.8h0M1291.0,1822.0h0M1315.2,1826.8h0M1302.1,1818.9h0M1296.1,1813.5h0M1311.2,1815.9h0M1310.1,1816.0h0M1290.9,1835.2h0M1288.4,1847.8h0M1297.1,1838.4h0M1280.4,1824.0h0M1285.0,1822.5h0M1316.0,1823.6h0M1301.6,1816.3h0M1284.0,1834.9h0M1281.4,1822.1h0M1284.2,1845.9h0M1286.9,1822.6h0M1309.9,1842.2h0M1294.7,1830.9h0M1312.5,1806.8h0M1287.6,1806.3h0M1303.0,1820.3h0M1287.0,1834.8h0M1315.7,1846.0h0M1298.6,1803.1h0M1287.6,1825.0h0M1286.1,1824.8h0M1297.3,1834.9h0M1317.3,1849.6h0M1288.7,1850.7h0M1299.4,1842.6h0M1318.6,1836.4h0M1291.2,1805.2h0M1299.7,1821.6h0M1318.1,1812.6h0M1287.8,1812.2h0M1288.7,1809.0h0M1280.7,1838.4h0M1299.4,1810.1h0M1304.0,1832.5h0M1307.7,1814.4h0M1305.8,1837.8h0M1291.5,1807.8h0M1310.4,1802.7h0M1312.5,1848.3h0M1287.2,1803.1h0M1294.1,1828.2h0M1306.5,1807.4h0M1293.0,1816.7h0M1295.6,1808.1h0M1280.7,1808.3h0M1285.4,1827.1h0M1284.1,1840.1h0M1280.3,1822.3h0M1290.8,1812.6h0M1291.1,1829.3h0M1281.0,1843.7h0M1281.9,1843.7h0M1352.2,1683.7h0M1338.8,1691.0h0M1355.0,1671.1h0M1344.6,1685.9h0M1351.4,1696.6h0M1344.5,1673.8h0M1349.3,1692.9h0M1348.1,1686.0h0M1340.7,1703.6h0M1338.4,1674.2h0M1351.1,1687.6h0M1349.3,1688.1h0M1355.2,1696.0h0M1342.2,1692.9h0M1338.6,1672.7h0M1352.4,1682.2h0M1333.0,1685.3h0M1341.6,1689.2h0M1345.1,1679.7h0M1341.3,1691.1h0M1340.0,1686.4h0M1339.7,1688.8h0M1350.1,1719.2h0M1346.8,1718.2h0M1336.5,1711.3h0M1341.7,1718.1h0M1338.3,1719.6h0M1337.7,1714.7h0M1341.3,1703.6h0M1346.3,1714.5h0M1341.8,1713.8h0M1330.9,1701.3h0M1336.9,1723.1h0M1338.4,1719.6h0M1336.2,1706.4h0M1339.0,1723.7h0M1333.1,1712.5h0M1343.3,1715.3h0M1408.7,1703.5h0M1410.7,1690.2h0M1413.0,1691.9h0M1406.6,1708.5h0M1424.9,1708.5h0M1411.6,1691.9h0M1403.8,1710.1h0M1411.0,1687.4h0M1419.2,1702.0h0M1417.5,1700.7h0M1394.6,1692.2h0M1407.9,1696.5h0M1418.8,1692.7h0M1408.1,1697.3h0M1408.2,1690.0h0M1400.7,1678.6h0M1411.0,1696.2h0M1410.1,1689.9h0M1408.8,1690.5h0M1402.1,1700.2h0M1413.0,1702.0h0M1408.5,1694.8h0M1418.0,1706.9h0M1404.6,1689.6h0M1320.6,1764.2h0M1314.3,1770.6h0M1308.5,1760.4h0M1320.0,1766.4h0M1309.6,1761.7h0M1325.9,1767.7h0M1317.6,1763.2h0M1314.4,1764.4h0M1308.3,1709.0h0M1306.4,1714.2h0M1307.2,1716.8h0M1318.0,1716.5h0M1315.4,1716.8h0M1313.8,1716.2h0M1314.6,1716.0h0M1308.5,1712.4h0M1292.6,1634.3h0M1301.3,1626.3h0M1292.7,1627.3h0M1303.4,1629.6h0M1297.0,1626.8h0M1297.7,1638.1h0M1294.4,1628.4h0M1308.2,1633.8h0M1291.8,1635.6h0M1291.1,1633.0h0M1283.8,1625.3h0M1303.7,1627.3h0M1294.2,1630.5h0M1298.4,1627.9h0M1294.5,1639.1h0M1307.0,1631.8h0M1296.0,1649.7h0M1302.4,1655.5h0M1316.4,1649.7h0M1305.6,1650.2h0M1305.6,1648.7h0M1307.3,1659.4h0M1301.6,1650.8h0M1305.4,1645.1h0M1317.9,1645.0h0M1301.9,1647.6h0M1315.6,1649.9h0M1300.8,1663.6h0M1303.6,1648.2h0M1304.5,1653.8h0M1287.3,1517.3h0M1300.4,1517.3h0M1303.6,1517.3h0M1320.8,1517.3h0M1323.3,1517.3h0M1339.2,1517.3h0M1398.5,1517.3h0M1402.6,1517.3h0M1284.0,1538.5h0M1287.3,1538.5h0M1299.6,1538.5h0M1311.0,1538.5h0M1319.2,1538.5h0M1329.0,1538.5h0M1297.1,1551.2h0M1326.5,1551.2h0M1332.3,1551.2h0M1403.4,1551.2h0M1296.3,1560.2h0M1311.8,1560.2h0M1347.0,1560.2h0M1375.2,1560.2h0M1383.4,1560.2h0M1439.0,1560.2h0M1450.9,1577.4h0M1386.3,1577.4h0M1360.9,1572.9h0M1333.9,1572.9h0M1306.9,1566.8h0M1288.1,1577.4h0M1282.4,1581.9h0M1347.0,1585.2h0M1354.4,1585.2h0M1367.4,1591.3h0M1356.0,1594.6h0M1391.2,1594.6h0M1401.8,1591.3h0M1345.4,1600.7h0M1337.2,1607.7h0M1340.5,1613.8h0M1406.7,1613.0h0M1375.6,1617.9h0M1387.1,1619.9h0M1383.0,1626.5h0M1374.8,1629.8h0M1392.8,1626.5h0M1398.5,1637.5h0M1335.5,1632.2h0M1354.4,1637.5h0M1357.6,1642.4h0M1339.6,1643.7h0M1326.5,1642.8h0M1369.9,1653.5h0M1365.8,1660.0h0M1383.8,1661.7h0M1405.9,1662.9h0M1324.1,1664.9h0M1387.1,1679.2h0M1365.0,1701.7h0M1378.9,1705.0h0M1436.2,1705.8h0M1381.4,1727.1h0M1359.3,1731.2h0M1366.6,1734.5h0M1411.6,1736.9h0M1528.6,1729.6h0M1389.1,1757.4h0M1430.4,1765.1h0M1385.0,1770.0h0M1386.3,1776.6h0M1353.5,1776.6h0M1343.7,1784.4h0M1341.3,1798.7h0M1398.5,1804.0h0M1352.7,1835.5h0M1335.5,1827.3h0M1329.0,1828.5h0M1335.5,1848.2h0M1372.4,1850.2h0M1359.3,1744.7h0M1359.3,1748.8h0M1349.5,1751.6h0M1345.4,1751.6h0M1340.5,1745.9h0" stroke="#e60012" stroke-width="5.2" stroke-linecap="round" fill="none"/>
<path d="M1019,1496V1966.5M1016.5,1964.3H1553.2" stroke="#000" stroke-width="5" fill="none"/>
<path d="M1021.5,1851.4H1553.2" stroke="#000" stroke-width="5" stroke-dasharray="18.5,13.5" fill="none"/>
<rect x="1765.6" y="1487.3" width="520.7" height="473.7" fill="#fff"/>
<path d="M1839.4,1487.3V1961M1965.1,1487.3V1961M2090.4,1487.3V1961M2216.0,1487.3V1961M1765.6,1525.9H2286.3M1765.6,1647.5H2286.3M1765.6,1769.2H2286.3M1765.6,1890.8H2286.3" stroke="#f0f0f0" stroke-width="0.8" fill="none"/>
<path d="M1776.8,1487.3V1961M1902.1,1487.3V1961M2027.3,1487.3V1961M2153.0,1487.3V1961M2278.3,1487.3V1961M1765.6,1586.9H2286.3M1765.6,1708.5H2286.3M1765.6,1829.8H2286.3M1765.6,1952.2H2286.3" stroke="#e6e6e6" stroke-width="1.4" fill="none"/>
<path d="M1957.9,1746.3h0M1961.1,1751.5h0M1933.8,1757.9h0M1954.3,1764.3h0M1944.6,1767.6h0M1943.0,1773.6h0M1935.4,1776.4h0M1945.4,1779.6h0M1955.9,1783.6h0M1908.1,1790.4h0M1892.8,1803.7h0M1914.1,1806.5h0M1926.2,1808.9h0M1776.4,1951.8h0" stroke="#ffff00" stroke-width="7" stroke-linecap="round" fill="none"/>
<path d="M2005.3,1752.7h0M2015.3,1747.5h0M1983.2,1761.5h0M1994.4,1765.6h0M2003.2,1769.6h0M1997.2,1767.6h0M2003.2,1772.8h0M1969.1,1770.8h0M2019.3,1759.5h0M2023.3,1763.5h0M2027.3,1767.6h0M2032.6,1769.6h0M2053.4,1761.5h0M2061.5,1755.5h0M2069.1,1760.3h0M2014.1,1776.8h0M2011.3,1781.6h0M1995.6,1785.2h0M2021.7,1786.8h0M2026.5,1790.4h0M2039.4,1789.2h0M2053.4,1788.4h0M2010.1,1826.2h0M2051.4,1831.8h0M1995.2,1843.8h0M2008.9,1846.7h0" stroke="#ee0000" stroke-width="7" stroke-linecap="round" fill="none"/>
<path d="M2140.2,1552.4h0M2276.7,1572.0h0M2117.7,1587.3h0M2185.1,1601.7h0M2092.4,1621.4h0M2095.6,1627.8h0M2113.3,1629.0h0M2133.3,1627.4h0M2223.7,1634.3h0M2095.6,1634.3h0M2102.8,1637.5h0M2114.1,1639.1h0M2107.6,1640.7h0M2102.8,1643.1h0M2141.4,1658.8h0" stroke="#0000ee" stroke-width="7" stroke-linecap="round" fill="none"/>
<path d="M2014.5,1495.3h0M2018.9,1507.4h0M2002.8,1587.3h0M2011.7,1635.5h0M2041.8,1628.6h0M2052.6,1624.2h0M2078.7,1624.6h0M2086.0,1627.0h0M2104.0,1618.2h0M2071.5,1631.0h0M2065.5,1633.1h0M2057.4,1634.3h0M2083.5,1631.9h0M2047.4,1643.1h0M2053.4,1644.3h0M2061.5,1642.3h0M2065.5,1649.1h0M2074.7,1646.3h0M2087.6,1647.1h0M2091.6,1649.1h0M2026.5,1643.1h0M2026.5,1651.9h0M2033.4,1650.3h0M2035.4,1655.1h0M2041.4,1656.3h0M2093.6,1655.1h0M2061.5,1647.9h0M2080.3,1628.6h0M2031.3,1653.1h0M2049.4,1645.1h0" stroke="#00ff00" stroke-width="7" stroke-linecap="round" fill="none"/>
<path d="M2069.2,1697.0h0M2004.0,1705.4h0M2064.5,1712.1h0M2029.7,1673.7h0M2015.0,1715.7h0M2057.3,1675.8h0M2022.9,1703.8h0M2029.4,1684.7h0M2037.8,1701.5h0M2045.0,1662.4h0M2057.2,1680.1h0M2021.3,1710.5h0M2052.2,1672.9h0M2078.2,1693.5h0M2093.7,1680.8h0M2008.2,1732.3h0M2029.9,1726.2h0M2039.2,1699.3h0M2038.4,1679.8h0M2028.0,1686.7h0M2013.2,1675.2h0M1988.7,1722.1h0M2063.4,1689.3h0M2033.5,1683.3h0M2020.1,1724.4h0M2014.0,1724.9h0M2057.2,1674.5h0M2045.0,1689.0h0M1979.0,1673.4h0M2005.2,1726.7h0M1988.0,1729.5h0M2056.3,1710.3h0M1995.1,1723.5h0M2046.7,1699.5h0M2024.4,1754.4h0M2028.5,1731.3h0M2034.9,1708.1h0M2083.9,1667.9h0M2025.3,1682.2h0M2001.0,1695.2h0M2061.2,1663.3h0M2044.7,1667.8h0M2026.9,1718.2h0M2038.5,1682.9h0M2083.3,1669.3h0M2023.2,1679.6h0M2034.0,1690.8h0M2042.8,1710.2h0M2024.0,1715.1h0M2058.4,1683.8h0M2018.2,1684.4h0M2064.4,1732.2h0M1990.9,1733.2h0M2051.6,1683.9h0M2037.3,1656.4h0M2046.2,1662.7h0M2011.8,1734.4h0M2036.9,1677.5h0M2011.9,1715.0h0M2032.0,1696.3h0M1980.4,1692.3h0M2068.5,1669.4h0M1984.2,1707.4h0M2012.1,1709.3h0M1999.8,1766.9h0M2040.5,1684.0h0M2045.5,1693.0h0M2061.9,1675.1h0M2084.3,1688.3h0M2020.7,1699.9h0M2009.5,1716.3h0M2016.4,1715.7h0M2048.2,1698.0h0M2019.4,1739.8h0M2025.0,1704.3h0M1996.2,1684.7h0M2017.8,1669.3h0M2061.5,1672.6h0M2080.2,1669.7h0M2068.7,1699.8h0M2052.2,1719.3h0M2034.0,1704.7h0M2024.2,1721.4h0M2043.9,1675.9h0M2002.0,1728.3h0M2042.1,1686.3h0M2000.9,1712.2h0M1994.2,1670.7h0M2037.5,1730.9h0M1999.6,1726.0h0M2084.0,1667.4h0M2054.4,1674.6h0M2037.5,1767.2h0M2044.1,1694.3h0M2084.1,1669.8h0M2021.3,1682.7h0M2028.1,1700.2h0M2006.2,1703.3h0M2007.7,1720.7h0M2024.3,1717.8h0M2062.4,1678.4h0M2053.8,1718.1h0M2031.0,1663.7h0M2018.5,1718.0h0M2021.7,1729.2h0M1966.7,1715.4h0M2064.9,1682.6h0M1995.4,1737.5h0M1989.2,1711.0h0M1987.6,1699.4h0M2003.4,1691.2h0M2063.2,1725.9h0M2019.2,1735.2h0M2036.0,1695.7h0M2035.3,1716.8h0M2027.2,1713.5h0M2022.2,1705.9h0M2042.9,1746.6h0M2018.0,1685.3h0M2101.0,1672.5h0M2020.4,1694.7h0M2031.0,1732.0h0M2016.5,1697.0h0M2050.7,1675.0h0M2056.5,1724.9h0M2070.3,1694.1h0M2059.9,1705.2h0M2041.4,1715.0h0M2053.9,1668.2h0M2008.7,1736.0h0M2038.1,1709.2h0M2025.4,1719.6h0M2086.8,1706.2h0M2082.1,1661.0h0M2060.7,1656.2h0M2063.9,1672.4h0M2070.2,1671.2h0M2018.8,1694.8h0M2064.9,1669.4h0M2056.9,1687.7h0M1991.0,1754.9h0M2029.3,1712.4h0M2022.5,1663.6h0M2025.0,1705.2h0M2054.8,1701.4h0M2013.8,1711.7h0M2025.6,1659.9h0M2067.5,1669.0h0M2092.6,1667.2h0M2011.2,1677.3h0M2040.7,1699.6h0M2030.9,1669.2h0M2003.4,1708.1h0M2029.3,1680.5h0M2042.2,1713.3h0M2040.1,1725.9h0M2037.5,1688.3h0M2066.4,1678.9h0M2019.0,1697.7h0M2036.7,1704.0h0M2064.7,1674.8h0M2001.6,1696.0h0M2044.6,1697.5h0M2054.5,1664.7h0M2012.3,1740.1h0M2013.9,1686.8h0M2085.1,1670.6h0M2038.5,1700.6h0M2027.7,1729.0h0M2017.2,1702.9h0M2011.9,1690.8h0M2079.5,1695.6h0M2018.0,1697.4h0M2015.6,1661.9h0M1975.1,1743.7h0M2055.0,1672.7h0M2032.5,1695.6h0M2027.1,1732.6h0M1987.9,1716.2h0M2018.6,1700.9h0M2054.4,1664.9h0M2039.8,1680.5h0M2064.4,1667.9h0M2019.3,1671.2h0M2042.6,1673.4h0M2061.5,1684.0h0M2060.9,1700.1h0M2031.6,1678.2h0M2039.4,1696.9h0M2012.5,1734.3h0M2072.3,1666.8h0M2042.0,1701.7h0M2053.5,1665.4h0M2047.4,1666.2h0M2052.9,1692.5h0M2010.4,1737.4h0M2017.8,1671.8h0M2014.6,1701.1h0M2016.9,1725.0h0M2014.7,1717.9h0M2003.6,1720.8h0M2083.2,1660.5h0M1983.7,1723.2h0M2009.6,1680.8h0M2056.7,1674.8h0M2032.4,1700.8h0M2002.4,1699.9h0M1937.2,1751.3h0M2047.7,1701.7h0M2005.9,1679.2h0M2025.6,1707.0h0M2019.0,1746.9h0M2006.0,1725.1h0M2018.2,1736.0h0M1991.3,1716.8h0M2044.7,1655.8h0M2027.0,1718.3h0M2020.0,1667.4h0M2044.4,1680.4h0M2057.1,1685.6h0M2018.8,1702.0h0M2034.1,1680.4h0M2015.2,1696.8h0M2045.1,1704.0h0M1994.8,1736.6h0M2059.7,1710.6h0M2031.0,1732.3h0M2028.6,1715.4h0M2042.1,1696.8h0M2012.6,1694.0h0M2087.8,1682.0h0M2028.3,1699.1h0M2011.4,1686.3h0M2011.3,1730.2h0M2053.6,1673.1h0M1996.9,1706.8h0M2027.0,1722.1h0M2016.5,1679.0h0M2009.0,1730.3h0M2062.6,1714.2h0M2070.6,1666.8h0M2019.2,1717.3h0M1996.9,1716.6h0M2065.4,1682.6h0M2075.3,1696.8h0M2033.2,1718.7h0M2038.9,1700.9h0M2045.5,1700.1h0M1982.2,1713.7h0M2041.6,1702.6h0M2020.1,1708.7h0M2010.9,1744.3h0M2063.2,1707.1h0M2022.0,1707.0h0M2052.0,1714.6h0M2051.9,1690.2h0M1982.3,1726.4h0M1995.0,1731.0h0M2054.8,1678.9h0M2036.2,1746.6h0M2023.7,1742.5h0M2064.7,1674.4h0M2015.8,1707.8h0M2040.0,1687.4h0M2012.4,1688.4h0M2054.8,1697.5h0M1999.0,1700.2h0M2014.0,1746.5h0M2055.9,1683.5h0M2057.7,1686.9h0M2023.9,1666.9h0M2054.6,1695.4h0M2073.0,1684.1h0M2019.9,1718.1h0M2016.8,1750.7h0M2008.6,1740.2h0M2003.7,1706.7h0M2007.3,1715.5h0M2056.5,1704.0h0M2036.6,1716.7h0M2080.2,1704.5h0M2022.5,1716.7h0M2051.8,1684.0h0M2040.0,1675.2h0M2016.6,1698.9h0M2006.4,1702.2h0M2015.3,1685.1h0M2026.5,1719.7h0M1981.5,1722.2h0M2009.8,1694.4h0M2032.3,1746.5h0M2035.4,1684.9h0M1995.5,1696.0h0M1975.7,1696.2h0M2040.2,1678.8h0M2055.0,1677.0h0M2056.6,1697.9h0M2012.4,1704.5h0M2051.1,1726.0h0M1989.0,1714.5h0M2020.9,1660.9h0M2060.0,1668.6h0M2010.0,1692.2h0M2065.0,1660.7h0M2008.4,1738.6h0M2036.2,1708.6h0M2027.8,1712.9h0M2044.3,1688.1h0M1999.4,1743.7h0M2072.1,1671.6h0M2065.6,1686.7h0M2039.0,1719.4h0M2014.7,1691.3h0M2015.4,1741.7h0M2058.1,1690.0h0M1996.5,1688.5h0M2050.9,1678.9h0M2010.6,1705.1h0M1995.8,1688.2h0M2057.0,1693.0h0M2049.9,1673.3h0M1985.5,1710.5h0M2047.4,1728.4h0M2056.0,1677.0h0M2054.7,1697.9h0M2037.4,1700.1h0M2031.0,1686.1h0M1998.2,1718.4h0M2017.2,1703.5h0M2028.4,1691.9h0M2047.7,1675.2h0M2041.9,1707.9h0M2012.4,1746.1h0M2041.7,1657.3h0M2021.6,1691.2h0M2034.0,1717.3h0M1998.1,1753.7h0M2043.5,1688.4h0M2001.5,1739.0h0M2028.8,1687.0h0M1957.7,1724.5h0M2077.1,1676.4h0M1982.1,1753.1h0M2062.6,1697.7h0M2081.3,1683.3h0M2029.2,1696.3h0M2034.9,1710.0h0M1997.1,1706.9h0M2056.3,1670.3h0M2007.1,1713.2h0M2006.0,1709.3h0M2002.9,1743.4h0M2051.2,1700.8h0M2025.9,1687.8h0M2094.2,1662.7h0M2057.9,1696.5h0M2035.0,1715.1h0M2027.6,1729.2h0M2066.4,1687.2h0M2044.4,1691.0h0M2047.7,1702.5h0M2031.1,1718.3h0M2036.2,1664.0h0M1995.4,1742.7h0M2014.8,1696.2h0M1989.1,1713.7h0M1988.7,1732.8h0M1974.0,1713.2h0M2048.9,1721.0h0M2060.9,1667.2h0M2039.3,1686.4h0M2020.4,1691.5h0M2020.1,1684.8h0M2013.1,1714.0h0M2056.5,1726.6h0M1997.9,1705.0h0M2055.6,1690.8h0M2047.9,1681.0h0M1991.9,1729.6h0M2001.1,1727.7h0M2048.8,1710.2h0M2010.0,1739.8h0M2015.9,1697.9h0M2011.6,1694.6h0M2054.7,1679.8h0M2027.6,1715.8h0M1962.0,1698.5h0M2057.4,1660.3h0M2039.7,1669.3h0M1975.0,1727.5h0M2059.4,1681.9h0M2025.8,1722.3h0M2027.7,1707.8h0M1978.2,1694.9h0M2043.0,1705.3h0M2030.6,1740.1h0M2061.0,1714.6h0M2063.8,1699.0h0M2008.1,1685.8h0M2102.5,1663.4h0M2037.8,1670.5h0M2041.2,1664.3h0M2056.5,1698.1h0M2032.4,1673.9h0M2049.6,1686.7h0M2061.6,1702.0h0M2006.0,1703.5h0M2028.9,1734.4h0M2056.2,1705.4h0M2044.1,1699.3h0M2032.4,1710.1h0M2019.6,1736.9h0M1984.8,1732.0h0M2023.9,1709.2h0M2017.1,1688.9h0M1999.6,1662.5h0M2013.5,1714.9h0M2026.8,1728.0h0M2033.9,1708.6h0M2015.5,1737.9h0M2030.5,1662.0h0M2013.0,1737.5h0M2082.0,1666.2h0M2018.7,1693.5h0M2015.8,1719.0h0M2027.8,1678.3h0M2016.0,1659.1h0M2025.3,1681.9h0M2026.3,1756.4h0M2041.9,1680.9h0M2022.3,1743.2h0M2023.9,1687.1h0M1984.8,1767.1h0M2055.4,1688.0h0M1982.2,1700.9h0M2054.8,1668.3h0M2032.9,1714.9h0M2052.8,1723.7h0M2065.4,1691.9h0M2044.6,1680.3h0M2001.3,1707.2h0M2059.0,1667.2h0M1981.9,1751.7h0M2026.5,1691.0h0M2029.5,1678.1h0M2008.5,1723.8h0M2046.3,1706.1h0M2044.8,1702.2h0M2028.3,1695.3h0M1996.4,1714.5h0M2014.2,1684.5h0M2046.7,1676.4h0M2069.7,1681.7h0M2061.9,1745.6h0M2057.3,1657.0h0M2034.4,1681.1h0M2010.5,1723.1h0M2030.1,1721.9h0M2000.5,1735.6h0M2066.0,1671.7h0M2102.2,1679.5h0M1996.9,1723.2h0M2036.2,1732.0h0M1993.1,1683.9h0M2011.5,1710.1h0M2025.0,1700.8h0M2021.8,1688.1h0M2024.3,1694.1h0M2016.7,1705.8h0M2054.3,1682.6h0M2037.3,1674.2h0M1987.2,1737.0h0M2050.9,1678.8h0M1997.9,1691.5h0M2028.3,1681.0h0M1994.4,1743.4h0M2047.8,1713.6h0M1982.9,1710.8h0M2053.5,1716.4h0M2043.5,1703.1h0M2000.9,1735.4h0M1971.6,1711.1h0M2062.2,1697.2h0M2015.7,1718.1h0M2041.8,1683.3h0M2036.5,1702.7h0M1996.5,1705.2h0M2070.7,1718.6h0M2016.1,1702.6h0M2037.5,1741.1h0M2057.4,1692.2h0M1995.3,1766.3h0M2037.9,1717.9h0M2068.0,1710.0h0M2075.1,1702.8h0M2030.0,1728.6h0M2040.2,1677.9h0M1995.8,1728.6h0M2005.1,1713.8h0M2011.6,1702.2h0M2036.6,1698.1h0M1997.9,1712.6h0M2030.7,1687.0h0M2008.5,1698.1h0M1983.8,1739.2h0M2005.6,1722.2h0M2019.2,1700.9h0M2043.1,1667.1h0M2064.3,1676.0h0M2020.5,1719.9h0M2047.8,1676.4h0M2052.8,1681.7h0M2000.7,1737.2h0M2058.3,1683.6h0M2018.7,1689.7h0M2068.6,1699.8h0M2006.0,1740.2h0M1990.9,1744.3h0M2029.9,1664.6h0M2000.8,1732.3h0M2029.9,1708.9h0M2013.6,1667.9h0M2060.3,1684.3h0M1982.3,1727.9h0M1987.4,1737.4h0M2021.0,1737.6h0M2026.6,1672.3h0M2071.4,1666.3h0M2054.2,1678.2h0M2078.9,1682.6h0M2070.1,1697.9h0M2052.2,1687.8h0M1987.4,1689.0h0M2071.5,1676.6h0M2016.6,1736.0h0M2038.4,1695.7h0M2091.5,1667.2h0M2000.6,1732.4h0M2072.7,1688.9h0M2041.7,1680.6h0M2018.4,1664.8h0M2064.3,1666.9h0M2010.3,1702.5h0M2026.7,1683.5h0M1996.3,1709.6h0M2050.5,1690.8h0M2027.9,1723.7h0M2019.8,1692.5h0M2003.2,1717.8h0M2038.4,1727.7h0M2089.2,1683.5h0M2005.0,1704.8h0M2073.2,1676.9h0M2029.8,1679.8h0M2011.1,1689.8h0M2087.9,1672.4h0M2036.1,1722.6h0M2011.2,1668.5h0M2038.0,1674.7h0M2035.5,1684.5h0M2004.3,1718.2h0M2044.5,1657.5h0M1989.7,1702.1h0M2029.2,1724.9h0M2058.7,1688.1h0M2065.3,1706.4h0M2091.2,1683.0h0M2003.7,1711.2h0M2062.3,1689.1h0M2018.0,1707.9h0M2054.6,1674.3h0M2019.0,1720.7h0M2026.8,1719.4h0M2035.3,1688.9h0M2024.3,1733.0h0M2013.2,1721.0h0M2025.0,1707.5h0M2036.8,1720.5h0M2022.7,1682.1h0M2011.9,1738.1h0M2043.9,1719.8h0M2061.4,1704.2h0M1994.2,1727.7h0M2050.6,1680.5h0M2055.0,1669.6h0M2025.6,1726.8h0M2048.8,1671.4h0M2063.4,1679.8h0M2027.4,1681.8h0M2053.0,1682.4h0M2065.6,1669.0h0M2071.2,1669.2h0M2084.8,1669.8h0M2027.6,1701.8h0M2056.7,1674.0h0M2072.9,1693.2h0M2032.0,1690.0h0M2047.6,1706.6h0M2055.6,1682.4h0M2051.2,1671.6h0M2032.3,1699.0h0M2066.8,1665.1h0M2063.1,1681.0h0M2095.4,1676.2h0M2044.1,1711.3h0M2015.5,1704.1h0M2047.7,1687.2h0M2016.2,1705.1h0M2035.2,1716.9h0M2040.1,1699.9h0M2049.2,1695.5h0M2011.1,1722.3h0M2020.3,1696.9h0M2065.8,1684.9h0M2033.5,1692.2h0M2077.0,1677.5h0M2063.6,1669.6h0M2057.7,1693.2h0M2001.9,1718.2h0M2064.1,1681.6h0M2057.2,1668.8h0M2026.3,1682.7h0M2055.2,1679.6h0M2033.3,1660.6h0M2035.9,1679.4h0M2073.6,1674.7h0M2067.4,1677.9h0M2072.5,1667.5h0M2040.2,1697.2h0M2055.8,1685.6h0M2060.4,1676.2h0M2055.3,1679.0h0M2038.0,1676.8h0M2035.9,1690.4h0M2042.9,1702.4h0M2056.9,1672.7h0M2058.1,1659.0h0M2029.0,1696.0h0M2043.5,1686.7h0M2059.9,1691.8h0M2056.4,1685.9h0M2038.4,1677.6h0M2041.6,1674.9h0M2060.1,1670.0h0M2034.1,1698.7h0M2049.0,1676.4h0M2031.9,1696.6h0M2038.6,1686.5h0M2000.0,1719.4h0M2099.8,1665.2h0M2066.3,1664.7h0M2072.8,1672.7h0M2052.0,1682.5h0M2036.3,1666.7h0M2075.7,1675.9h0M2059.1,1682.4h0M2037.2,1695.1h0M2031.7,1683.9h0M2076.1,1699.4h0M2063.5,1709.3h0M2031.4,1690.2h0M2075.4,1694.6h0M2009.9,1701.7h0M2061.8,1656.7h0M2050.4,1705.1h0M2049.1,1713.0h0M2015.4,1706.5h0M2063.4,1687.2h0M2067.9,1675.5h0M2065.1,1682.6h0M2049.2,1676.6h0M2046.4,1675.0h0M2056.6,1697.5h0M2010.9,1694.8h0M2058.6,1677.2h0M2051.2,1680.0h0M2055.9,1671.8h0M2067.7,1664.4h0M2017.7,1695.3h0M2050.4,1667.6h0M2028.2,1713.7h0M2058.5,1691.6h0M2051.0,1669.1h0M2050.8,1690.9h0M2051.4,1678.3h0M2054.7,1683.7h0M2008.8,1740.4h0M2065.3,1675.6h0M2062.5,1700.3h0M2049.7,1693.7h0M2021.2,1676.6h0M2057.1,1683.3h0M2031.9,1725.3h0M2061.3,1677.2h0M2022.9,1686.8h0M2047.6,1688.6h0M2043.2,1688.6h0M2057.7,1679.9h0M2056.6,1674.9h0M2024.9,1714.2h0M2064.8,1687.3h0M2045.8,1666.4h0M2068.7,1687.4h0M2054.3,1679.5h0M2072.8,1670.1h0M2057.1,1699.6h0M2056.8,1664.8h0M2047.1,1677.0h0M2032.2,1711.7h0M2042.6,1694.1h0M2054.3,1667.3h0M2059.1,1667.6h0M2051.2,1675.3h0M2013.9,1680.3h0M2033.3,1687.5h0M2050.6,1672.5h0M2076.6,1672.0h0M2057.5,1682.0h0M2008.1,1710.6h0M2064.1,1704.0h0M2061.2,1678.4h0M2061.2,1683.8h0M2045.8,1680.8h0M2062.1,1679.3h0M2033.8,1692.2h0M2052.1,1673.9h0M2044.8,1707.0h0M2043.7,1682.5h0M2063.0,1664.0h0M2018.8,1711.7h0M2064.8,1672.1h0M2079.7,1661.4h0M2070.4,1692.9h0M2011.7,1663.6h0M2066.8,1685.1h0M2046.1,1669.5h0M2074.2,1685.2h0M2046.8,1668.9h0M2048.4,1692.6h0M2035.7,1717.7h0M2045.0,1724.8h0M2048.1,1702.5h0M2038.3,1657.0h0M2053.0,1666.1h0M2044.9,1692.5h0M2018.9,1706.9h0M2063.8,1685.8h0M2071.4,1671.8h0M2006.8,1733.1h0M2016.7,1681.7h0M2065.8,1687.6h0M2046.2,1681.6h0M2025.9,1697.2h0M2063.0,1674.0h0M2048.2,1675.9h0M2033.5,1686.4h0M2038.2,1719.6h0M2036.6,1720.1h0M2049.8,1664.2h0M2067.8,1677.0h0M2061.4,1669.6h0M2039.2,1688.6h0M2035.1,1671.8h0M2060.2,1659.3h0M2083.5,1672.6h0M2007.7,1705.9h0M2036.5,1695.8h0M2036.3,1706.0h0M2032.2,1677.8h0M2055.7,1662.1h0M2077.3,1692.3h0M2044.1,1680.2h0M2025.6,1716.9h0M2042.1,1688.0h0M2057.7,1655.4h0M2072.5,1689.0h0M2056.2,1660.8h0M2066.6,1661.4h0M2075.7,1661.7h0M2031.2,1660.0h0M2047.7,1667.6h0M2062.4,1676.6h0M2044.6,1670.4h0M2047.3,1685.7h0M2067.7,1682.8h0M2067.2,1673.1h0M2041.4,1691.7h0M2057.8,1683.9h0M2026.8,1716.3h0M2032.5,1710.8h0M2029.5,1672.8h0M2046.6,1667.6h0M2062.2,1675.8h0M2056.9,1694.0h0M2030.1,1691.7h0M2054.4,1690.9h0M2018.1,1656.6h0M2044.1,1680.9h0M2026.6,1677.0h0M2026.5,1701.5h0M2055.4,1663.8h0M2043.6,1680.3h0M2052.1,1662.6h0M2071.2,1687.5h0M2050.5,1666.7h0M2055.0,1706.0h0M2054.4,1699.7h0M2048.6,1692.9h0M2036.8,1693.3h0M2024.2,1714.4h0M1996.9,1717.6h0M2059.9,1686.0h0M2079.8,1666.7h0M2055.1,1692.0h0M2000.1,1692.4h0M2029.7,1659.3h0M2064.6,1661.3h0M2071.6,1693.7h0M2056.0,1685.5h0M2043.6,1711.8h0M2033.6,1686.9h0M2062.2,1680.6h0M2030.2,1691.4h0M2022.2,1703.8h0M2014.7,1702.9h0M2013.8,1704.6h0M2003.6,1741.4h0M2010.9,1729.1h0M1993.1,1716.1h0M2019.4,1712.2h0M2006.1,1728.3h0M2024.8,1707.9h0M1997.5,1698.6h0M1993.9,1727.0h0M1993.2,1724.3h0M2014.6,1730.2h0M2012.7,1722.7h0M2010.4,1717.8h0M2022.4,1701.7h0M2000.6,1719.2h0M1996.1,1721.4h0M1990.5,1736.8h0M2007.7,1716.2h0M2023.0,1707.2h0M1984.6,1739.4h0M2020.4,1717.6h0M1989.5,1715.2h0M2005.6,1725.1h0M2036.8,1703.1h0M2007.9,1727.6h0M2008.9,1731.8h0M2000.5,1726.5h0M1983.8,1737.7h0M1985.4,1737.2h0M2014.9,1731.9h0M1997.8,1715.9h0M2004.0,1714.3h0M1980.4,1752.8h0M1993.7,1722.3h0M2003.7,1735.9h0M1996.8,1714.5h0M2003.9,1701.0h0M2003.4,1705.9h0M2014.7,1741.1h0M2002.5,1728.3h0M1999.1,1733.0h0M2017.6,1717.7h0M2020.1,1701.5h0M1994.3,1743.6h0M2000.1,1743.5h0M2021.2,1743.2h0M1999.7,1710.0h0M1990.5,1731.8h0M1991.5,1702.8h0M2008.9,1716.0h0M2009.4,1712.4h0M2021.5,1719.5h0M1997.8,1723.5h0M1965.7,1724.9h0M1993.1,1702.0h0M2018.5,1724.2h0M2014.1,1732.1h0M2017.8,1671.2h0M2015.2,1736.7h0M1963.1,1734.1h0M2000.5,1730.9h0M2014.1,1720.7h0M2000.2,1729.5h0M1996.7,1720.6h0M2029.1,1707.8h0M1987.5,1747.6h0M1989.9,1730.1h0M2035.8,1708.8h0M1994.6,1721.1h0M2027.5,1714.3h0M2018.4,1698.0h0M2028.4,1674.2h0M2015.2,1721.9h0M2000.0,1730.4h0M1983.1,1748.3h0M2020.2,1742.0h0M2021.1,1741.1h0M2013.2,1719.9h0M2025.1,1710.9h0M2027.0,1706.1h0M1990.4,1757.2h0M1998.0,1753.0h0M1996.7,1714.3h0M1996.5,1708.0h0M1988.6,1729.1h0M2023.2,1723.9h0M1990.4,1735.6h0M2012.6,1715.1h0M2013.3,1703.4h0M2025.6,1717.1h0M2020.8,1727.8h0M1985.0,1747.0h0M2007.6,1717.4h0M2012.3,1686.9h0M2011.4,1723.5h0M2002.5,1727.1h0M2023.9,1720.5h0M2021.5,1731.2h0M2023.1,1731.7h0M1999.1,1724.4h0M1974.8,1715.6h0M2009.0,1719.6h0M1993.6,1720.1h0M1997.7,1740.7h0M2026.6,1710.3h0M2035.7,1719.7h0M2027.3,1716.9h0M2001.4,1725.7h0M2023.7,1719.3h0M2002.7,1732.5h0M2016.7,1720.0h0M2003.5,1716.1h0M2001.1,1718.6h0M2000.3,1700.0h0M2008.7,1707.9h0M2017.1,1709.0h0M1976.3,1726.8h0M2009.8,1723.5h0M1996.0,1720.3h0M2018.5,1731.2h0M2016.4,1725.2h0M2010.7,1725.6h0M1999.4,1697.3h0M1994.1,1715.0h0M2014.4,1704.0h0M2002.1,1725.2h0M2004.6,1733.9h0M1967.6,1721.3h0M1991.6,1725.3h0M2004.7,1717.6h0M2004.1,1719.5h0M2023.2,1699.3h0M2019.2,1708.0h0M1990.5,1722.6h0M1994.2,1711.8h0M1987.0,1749.9h0M2012.3,1711.1h0M2032.0,1754.9h0M2006.1,1737.3h0M1992.8,1731.2h0M1997.2,1735.2h0M1989.3,1750.4h0M1987.1,1699.7h0M2011.7,1711.3h0M1995.2,1705.9h0M1987.3,1726.1h0M2014.4,1703.4h0M2009.3,1716.2h0M2004.6,1731.5h0M1992.8,1715.9h0M2007.6,1735.9h0M1994.9,1734.9h0M1987.6,1741.6h0M2015.1,1715.4h0M1984.3,1739.7h0M1979.6,1732.3h0M1987.0,1757.2h0M1996.4,1710.8h0M1977.0,1736.9h0M2010.4,1732.8h0M1989.9,1738.5h0M2023.2,1712.7h0M2019.2,1692.3h0M1982.2,1738.9h0M2004.3,1729.3h0M2002.3,1706.1h0M1983.5,1728.6h0M2014.9,1711.6h0M1979.8,1735.6h0M1976.0,1715.4h0M2031.8,1705.8h0M2018.1,1714.5h0M2004.1,1750.3h0M2010.6,1703.5h0M1982.6,1736.3h0M2019.0,1712.8h0M2002.2,1728.1h0M2008.2,1734.1h0M2015.3,1722.1h0M2001.7,1746.1h0M2005.7,1710.3h0M1996.1,1704.6h0M2015.8,1720.4h0M2007.0,1714.8h0M1984.7,1726.4h0M1998.5,1700.8h0M2003.7,1716.0h0M1981.7,1708.5h0M1969.1,1719.4h0M2022.9,1716.2h0M2014.5,1711.3h0M2005.3,1735.7h0M2002.3,1739.8h0M1995.0,1732.9h0M1975.3,1752.5h0M2005.0,1734.7h0M2015.9,1698.9h0M1993.5,1696.2h0M2015.5,1711.9h0M2026.6,1702.8h0M2021.3,1535.5h0M2026.5,1553.2h0M2037.0,1611.0h0M2057.8,1618.2h0M2125.3,1616.2h0M2154.2,1636.3h0M2175.1,1635.1h0M1957.1,1662.0h0M1984.8,1667.2h0M1964.7,1672.0h0M1938.2,1682.4h0M2122.5,1653.1h0M2111.7,1649.1h0M2121.7,1667.2h0M2103.6,1669.2h0M2119.7,1681.6h0M2125.7,1681.6h0M2137.3,1695.3h0M2105.6,1703.3h0M1927.8,1702.5h0M1898.9,1714.6h0M1923.7,1712.2h0M1930.2,1712.2h0M1886.0,1727.4h0M1916.5,1734.2h0M1920.5,1747.5h0M1933.0,1751.5h0M2125.3,1716.2h0M2118.5,1722.2h0M2107.6,1727.4h0M2109.6,1746.7h0M2067.5,1800.1h0M2118.5,1826.6h0M1934.2,1806.9h0M1978.4,1783.6h0M1967.1,1772.4h0M1971.1,1759.5h0M1977.1,1763.5h0M1991.2,1759.5h0M2011.3,1763.5h0M2033.4,1757.5h0M2039.4,1759.5h0M2055.4,1759.5h0M2031.3,1787.6h0" stroke="#bebebe" stroke-width="7" stroke-linecap="round" fill="none"/>
<path d="M2026.5,1651.9h0M2033.4,1650.3h0M2035.4,1655.1h0M2041.4,1656.3h0M2031.3,1653.1h0" stroke="#00ff00" stroke-width="7" stroke-linecap="round" fill="none"/>
<path d="M2027.3,1487.3V1961M1765.6,1708.5H2286.3" stroke="#ee0000" stroke-width="1.6" stroke-dasharray="5.5,3.5" fill="none"/>
<rect x="1765.6" y="1487.3" width="520.7" height="473.7" fill="none" stroke="#222" stroke-width="1.8"/>
<path d="M1776.8,1961v4M1902.1,1961v4M2027.3,1961v4M2153.0,1961v4M2278.3,1961v4M1765.6,1586.9h-4M1765.6,1708.5h-4M1765.6,1829.8h-4M1765.6,1952.2h-4" stroke="#222" stroke-width="1.4" fill="none"/>
<path d="M1780.4,1483.3H2277M2288.3,1495.3V1966.3" stroke="#ee0000" stroke-width="1.2" fill="none"/>
<path d="M128.0,2809.3L129.3,2807.3L130.6,2802.9L131.9,2796.6L133.2,2788.9L134.5,2780.7L135.8,2773.2L137.1,2767.5L138.4,2764.5L139.7,2764.9L141.0,2768.4L142.3,2774.6L143.6,2782.4L144.9,2790.6L146.2,2798.1L147.5,2804.2L148.8,2808.2L150.1,2809.8L151.4,2808.9L152.7,2805.5L154.0,2799.9L155.3,2792.5L156.6,2784.0L157.9,2775.6L159.1,2768.3L160.4,2763.4L161.7,2761.7L163.0,2763.4L164.3,2768.4L165.6,2775.7L166.9,2784.3L168.2,2793.0L169.5,2801.0L170.8,2807.6L172.1,2812.7L173.4,2816.3L174.7,2818.7L176.0,2820.1L177.3,2821.0L178.6,2821.4L179.9,2821.6L181.2,2821.8L182.5,2821.8L183.8,2821.8L185.1,2821.8L186.4,2821.8L187.7,2821.8L189.0,2821.8L190.3,2821.8L191.5,2821.8L192.8,2821.8L194.1,2821.8L195.4,2821.8L196.7,2821.8L198.0,2821.8L199.3,2821.8L200.6,2821.8L201.9,2821.8L203.2,2821.8L204.5,2821.8L205.8,2821.8L207.1,2821.8L208.4,2821.8L209.7,2821.8L211.0,2821.8L212.3,2821.8L213.6,2821.8L214.9,2821.8L216.2,2821.8L217.5,2821.8L218.8,2821.8L220.1,2821.8L221.4,2821.8L222.7,2821.8L223.9,2821.8L225.2,2821.8L226.5,2821.8L227.8,2821.8L229.1,2821.8L230.4,2821.8L231.7,2821.8L233.0,2821.8L234.3,2821.8L235.6,2821.8L236.9,2821.8L238.2,2821.8L239.5,2821.8L240.8,2821.8L242.1,2821.8L243.4,2821.8L244.7,2821.8L246.0,2821.8L247.3,2821.8L248.6,2821.8L249.9,2821.8L251.2,2821.8L252.5,2821.8L253.8,2821.8L255.1,2821.8L256.3,2821.7L257.6,2821.6L258.9,2821.3L260.2,2820.7L261.5,2819.7L262.8,2817.9L264.1,2815.1L265.4,2811.0L266.7,2805.3L268.0,2798.2L269.3,2789.9L270.6,2781.1L271.9,2773.0L273.2,2766.5L274.5,2762.8L275.8,2762.5L277.1,2765.6L278.4,2771.5L279.7,2779.4L281.0,2788.1L282.3,2796.6L283.6,2804.0L284.9,2809.9L286.2,2814.4L287.5,2817.4L288.7,2819.4L290.0,2820.5L291.3,2821.2L292.6,2821.5L293.9,2821.7L295.2,2821.8L296.5,2821.8L297.8,2821.8L299.1,2821.8L300.4,2821.8L301.7,2821.8L303.0,2821.8L304.3,2821.8L305.6,2821.8L306.9,2821.8L308.2,2821.8L309.5,2821.8L310.8,2821.8L312.1,2821.8L313.4,2821.8L314.7,2821.8L316.0,2821.8L317.3,2821.8L318.6,2821.8L319.9,2821.8L321.1,2821.8L322.4,2821.8L323.7,2821.8L325.0,2821.8L326.3,2821.8L327.6,2821.8L328.9,2821.8L330.2,2821.8L331.5,2821.8L332.8,2821.8L334.1,2821.8L335.4,2821.8L336.7,2821.8L338.0,2821.8L339.3,2821.8L340.6,2821.8L341.9,2821.8L343.2,2821.8L344.5,2821.8L345.8,2821.8L347.1,2821.8L348.4,2821.8L349.7,2821.8L351.0,2821.8L352.3,2821.8L353.5,2821.8L354.8,2821.8L356.1,2821.8L357.4,2821.8L358.7,2821.8L360.0,2821.8L361.3,2821.8L362.6,2821.8L363.9,2821.8L365.2,2821.8L366.5,2821.8L367.8,2821.8L369.1,2821.8L370.4,2821.8L371.7,2821.8L373.0,2821.8L374.3,2821.8L375.6,2821.8L376.9,2821.8L378.2,2821.8L379.5,2821.8L380.8,2821.8L382.1,2821.8L383.4,2821.8L384.7,2821.8L385.9,2821.8L387.2,2821.8L388.5,2821.8L389.8,2821.8L391.1,2821.8L392.4,2821.8L393.7,2821.8L395.0,2821.8L396.3,2821.8L397.6,2821.8L398.9,2821.8L400.2,2821.8L401.5,2821.8L402.8,2821.8L404.1,2821.8L405.4,2821.8L406.7,2821.8L408.0,2821.8L409.3,2821.8L410.6,2821.8L411.9,2821.8L413.2,2821.7L414.5,2821.5L415.8,2821.0L417.1,2820.3L418.3,2818.9L419.6,2816.8L420.9,2813.5L422.2,2808.9L423.5,2802.8L424.8,2795.5L426.1,2787.5L427.4,2779.7L428.7,2773.0L430.0,2768.5L431.3,2766.9L432.6,2768.4L433.9,2772.9L435.2,2779.4L436.5,2787.0L437.8,2794.4L439.1,2800.6L440.4,2804.9L441.7,2806.7L443.0,2805.6L444.3,2801.8L445.6,2795.4L446.9,2787.1L448.2,2777.7L449.5,2768.6L450.7,2761.0L452.0,2756.2L453.3,2755.0L454.6,2757.7L455.9,2763.8L457.2,2772.4L458.5,2782.1L459.8,2791.7L461.1,2800.3L462.4,2807.3L463.7,2812.6L465.0,2816.3L466.3,2818.7L467.6,2820.2L468.9,2821.0L470.2,2821.4L471.5,2821.7L472.8,2821.8L474.1,2821.8L475.4,2821.8L476.7,2821.8L478.0,2821.8L479.3,2821.8L480.6,2821.8L481.9,2821.8L483.1,2821.8L484.4,2821.8L485.7,2821.8L487.0,2821.8L488.3,2821.8L489.6,2821.8L490.9,2821.8L492.2,2821.8L493.5,2821.8L494.8,2821.8L496.1,2821.8L497.4,2821.8L498.7,2821.8L500.0,2821.7L501.3,2821.5L502.6,2821.1L503.9,2820.4L505.2,2819.2L506.5,2817.2L507.8,2814.0L509.1,2809.6L510.4,2803.6L511.7,2796.4L513.0,2788.2L514.3,2780.0L515.5,2772.8L516.8,2767.7L518.1,2765.4L519.4,2766.4L520.7,2770.5L522.0,2777.0L523.3,2784.9L524.6,2793.2L525.9,2800.9L527.2,2807.4L528.5,2812.4L529.8,2816.1L531.1,2818.5L532.4,2820.0L533.7,2820.9L535.0,2821.4L536.3,2821.6L537.6,2821.7L538.9,2821.8L540.2,2821.8L541.5,2821.8L542.8,2821.7L544.1,2821.6L545.4,2821.4L546.7,2820.8L547.9,2819.9L549.2,2818.3L550.5,2815.7L551.8,2811.9L553.1,2806.6L554.4,2799.7L555.7,2791.6L557.0,2782.9L558.3,2774.5L559.6,2767.6L560.9,2763.3L562.2,2762.3L563.5,2764.7L564.8,2770.1L566.1,2777.7L567.4,2786.4L568.7,2794.9L570.0,2802.6L571.3,2808.9L572.6,2813.6L573.9,2816.9L575.2,2819.0L576.5,2820.3L577.8,2821.1L579.1,2821.5L580.3,2821.7L581.6,2821.8L582.9,2821.8L584.2,2821.8L585.5,2821.8L586.8,2821.8L588.1,2821.8L589.4,2821.8L590.7,2821.8L592.0,2821.8L593.3,2821.8L594.6,2821.8L595.9,2821.8L597.2,2821.8L598.5,2821.8L599.8,2821.8L601.1,2821.8L602.4,2821.8L603.7,2821.8L605.0,2821.8L606.3,2821.8L607.6,2821.8L608.9,2821.7L610.2,2821.6L611.5,2821.4L612.7,2820.9L614.0,2820.1L615.3,2818.6L616.6,2816.1L617.9,2812.4L619.2,2807.1L620.5,2800.3L621.8,2792.0L623.1,2783.0L624.4,2774.1L625.7,2766.5L627.0,2761.4L628.3,2759.6L629.6,2761.4L630.9,2766.5L632.2,2774.1L633.5,2783.0L634.8,2792.0L636.1,2800.3L637.4,2807.1L638.7,2812.4L640.0,2816.1L641.3,2818.6L642.6,2820.1L643.9,2820.9L645.1,2821.4L646.4,2821.6L647.7,2821.7L649.0,2821.8L650.3,2821.8L651.6,2821.8L652.9,2821.8L654.2,2821.8L655.5,2821.8L656.8,2821.8L658.1,2821.8L659.4,2821.8L660.7,2821.8L662.0,2821.8L663.3,2821.8L664.6,2821.8L665.9,2821.8L667.2,2821.8L668.5,2821.8L669.8,2821.8L671.1,2821.8L672.4,2821.8L673.7,2821.8L675.0,2821.8L676.3,2821.7L677.5,2821.6L678.8,2821.2L680.1,2820.6L681.4,2819.5L682.7,2817.7L684.0,2814.7L685.3,2810.4L686.6,2804.4L687.9,2796.9L689.2,2788.2L690.5,2779.0L691.8,2770.4L693.1,2763.7L694.4,2759.8L695.7,2759.4L697.0,2762.6L698.3,2768.8L699.6,2777.0L700.9,2785.8L702.2,2794.2L703.5,2800.9L704.8,2805.4L706.1,2807.3L707.4,2806.2L708.7,2802.4L709.9,2796.0L711.2,2787.8L712.5,2778.5L713.8,2769.4L715.1,2761.9L716.4,2757.2L717.7,2756.1L719.0,2758.7L720.3,2764.7L721.6,2773.1L722.9,2782.7L724.2,2792.1L725.5,2800.6L726.8,2807.5L728.1,2812.7L729.4,2816.4L730.7,2818.8L732.0,2820.2L733.3,2821.0L734.6,2821.4L735.9,2821.7L737.2,2821.8L738.5,2821.8L739.8,2821.8L741.1,2821.8L742.3,2821.7L743.6,2821.5L744.9,2821.2L746.2,2820.5L747.5,2819.3L748.8,2817.2L750.1,2814.0L751.4,2809.4L752.7,2803.2L754.0,2795.5L755.3,2786.7L756.6,2777.6L757.9,2769.3L759.2,2763.1L760.5,2759.9L761.8,2760.3L763.1,2764.1L764.4,2770.9L765.7,2779.4L767.0,2788.5L768.3,2797.1L769.6,2804.6L770.9,2810.5L772.2,2814.8L773.5,2817.7L774.7,2819.6L776.0,2820.6L777.3,2821.3L778.6,2821.6L779.9,2821.7L781.2,2821.8L782.5,2821.8L783.8,2821.8L785.1,2821.8L786.4,2821.8L787.7,2821.8L789.0,2821.8L790.3,2821.8L791.6,2821.8L792.9,2821.8L794.2,2821.8L795.5,2821.8L796.8,2821.8L798.1,2821.8L799.4,2821.8L800.7,2821.8L802.0,2821.8L803.3,2821.8L804.6,2821.8L805.9,2821.8" fill="none" stroke="#000000" stroke-width="3" stroke-linejoin="round"/>
<path d="M128.0,2821.8L129.3,2821.8L130.6,2821.8L131.9,2821.8L133.2,2821.8L134.5,2821.8L135.8,2821.8L137.1,2821.8L138.4,2821.8L139.7,2821.8L141.0,2821.8L142.3,2821.8L143.6,2821.8L144.9,2821.8L146.2,2821.8L147.5,2821.8L148.8,2821.8L150.1,2821.8L151.4,2821.8L152.7,2821.8L154.0,2821.8L155.3,2821.8L156.6,2821.8L157.9,2821.8L159.1,2821.8L160.4,2821.8L161.7,2821.8L163.0,2821.8L164.3,2821.8L165.6,2821.8L166.9,2821.7L168.2,2821.6L169.5,2821.2L170.8,2820.6L172.1,2819.5L173.4,2817.5L174.7,2814.4L176.0,2809.7L177.3,2803.1L178.6,2794.7L179.9,2784.8L181.2,2774.1L182.5,2763.8L183.8,2755.4L185.1,2750.1L186.4,2748.8L187.7,2751.8L189.0,2758.4L190.3,2767.7L191.5,2778.2L192.8,2788.4L194.1,2797.3L195.4,2804.2L196.7,2808.4L198.0,2810.1L199.3,2809.1L200.6,2805.7L201.9,2800.1L203.2,2793.0L204.5,2785.0L205.8,2777.3L207.1,2770.9L208.4,2766.9L209.7,2765.9L211.0,2768.2L212.3,2773.3L213.6,2780.4L214.9,2788.5L216.2,2796.6L217.5,2803.8L218.8,2809.7L220.1,2814.1L221.4,2817.2L222.7,2819.2L223.9,2820.4L225.2,2821.1L226.5,2821.5L227.8,2821.7L229.1,2821.8L230.4,2821.8L231.7,2821.8L233.0,2821.8L234.3,2821.8L235.6,2821.8L236.9,2821.8L238.2,2821.8L239.5,2821.8L240.8,2821.8L242.1,2821.8L243.4,2821.8L244.7,2821.8L246.0,2821.8L247.3,2821.8L248.6,2821.8L249.9,2821.8L251.2,2821.8L252.5,2821.8L253.8,2821.8L255.1,2821.8L256.3,2821.8L257.6,2821.8L258.9,2821.8L260.2,2821.8L261.5,2821.8L262.8,2821.8L264.1,2821.8L265.4,2821.8L266.7,2821.8L268.0,2821.8L269.3,2821.8L270.6,2821.8L271.9,2821.8L273.2,2821.8L274.5,2821.8L275.8,2821.8L277.1,2821.8L278.4,2821.8L279.7,2821.8L281.0,2821.8L282.3,2821.8L283.6,2821.8L284.9,2821.8L286.2,2821.8L287.5,2821.8L288.7,2821.8L290.0,2821.8L291.3,2821.8L292.6,2821.8L293.9,2821.8L295.2,2821.8L296.5,2821.8L297.8,2821.8L299.1,2821.8L300.4,2821.7L301.7,2821.6L303.0,2821.4L304.3,2820.9L305.6,2819.9L306.9,2818.3L308.2,2815.6L309.5,2811.6L310.8,2805.9L312.1,2798.5L313.4,2789.6L314.7,2779.8L316.0,2770.1L317.3,2761.9L318.6,2756.4L319.9,2754.4L321.1,2756.4L322.4,2761.9L323.7,2770.0L325.0,2779.5L326.3,2788.9L327.6,2797.2L328.9,2803.5L330.2,2807.4L331.5,2808.5L332.8,2807.1L334.1,2803.4L335.4,2797.7L336.7,2790.8L338.0,2783.7L339.3,2777.2L340.6,2772.6L341.9,2770.6L343.2,2771.4L344.5,2775.1L345.8,2781.0L347.1,2788.1L348.4,2795.3L349.7,2801.7L351.0,2806.7L352.3,2809.6L353.5,2810.2L354.8,2808.3L356.1,2804.1L357.4,2797.7L358.7,2789.6L360.0,2780.6L361.3,2772.0L362.6,2764.8L363.9,2760.3L365.2,2759.2L366.5,2761.7L367.8,2767.4L369.1,2775.3L370.4,2784.1L371.7,2792.7L373.0,2799.9L374.3,2805.1L375.6,2807.7L376.9,2807.6L378.2,2804.8L379.5,2799.6L380.8,2792.5L382.1,2784.2L383.4,2775.9L384.7,2768.8L385.9,2763.9L387.2,2762.2L388.5,2763.9L389.8,2768.8L391.1,2775.9L392.4,2784.3L393.7,2792.5L395.0,2799.7L396.3,2805.0L397.6,2807.9L398.9,2808.2L400.2,2805.9L401.5,2801.1L402.8,2794.3L404.1,2786.3L405.4,2777.9L406.7,2770.5L408.0,2765.2L409.3,2762.8L410.6,2763.8L411.9,2768.1L413.2,2774.9L414.5,2783.2L415.8,2791.9L417.1,2799.9L418.3,2806.7L419.6,2812.0L420.9,2815.8L422.2,2818.3L423.5,2819.9L424.8,2820.9L426.1,2821.4L427.4,2821.6L428.7,2821.7L430.0,2821.8L431.3,2821.8L432.6,2821.8L433.9,2821.8L435.2,2821.8L436.5,2821.8L437.8,2821.8L439.1,2821.8L440.4,2821.8L441.7,2821.8L443.0,2821.8L444.3,2821.8L445.6,2821.8L446.9,2821.8L448.2,2821.8L449.5,2821.8L450.7,2821.8L452.0,2821.8L453.3,2821.8L454.6,2821.8L455.9,2821.8L457.2,2821.8L458.5,2821.8L459.8,2821.8L461.1,2821.8L462.4,2821.8L463.7,2821.8L465.0,2821.8L466.3,2821.8L467.6,2821.8L468.9,2821.8L470.2,2821.8L471.5,2821.8L472.8,2821.8L474.1,2821.8L475.4,2821.8L476.7,2821.8L478.0,2821.8L479.3,2821.8L480.6,2821.8L481.9,2821.8L483.1,2821.8L484.4,2821.8L485.7,2821.8L487.0,2821.8L488.3,2821.8L489.6,2821.8L490.9,2821.8L492.2,2821.8L493.5,2821.8L494.8,2821.8L496.1,2821.8L497.4,2821.8L498.7,2821.8L500.0,2821.8L501.3,2821.8L502.6,2821.8L503.9,2821.8L505.2,2821.8L506.5,2821.8L507.8,2821.8L509.1,2821.8L510.4,2821.8L511.7,2821.8L513.0,2821.8L514.3,2821.8L515.5,2821.8L516.8,2821.8L518.1,2821.8L519.4,2821.8L520.7,2821.8L522.0,2821.8L523.3,2821.8L524.6,2821.8L525.9,2821.8L527.2,2821.8L528.5,2821.8L529.8,2821.8L531.1,2821.8L532.4,2821.8L533.7,2821.8L535.0,2821.8L536.3,2821.8L537.6,2821.8L538.9,2821.8L540.2,2821.8L541.5,2821.8L542.8,2821.8L544.1,2821.8L545.4,2821.8L546.7,2821.8L547.9,2821.8L549.2,2821.8L550.5,2821.8L551.8,2821.8L553.1,2821.8L554.4,2821.8L555.7,2821.8L557.0,2821.8L558.3,2821.8L559.6,2821.8L560.9,2821.8L562.2,2821.8L563.5,2821.8L564.8,2821.8L566.1,2821.8L567.4,2821.8L568.7,2821.8L570.0,2821.8L571.3,2821.8L572.6,2821.8L573.9,2821.8L575.2,2821.8L576.5,2821.8L577.8,2821.8L579.1,2821.8L580.3,2821.8L581.6,2821.8L582.9,2821.8L584.2,2821.8L585.5,2821.8L586.8,2821.8L588.1,2821.8L589.4,2821.8L590.7,2821.8L592.0,2821.8L593.3,2821.8L594.6,2821.8L595.9,2821.8L597.2,2821.8L598.5,2821.8L599.8,2821.8L601.1,2821.8L602.4,2821.8L603.7,2821.8L605.0,2821.8L606.3,2821.8L607.6,2821.8L608.9,2821.8L610.2,2821.8L611.5,2821.8L612.7,2821.8L614.0,2821.8L615.3,2821.8L616.6,2821.8L617.9,2821.8L619.2,2821.8L620.5,2821.8L621.8,2821.8L623.1,2821.8L624.4,2821.8L625.7,2821.8L627.0,2821.8L628.3,2821.8L629.6,2821.8L630.9,2821.8L632.2,2821.8L633.5,2821.8L634.8,2821.8L636.1,2821.8L637.4,2821.8L638.7,2821.8L640.0,2821.8L641.3,2821.8L642.6,2821.8L643.9,2821.8L645.1,2821.8L646.4,2821.8L647.7,2821.8L649.0,2821.8L650.3,2821.8L651.6,2821.8L652.9,2821.8L654.2,2821.8L655.5,2821.8L656.8,2821.8L658.1,2821.8L659.4,2821.8L660.7,2821.8L662.0,2821.8L663.3,2821.8L664.6,2821.8L665.9,2821.8L667.2,2821.8L668.5,2821.8L669.8,2821.8L671.1,2821.8L672.4,2821.8L673.7,2821.8L675.0,2821.8L676.3,2821.8L677.5,2821.8L678.8,2821.8L680.1,2821.8L681.4,2821.8L682.7,2821.8L684.0,2821.8L685.3,2821.8L686.6,2821.8L687.9,2821.8L689.2,2821.8L690.5,2821.8L691.8,2821.8L693.1,2821.8L694.4,2821.8L695.7,2821.8L697.0,2821.8L698.3,2821.8L699.6,2821.8L700.9,2821.8L702.2,2821.8L703.5,2821.8L704.8,2821.8L706.1,2821.8L707.4,2821.8L708.7,2821.8L709.9,2821.8L711.2,2821.8L712.5,2821.8L713.8,2821.8L715.1,2821.8L716.4,2821.8L717.7,2821.8L719.0,2821.8L720.3,2821.8L721.6,2821.8L722.9,2821.8L724.2,2821.8L725.5,2821.8L726.8,2821.8L728.1,2821.8L729.4,2821.8L730.7,2821.8L732.0,2821.8L733.3,2821.8L734.6,2821.8L735.9,2821.8L737.2,2821.8L738.5,2821.8L739.8,2821.8L741.1,2821.8L742.3,2821.8L743.6,2821.8L744.9,2821.8L746.2,2821.8L747.5,2821.8L748.8,2821.8L750.1,2821.8L751.4,2821.8L752.7,2821.8L754.0,2821.8L755.3,2821.8L756.6,2821.8L757.9,2821.8L759.2,2821.8L760.5,2821.8L761.8,2821.8L763.1,2821.8L764.4,2821.8L765.7,2821.8L767.0,2821.8L768.3,2821.8L769.6,2821.8L770.9,2821.8L772.2,2821.8L773.5,2821.8L774.7,2821.8L776.0,2821.8L777.3,2821.8L778.6,2821.8L779.9,2821.8L781.2,2821.8L782.5,2821.8L783.8,2821.8L785.1,2821.8L786.4,2821.8L787.7,2821.8L789.0,2821.8L790.3,2821.8L791.6,2821.8L792.9,2821.8L794.2,2821.8L795.5,2821.8L796.8,2821.8L798.1,2821.8L799.4,2821.8L800.7,2821.8L802.0,2821.8L803.3,2821.8L804.6,2821.8L805.9,2821.8" fill="none" stroke="#007f00" stroke-width="3" stroke-linejoin="round"/>
<path d="M128.0,2821.8L129.3,2821.8L130.6,2821.8L131.9,2821.8L133.2,2821.8L134.5,2821.8L135.8,2821.8L137.1,2821.8L138.4,2821.8L139.7,2821.8L141.0,2821.8L142.3,2821.8L143.6,2821.8L144.9,2821.8L146.2,2821.8L147.5,2821.8L148.8,2821.8L150.1,2821.8L151.4,2821.8L152.7,2821.8L154.0,2821.8L155.3,2821.8L156.6,2821.8L157.9,2821.8L159.1,2821.8L160.4,2821.8L161.7,2821.8L163.0,2821.8L164.3,2821.8L165.6,2821.8L166.9,2821.8L168.2,2821.8L169.5,2821.8L170.8,2821.8L172.1,2821.8L173.4,2821.8L174.7,2821.8L176.0,2821.8L177.3,2821.8L178.6,2821.8L179.9,2821.8L181.2,2821.8L182.5,2821.8L183.8,2821.8L185.1,2821.8L186.4,2821.8L187.7,2821.8L189.0,2821.8L190.3,2821.8L191.5,2821.8L192.8,2821.8L194.1,2821.8L195.4,2821.8L196.7,2821.8L198.0,2821.8L199.3,2821.8L200.6,2821.8L201.9,2821.8L203.2,2821.8L204.5,2821.8L205.8,2821.8L207.1,2821.8L208.4,2821.8L209.7,2821.8L211.0,2821.8L212.3,2821.8L213.6,2821.8L214.9,2821.8L216.2,2821.8L217.5,2821.8L218.8,2821.8L220.1,2821.8L221.4,2821.8L222.7,2821.8L223.9,2821.8L225.2,2821.8L226.5,2821.8L227.8,2821.8L229.1,2821.8L230.4,2821.8L231.7,2821.8L233.0,2821.8L234.3,2821.8L235.6,2821.8L236.9,2821.8L238.2,2821.8L239.5,2821.8L240.8,2821.8L242.1,2821.8L243.4,2821.8L244.7,2821.8L246.0,2821.8L247.3,2821.8L248.6,2821.8L249.9,2821.8L251.2,2821.8L252.5,2821.8L253.8,2821.8L255.1,2821.8L256.3,2821.8L257.6,2821.8L258.9,2821.8L260.2,2821.8L261.5,2821.8L262.8,2821.8L264.1,2821.8L265.4,2821.8L266.7,2821.8L268.0,2821.8L269.3,2821.8L270.6,2821.8L271.9,2821.8L273.2,2821.8L274.5,2821.8L275.8,2821.8L277.1,2821.8L278.4,2821.6L279.7,2821.4L281.0,2821.0L282.3,2820.1L283.6,2818.7L284.9,2816.3L286.2,2812.8L287.5,2807.8L288.7,2801.2L290.0,2793.3L291.3,2784.6L292.6,2776.1L293.9,2768.8L295.2,2763.9L296.5,2762.2L297.8,2763.9L299.1,2768.8L300.4,2776.1L301.7,2784.6L303.0,2793.3L304.3,2801.2L305.6,2807.8L306.9,2812.8L308.2,2816.3L309.5,2818.7L310.8,2820.1L312.1,2821.0L313.4,2821.4L314.7,2821.6L316.0,2821.8L317.3,2821.8L318.6,2821.8L319.9,2821.8L321.1,2821.8L322.4,2821.8L323.7,2821.8L325.0,2821.8L326.3,2821.8L327.6,2821.8L328.9,2821.8L330.2,2821.8L331.5,2821.8L332.8,2821.8L334.1,2821.8L335.4,2821.8L336.7,2821.8L338.0,2821.8L339.3,2821.8L340.6,2821.8L341.9,2821.8L343.2,2821.8L344.5,2821.8L345.8,2821.8L347.1,2821.8L348.4,2821.8L349.7,2821.8L351.0,2821.8L352.3,2821.8L353.5,2821.8L354.8,2821.8L356.1,2821.8L357.4,2821.8L358.7,2821.8L360.0,2821.8L361.3,2821.8L362.6,2821.8L363.9,2821.8L365.2,2821.8L366.5,2821.8L367.8,2821.8L369.1,2821.8L370.4,2821.8L371.7,2821.8L373.0,2821.8L374.3,2821.8L375.6,2821.8L376.9,2821.8L378.2,2821.8L379.5,2821.8L380.8,2821.8L382.1,2821.8L383.4,2821.8L384.7,2821.8L385.9,2821.8L387.2,2821.8L388.5,2821.8L389.8,2821.8L391.1,2821.8L392.4,2821.8L393.7,2821.8L395.0,2821.8L396.3,2821.8L397.6,2821.8L398.9,2821.8L400.2,2821.8L401.5,2821.8L402.8,2821.8L404.1,2821.8L405.4,2821.8L406.7,2821.8L408.0,2821.8L409.3,2821.8L410.6,2821.8L411.9,2821.8L413.2,2821.8L414.5,2821.8L415.8,2821.8L417.1,2821.8L418.3,2821.8L419.6,2821.8L420.9,2821.8L422.2,2821.8L423.5,2821.8L424.8,2821.8L426.1,2821.8L427.4,2821.8L428.7,2821.8L430.0,2821.8L431.3,2821.8L432.6,2821.8L433.9,2821.8L435.2,2821.8L436.5,2821.8L437.8,2821.8L439.1,2821.8L440.4,2821.8L441.7,2821.8L443.0,2821.8L444.3,2821.8L445.6,2821.8L446.9,2821.8L448.2,2821.8L449.5,2821.8L450.7,2821.8L452.0,2821.8L453.3,2821.8L454.6,2821.8L455.9,2821.8L457.2,2821.8L458.5,2821.8L459.8,2821.8L461.1,2821.8L462.4,2821.8L463.7,2821.8L465.0,2821.8L466.3,2821.8L467.6,2821.8L468.9,2821.8L470.2,2821.8L471.5,2821.8L472.8,2821.8L474.1,2821.8L475.4,2821.8L476.7,2821.8L478.0,2821.8L479.3,2821.8L480.6,2821.8L481.9,2821.8L483.1,2821.8L484.4,2821.8L485.7,2821.8L487.0,2821.8L488.3,2821.8L489.6,2821.8L490.9,2821.8L492.2,2821.8L493.5,2821.8L494.8,2821.8L496.1,2821.8L497.4,2821.8L498.7,2821.8L500.0,2821.8L501.3,2821.8L502.6,2821.8L503.9,2821.8L505.2,2821.8L506.5,2821.8L507.8,2821.8L509.1,2821.8L510.4,2821.8L511.7,2821.8L513.0,2821.8L514.3,2821.8L515.5,2821.8L516.8,2821.8L518.1,2821.8L519.4,2821.8L520.7,2821.8L522.0,2821.8L523.3,2821.8L524.6,2821.8L525.9,2821.8L527.2,2821.8L528.5,2821.8L529.8,2821.8L531.1,2821.8L532.4,2821.8L533.7,2821.8L535.0,2821.8L536.3,2821.8L537.6,2821.8L538.9,2821.8L540.2,2821.8L541.5,2821.8L542.8,2821.8L544.1,2821.8L545.4,2821.8L546.7,2821.8L547.9,2821.8L549.2,2821.8L550.5,2821.8L551.8,2821.8L553.1,2821.8L554.4,2821.8L555.7,2821.8L557.0,2821.8L558.3,2821.8L559.6,2821.8L560.9,2821.8L562.2,2821.8L563.5,2821.8L564.8,2821.8L566.1,2821.7L567.4,2821.5L568.7,2821.1L570.0,2820.4L571.3,2819.1L572.6,2817.0L573.9,2813.7L575.2,2808.8L576.5,2802.3L577.8,2794.2L579.1,2784.9L580.3,2775.4L581.6,2766.7L582.9,2760.2L584.2,2756.8L585.5,2757.2L586.8,2761.2L588.1,2768.2L589.4,2776.9L590.7,2786.1L592.0,2794.5L593.3,2801.0L594.6,2805.2L595.9,2806.5L597.2,2805.0L598.5,2800.9L599.8,2794.6L601.1,2787.0L602.4,2779.0L603.7,2771.8L605.0,2766.6L606.3,2764.3L607.6,2765.4L608.9,2769.5L610.2,2776.2L611.5,2784.2L612.7,2792.6L614.0,2800.5L615.3,2807.1L616.6,2812.2L617.9,2816.0L619.2,2818.4L620.5,2820.0L621.8,2820.9L623.1,2821.4L624.4,2821.6L625.7,2821.7L627.0,2821.8L628.3,2821.8L629.6,2821.8L630.9,2821.8L632.2,2821.8L633.5,2821.8L634.8,2821.8L636.1,2821.8L637.4,2821.8L638.7,2821.8L640.0,2821.8L641.3,2821.8L642.6,2821.8L643.9,2821.8L645.1,2821.8L646.4,2821.8L647.7,2821.8L649.0,2821.8L650.3,2821.8L651.6,2821.8L652.9,2821.8L654.2,2821.7L655.5,2821.5L656.8,2821.2L658.1,2820.6L659.4,2819.5L660.7,2817.7L662.0,2814.8L663.3,2810.7L664.6,2805.1L665.9,2798.1L667.2,2790.2L668.5,2782.0L669.8,2774.6L671.1,2769.0L672.4,2766.1L673.7,2766.4L675.0,2769.9L676.3,2776.0L677.5,2783.6L678.8,2791.8L680.1,2799.6L681.4,2806.3L682.7,2811.6L684.0,2815.5L685.3,2818.1L686.6,2819.8L687.9,2820.8L689.2,2821.3L690.5,2821.6L691.8,2821.7L693.1,2821.8L694.4,2821.8L695.7,2821.8L697.0,2821.8L698.3,2821.8L699.6,2821.8L700.9,2821.8L702.2,2821.8L703.5,2821.8L704.8,2821.8L706.1,2821.8L707.4,2821.8L708.7,2821.8L709.9,2821.8L711.2,2821.8L712.5,2821.8L713.8,2821.8L715.1,2821.8L716.4,2821.8L717.7,2821.8L719.0,2821.8L720.3,2821.8L721.6,2821.8L722.9,2821.8L724.2,2821.8L725.5,2821.8L726.8,2821.8L728.1,2821.8L729.4,2821.8L730.7,2821.8L732.0,2821.8L733.3,2821.8L734.6,2821.8L735.9,2821.8L737.2,2821.8L738.5,2821.8L739.8,2821.8L741.1,2821.8L742.3,2821.8L743.6,2821.8L744.9,2821.8L746.2,2821.8L747.5,2821.8L748.8,2821.8L750.1,2821.8L751.4,2821.8L752.7,2821.8L754.0,2821.8L755.3,2821.8L756.6,2821.8L757.9,2821.8L759.2,2821.8L760.5,2821.8L761.8,2821.8L763.1,2821.8L764.4,2821.7L765.7,2821.6L767.0,2821.3L768.3,2820.7L769.6,2819.6L770.9,2817.7L772.2,2814.8L773.5,2810.6L774.7,2804.7L776.0,2797.3L777.3,2788.8L778.6,2779.7L779.9,2771.3L781.2,2764.6L782.5,2760.8L783.8,2760.4L785.1,2763.6L786.4,2769.8L787.7,2777.9L789.0,2786.9L790.3,2795.5L791.6,2803.0L792.9,2808.8L794.2,2812.6L795.5,2814.3L796.8,2814.1L798.1,2811.8L799.4,2807.5L800.7,2801.3L802.0,2793.4L803.3,2784.5L804.6,2775.4L805.9,2767.4" fill="none" stroke="#ff0000" stroke-width="3" stroke-linejoin="round"/>
<path d="M128.0,2821.8L129.3,2821.8L130.6,2821.8L131.9,2821.8L133.2,2821.8L134.5,2821.8L135.8,2821.8L137.1,2821.8L138.4,2821.8L139.7,2821.8L141.0,2821.8L142.3,2821.8L143.6,2821.8L144.9,2821.8L146.2,2821.8L147.5,2821.8L148.8,2821.8L150.1,2821.8L151.4,2821.8L152.7,2821.8L154.0,2821.8L155.3,2821.8L156.6,2821.8L157.9,2821.8L159.1,2821.8L160.4,2821.8L161.7,2821.8L163.0,2821.8L164.3,2821.8L165.6,2821.8L166.9,2821.8L168.2,2821.8L169.5,2821.8L170.8,2821.8L172.1,2821.8L173.4,2821.8L174.7,2821.8L176.0,2821.8L177.3,2821.8L178.6,2821.8L179.9,2821.8L181.2,2821.8L182.5,2821.8L183.8,2821.8L185.1,2821.8L186.4,2821.8L187.7,2821.8L189.0,2821.8L190.3,2821.8L191.5,2821.8L192.8,2821.8L194.1,2821.8L195.4,2821.8L196.7,2821.8L198.0,2821.8L199.3,2821.8L200.6,2821.8L201.9,2821.8L203.2,2821.8L204.5,2821.8L205.8,2821.8L207.1,2821.8L208.4,2821.8L209.7,2821.8L211.0,2821.8L212.3,2821.8L213.6,2821.7L214.9,2821.4L216.2,2821.0L217.5,2820.2L218.8,2818.8L220.1,2816.6L221.4,2813.2L222.7,2808.4L223.9,2802.1L225.2,2794.5L226.5,2786.2L227.8,2778.1L229.1,2771.1L230.4,2766.5L231.7,2764.8L233.0,2766.4L234.3,2771.0L235.6,2777.8L236.9,2785.6L238.2,2793.2L239.5,2799.6L240.8,2803.9L242.1,2805.7L243.4,2804.7L244.7,2801.0L246.0,2795.0L247.3,2787.3L248.6,2779.0L249.9,2771.3L251.2,2765.5L252.5,2762.5L253.8,2762.8L255.1,2766.5L256.3,2773.0L257.6,2781.1L258.9,2789.9L260.2,2798.2L261.5,2805.3L262.8,2811.0L264.1,2815.1L265.4,2817.9L266.7,2819.7L268.0,2820.7L269.3,2821.3L270.6,2821.6L271.9,2821.7L273.2,2821.8L274.5,2821.8L275.8,2821.8L277.1,2821.8L278.4,2821.8L279.7,2821.8L281.0,2821.8L282.3,2821.8L283.6,2821.8L284.9,2821.8L286.2,2821.8L287.5,2821.8L288.7,2821.8L290.0,2821.8L291.3,2821.8L292.6,2821.8L293.9,2821.8L295.2,2821.8L296.5,2821.8L297.8,2821.8L299.1,2821.8L300.4,2821.8L301.7,2821.8L303.0,2821.8L304.3,2821.8L305.6,2821.8L306.9,2821.8L308.2,2821.8L309.5,2821.8L310.8,2821.8L312.1,2821.8L313.4,2821.8L314.7,2821.8L316.0,2821.8L317.3,2821.8L318.6,2821.8L319.9,2821.8L321.1,2821.8L322.4,2821.8L323.7,2821.8L325.0,2821.8L326.3,2821.8L327.6,2821.8L328.9,2821.8L330.2,2821.8L331.5,2821.8L332.8,2821.8L334.1,2821.8L335.4,2821.8L336.7,2821.8L338.0,2821.8L339.3,2821.8L340.6,2821.8L341.9,2821.8L343.2,2821.8L344.5,2821.8L345.8,2821.8L347.1,2821.8L348.4,2821.8L349.7,2821.8L351.0,2821.8L352.3,2821.8L353.5,2821.8L354.8,2821.8L356.1,2821.8L357.4,2821.8L358.7,2821.8L360.0,2821.8L361.3,2821.8L362.6,2821.8L363.9,2821.8L365.2,2821.8L366.5,2821.8L367.8,2821.8L369.1,2821.8L370.4,2821.8L371.7,2821.8L373.0,2821.8L374.3,2821.8L375.6,2821.8L376.9,2821.8L378.2,2821.8L379.5,2821.8L380.8,2821.8L382.1,2821.8L383.4,2821.8L384.7,2821.8L385.9,2821.8L387.2,2821.8L388.5,2821.8L389.8,2821.8L391.1,2821.8L392.4,2821.8L393.7,2821.8L395.0,2821.8L396.3,2821.8L397.6,2821.8L398.9,2821.8L400.2,2821.8L401.5,2821.8L402.8,2821.8L404.1,2821.8L405.4,2821.8L406.7,2821.8L408.0,2821.8L409.3,2821.8L410.6,2821.8L411.9,2821.8L413.2,2821.8L414.5,2821.8L415.8,2821.8L417.1,2821.8L418.3,2821.8L419.6,2821.8L420.9,2821.8L422.2,2821.8L423.5,2821.8L424.8,2821.8L426.1,2821.8L427.4,2821.8L428.7,2821.8L430.0,2821.8L431.3,2821.8L432.6,2821.8L433.9,2821.8L435.2,2821.8L436.5,2821.8L437.8,2821.8L439.1,2821.8L440.4,2821.8L441.7,2821.8L443.0,2821.8L444.3,2821.8L445.6,2821.8L446.9,2821.8L448.2,2821.8L449.5,2821.8L450.7,2821.8L452.0,2821.8L453.3,2821.8L454.6,2821.8L455.9,2821.7L457.2,2821.6L458.5,2821.3L459.8,2820.8L461.1,2819.8L462.4,2818.2L463.7,2815.6L465.0,2811.8L466.3,2806.6L467.6,2800.0L468.9,2792.4L470.2,2784.3L471.5,2776.8L472.8,2770.9L474.1,2767.5L475.4,2767.1L476.7,2769.9L478.0,2775.3L479.3,2782.4L480.6,2790.1L481.9,2797.2L483.1,2802.9L484.4,2806.3L485.7,2807.3L487.0,2805.6L488.3,2801.3L489.6,2794.7L490.9,2786.7L492.2,2778.0L493.5,2770.1L494.8,2764.0L496.1,2760.9L497.4,2761.3L498.7,2765.1L500.0,2771.7L501.3,2780.1L502.6,2789.0L503.9,2797.5L505.2,2804.9L506.5,2810.7L507.8,2814.9L509.1,2817.8L510.4,2819.6L511.7,2820.7L513.0,2821.3L514.3,2821.6L515.5,2821.7L516.8,2821.8L518.1,2821.8L519.4,2821.8L520.7,2821.8L522.0,2821.7L523.3,2821.5L524.6,2821.2L525.9,2820.5L527.2,2819.2L528.5,2817.2L529.8,2814.0L531.1,2809.3L532.4,2803.1L533.7,2795.3L535.0,2786.4L536.3,2777.2L537.6,2768.9L538.9,2762.6L540.2,2759.4L541.5,2759.8L542.8,2763.7L544.1,2770.4L545.4,2779.0L546.7,2788.2L547.9,2796.9L549.2,2804.4L550.5,2810.4L551.8,2814.7L553.1,2817.7L554.4,2819.5L555.7,2820.6L557.0,2821.2L558.3,2821.6L559.6,2821.7L560.9,2821.8L562.2,2821.8L563.5,2821.8L564.8,2821.8L566.1,2821.8L567.4,2821.8L568.7,2821.8L570.0,2821.8L571.3,2821.8L572.6,2821.8L573.9,2821.8L575.2,2821.8L576.5,2821.8L577.8,2821.8L579.1,2821.8L580.3,2821.8L581.6,2821.8L582.9,2821.8L584.2,2821.8L585.5,2821.8L586.8,2821.8L588.1,2821.8L589.4,2821.8L590.7,2821.8L592.0,2821.8L593.3,2821.8L594.6,2821.8L595.9,2821.8L597.2,2821.8L598.5,2821.8L599.8,2821.8L601.1,2821.8L602.4,2821.8L603.7,2821.8L605.0,2821.8L606.3,2821.8L607.6,2821.8L608.9,2821.8L610.2,2821.8L611.5,2821.8L612.7,2821.8L614.0,2821.8L615.3,2821.8L616.6,2821.8L617.9,2821.8L619.2,2821.8L620.5,2821.8L621.8,2821.8L623.1,2821.8L624.4,2821.8L625.7,2821.8L627.0,2821.8L628.3,2821.8L629.6,2821.8L630.9,2821.8L632.2,2821.7L633.5,2821.6L634.8,2821.2L636.1,2820.6L637.4,2819.5L638.7,2817.6L640.0,2814.7L641.3,2810.3L642.6,2804.3L643.9,2796.7L645.1,2787.9L646.4,2778.7L647.7,2770.0L649.0,2763.2L650.3,2759.3L651.6,2758.9L652.9,2762.1L654.2,2768.5L655.5,2776.8L656.8,2786.1L658.1,2795.0L659.4,2802.9L660.7,2809.2L662.0,2813.9L663.3,2817.1L664.6,2819.2L665.9,2820.5L667.2,2821.1L668.5,2821.5L669.8,2821.7L671.1,2821.8L672.4,2821.8L673.7,2821.8L675.0,2821.8L676.3,2821.8L677.5,2821.8L678.8,2821.8L680.1,2821.8L681.4,2821.8L682.7,2821.8L684.0,2821.8L685.3,2821.8L686.6,2821.8L687.9,2821.8L689.2,2821.8L690.5,2821.8L691.8,2821.8L693.1,2821.8L694.4,2821.8L695.7,2821.8L697.0,2821.8L698.3,2821.8L699.6,2821.8L700.9,2821.8L702.2,2821.8L703.5,2821.8L704.8,2821.8L706.1,2821.8L707.4,2821.8L708.7,2821.8L709.9,2821.8L711.2,2821.8L712.5,2821.8L713.8,2821.8L715.1,2821.8L716.4,2821.8L717.7,2821.8L719.0,2821.8L720.3,2821.8L721.6,2821.8L722.9,2821.7L724.2,2821.4L725.5,2821.0L726.8,2820.2L728.1,2818.9L729.4,2816.8L730.7,2813.6L732.0,2809.2L733.3,2803.5L734.6,2796.8L735.9,2789.6L737.2,2782.7L738.5,2777.1L739.8,2773.5L741.1,2772.6L742.3,2774.6L743.6,2779.1L744.9,2785.4L746.2,2792.5L747.5,2799.6L748.8,2806.0L750.1,2811.1L751.4,2815.0L752.7,2817.8L754.0,2819.5L755.3,2820.6L756.6,2821.2L757.9,2821.5L759.2,2821.7L760.5,2821.8L761.8,2821.8L763.1,2821.8L764.4,2821.8L765.7,2821.8L767.0,2821.8L768.3,2821.8L769.6,2821.8L770.9,2821.8L772.2,2821.8L773.5,2821.8L774.7,2821.8L776.0,2821.8L777.3,2821.8L778.6,2821.8L779.9,2821.8L781.2,2821.8L782.5,2821.8L783.8,2821.8L785.1,2821.8L786.4,2821.8L787.7,2821.8L789.0,2821.8L790.3,2821.8L791.6,2821.8L792.9,2821.8L794.2,2821.8L795.5,2821.8L796.8,2821.8L798.1,2821.8L799.4,2821.8L800.7,2821.8L802.0,2821.8L803.3,2821.8L804.6,2821.8L805.9,2821.8" fill="none" stroke="#0000ff" stroke-width="3" stroke-linejoin="round"/>
<g id="kidL"><path d="M304.6,342.7C303.1,335.0 306.0,335.9 312.7,333.4C319.4,330.9 337.7,323.8 345.0,327.7C352.3,331.5 354.0,345.9 356.5,356.5C359.0,367.0 360.3,375.7 359.9,391.0C359.6,406.4 355.7,428.7 354.2,448.6C352.6,468.5 355.1,500.1 350.7,510.4C346.3,520.7 331.3,516.8 327.7,510.4C324.0,503.9 328.3,487.7 328.8,471.7C329.4,455.6 332.3,429.4 331.1,414.1C330.0,398.7 326.3,391.4 321.9,379.5C317.5,367.6 306.2,350.3 304.6,342.7Z" fill="#c5a76b"/><path d="M316.9,339.2C320.8,335.0 338.5,326.0 345.0,328.8C351.4,331.7 352.9,346.1 355.3,356.5C357.7,366.8 359.2,378.8 359.2,391.0C359.2,403.3 357.7,422.7 355.3,430.2C352.9,437.7 347.6,436.0 345.0,436.0C342.3,436.0 340.5,435.8 339.2,430.2C337.9,424.6 338.3,412.2 336.9,402.6C335.5,393.0 333.2,380.7 330.7,372.6C328.1,364.5 323.8,359.7 321.5,354.2C319.2,348.6 312.9,343.4 316.9,339.2Z" fill="#cfb37c"/><rect x="324.2" y="510.4" width="40" height="12" fill="#fff"/><path d="M301.2,273.5C303.3,270.2 312.3,267.0 319.6,267.1C326.9,267.2 337.3,273.0 345.0,274.0C352.6,275.0 359.4,273.5 365.7,273.1C372.0,272.6 379.3,270.4 383.0,271.2C386.6,272.1 386.8,274.7 387.6,278.1C388.4,281.6 388.4,288.6 387.6,292.0C386.8,295.3 386.6,297.8 383.0,298.4C379.3,299.0 374.0,295.3 365.7,295.4C357.4,295.5 342.7,298.1 333.4,298.9C324.2,299.6 314.8,302.0 310.4,300.0C306.0,298.1 308.5,291.8 306.9,287.4C305.4,282.9 299.1,276.9 301.2,273.5Z" fill="#c96166"/><path d="M306.9,285.1C310.8,282.9 323.6,287.6 333.4,287.4C343.2,287.2 358.0,284.7 365.7,283.9C373.4,283.1 376.8,280.4 379.5,282.8C382.2,285.1 384.1,295.6 381.8,297.7C379.5,299.8 373.8,295.2 365.7,295.4C357.6,295.6 342.7,298.0 333.4,298.9C324.2,299.7 314.8,302.8 310.4,300.5C306.0,298.2 303.1,287.2 306.9,285.1Z" fill="#b5585f"/><ellipse cx="385.3" cy="284.6" rx="5" ry="13.5" fill="#d9848c"/><ellipse cx="385.6" cy="285.1" rx="2.8" ry="9" fill="#a2555f"/><path d="M306.9,301.6C312.1,298.2 323.5,300.1 333.4,298.9C343.4,297.7 359.9,294.3 366.8,294.3C373.8,294.3 373.1,296.6 374.9,298.9C376.7,301.2 377.5,304.4 377.7,308.1C377.9,311.7 381.5,317.6 376.1,320.8C370.6,323.9 354.4,325.2 345.0,327.0C335.6,328.8 326.3,329.0 319.6,331.6C312.9,334.2 308.1,341.6 304.6,342.7C301.2,343.7 299.3,341.9 298.9,338.0C298.5,334.2 301.0,325.7 302.3,319.6C303.7,313.5 301.8,305.1 306.9,301.6Z" fill="#877ca6"/><path d="M308.1,302.3C312.5,300.1 323.6,300.6 333.4,299.3C343.2,298.1 360.4,294.4 366.8,294.7C373.3,295.0 371.5,297.8 372.1,301.2C372.8,304.6 375.3,311.9 370.8,315.0C366.2,318.1 353.1,318.5 345.0,319.6C336.8,320.8 327.3,321.9 321.9,321.9C316.5,321.9 315.2,321.2 312.7,319.6C310.2,318.1 307.7,315.6 306.9,312.7C306.2,309.8 303.7,304.6 308.1,302.3Z" fill="#9186b8"/><ellipse cx="374" cy="308.3" rx="3.6" ry="10.5" fill="#7c73a5" transform="rotate(-8 374 308.3)"/><path d="M255.1,112.9C266.6,112.2 278.1,114.5 287.4,116.9C296.6,119.2 303.5,122.6 310.4,127.2C317.3,131.8 323.1,137.8 328.8,144.5C334.6,151.2 340.7,159.1 345.0,167.6C349.2,176.0 352.1,186.8 354.2,195.2C356.2,203.6 357.4,211.3 357.2,218.2C357.0,225.2 355.8,230.9 353.0,236.7C350.2,242.4 345.2,248.2 340.4,252.8C335.6,257.4 328.8,261.2 324.2,264.3C319.6,267.4 316.4,269.5 312.7,271.2C309.1,273.0 303.3,272.0 302.3,274.7C301.4,277.4 306.2,281.4 306.9,287.4C307.7,293.3 307.9,302.3 306.9,310.4C306.0,318.5 300.6,328.8 301.2,335.7C301.8,342.7 306.6,344.6 310.4,351.9C314.2,359.2 320.8,370.3 324.2,379.5C327.7,388.7 330.2,397.6 331.1,407.2C332.1,416.8 331.1,428.3 330.0,437.1C328.8,446.0 327.5,453.2 324.2,460.2C321.0,467.1 316.5,472.8 310.4,478.6C304.3,484.4 297.0,490.9 287.4,494.7C277.8,498.6 265.5,500.2 252.8,501.6C240.1,503.1 223.6,505.0 211.3,503.5C199.0,501.9 189.4,498.1 179.1,492.4C168.7,486.7 158.0,479.0 149.1,469.4C140.3,459.8 132.6,447.9 126.1,434.8C119.6,421.8 113.8,406.0 110.0,391.0C106.1,376.1 104.0,360.3 103.0,345.0C102.1,329.6 102.3,314.2 104.2,298.9C106.1,283.5 110.1,267.4 114.6,252.8C119.0,238.2 124.2,224.8 130.7,211.3C137.2,197.9 144.9,184.1 153.7,172.2C162.6,160.3 172.9,148.4 183.7,139.9C194.4,131.5 206.3,126.0 218.2,121.5C230.1,117.0 243.6,113.7 255.1,112.9Z" fill="#bc766b"/><path d="M255.1,114.6C266.6,113.9 278.5,116.7 287.4,119.2C296.2,121.7 302.0,124.9 308.1,129.5C314.2,134.1 319.4,140.1 324.2,146.8C329.0,153.5 334.0,161.8 336.9,169.9C339.8,177.9 341.1,187.5 341.5,195.2C341.9,202.9 342.1,209.6 339.2,215.9C336.3,222.3 330.6,229.0 324.2,233.2C317.9,237.4 308.9,240.3 301.2,241.3C293.5,242.2 285.8,241.3 278.1,239.0C270.5,236.7 264.3,230.7 255.1,227.5C245.9,224.2 224.4,218.6 222.8,219.4C221.3,220.2 238.2,226.9 245.9,232.1C253.6,237.2 262.0,244.0 268.9,250.5C275.8,257.0 282.8,264.3 287.4,271.2C292.0,278.1 296.6,286.0 296.6,292.0C296.6,297.9 294.3,303.7 287.4,306.9C280.4,310.2 265.1,309.6 255.1,311.6C245.1,313.5 235.9,314.8 227.5,318.5C219.0,322.1 203.6,332.9 204.4,333.4C205.2,334.0 222.1,323.8 232.1,321.9C242.0,320.0 255.9,320.4 264.3,321.9C272.8,323.5 277.8,326.5 282.8,331.1C287.7,335.7 292.0,342.3 294.3,349.6C296.6,356.9 297.0,366.1 296.6,374.9C296.2,383.7 295.0,394.1 292.0,402.6C288.9,411.0 284.3,418.7 278.1,425.6C272.0,432.5 263.6,439.4 255.1,444.0C246.7,448.6 237.4,452.1 227.5,453.2C217.5,454.4 205.2,453.2 195.2,450.9C185.2,448.6 176.4,445.2 167.6,439.4C158.7,433.7 149.5,425.2 142.2,416.4C134.9,407.6 129.2,397.2 123.8,386.4C118.4,375.7 112.9,364.5 110.0,351.9C107.0,339.2 105.0,326.1 105.8,310.4C106.6,294.7 110.2,273.5 114.6,257.4C118.9,241.3 125.1,227.5 131.8,213.6C138.6,199.8 146.0,186.4 154.9,174.5C163.7,162.6 174.3,150.7 184.8,142.2C195.4,133.7 206.5,127.9 218.2,123.3C230.0,118.7 243.6,115.3 255.1,114.6Z" fill="#bf7f74"/><path d="M286.2,257.4C287.4,256.3 295.6,260.9 301.2,262.0C306.8,263.2 318.1,262.8 319.6,264.3C321.2,265.9 313.5,269.5 310.4,271.2C307.3,273.0 303.9,275.1 301.2,274.7C298.5,274.3 296.8,271.8 294.3,268.9C291.8,266.0 285.1,258.6 286.2,257.4Z" fill="#cb857a"/><path d="M194.0,159.5C195.6,156.0 203.1,149.5 209.0,145.7C215.0,141.8 222.8,138.6 229.8,136.4C236.7,134.3 244.4,133.0 250.5,133.0C256.6,133.0 263.2,134.5 266.6,136.4C270.0,138.4 271.2,141.9 270.8,144.5C270.4,147.1 266.9,150.4 264.3,151.9C261.7,153.3 258.9,153.7 255.1,153.3C251.3,152.8 246.3,149.4 241.3,149.1C236.3,148.8 230.1,149.7 225.2,151.4C220.2,153.2 215.6,157.0 211.3,159.5C207.1,162.0 202.7,166.4 199.8,166.4C196.9,166.4 192.5,162.9 194.0,159.5Z" fill="#d4aea8"/><path d="M217.8,224.7C217.8,223.7 223.5,222.4 227.5,222.8C231.4,223.3 237.2,225.2 241.3,227.5C245.3,229.7 252.0,235.4 251.6,236.2C251.3,237.1 243.0,233.8 239.0,232.5C234.9,231.3 231.0,229.9 227.5,228.6C223.9,227.3 217.8,225.7 217.8,224.7Z" fill="#d4aea8"/><path d="M194.0,356.5C194.6,353.5 198.5,344.5 202.1,340.4C205.8,336.2 214.8,331.1 215.9,331.8C217.1,332.6 211.9,340.5 209.0,345.0C206.1,349.4 201.2,356.4 198.7,358.3C196.2,360.2 193.5,359.5 194.0,356.5Z" fill="#d4aea8"/><path d="M225.2,348.4C225.3,345.8 227.1,337.2 229.8,333.4C232.4,329.7 240.1,325.7 241.3,326.1C242.4,326.5 238.8,331.9 236.7,335.7C234.6,339.6 230.5,347.0 228.6,349.1C226.7,351.2 225.0,351.0 225.2,348.4Z" fill="#d4aea8"/><path d="M215.9,327.7C217.4,325.6 224.0,322.1 229.8,320.8C235.5,319.4 249.0,319.0 250.5,319.6C252.0,320.3 242.8,323.0 239.0,324.7C235.1,326.4 229.8,326.0 227.5,330.0C225.2,333.9 226.2,347.8 225.2,348.4C224.1,349.0 222.5,336.9 221.0,333.4C219.5,330.0 214.5,329.8 215.9,327.7Z" fill="#c86f66"/></g>
<g transform="translate(863.8,2.5) scale(-1,1)"><path d="M304.6,342.7C303.1,335.0 306.0,335.9 312.7,333.4C319.4,330.9 337.7,323.8 345.0,327.7C352.3,331.5 354.0,345.9 356.5,356.5C359.0,367.0 360.3,375.7 359.9,391.0C359.6,406.4 355.7,428.7 354.2,448.6C352.6,468.5 355.1,500.1 350.7,510.4C346.3,520.7 331.3,516.8 327.7,510.4C324.0,503.9 328.3,487.7 328.8,471.7C329.4,455.6 332.3,429.4 331.1,414.1C330.0,398.7 326.3,391.4 321.9,379.5C317.5,367.6 306.2,350.3 304.6,342.7Z" fill="#c5a76b"/><path d="M316.9,339.2C320.8,335.0 338.5,326.0 345.0,328.8C351.4,331.7 352.9,346.1 355.3,356.5C357.7,366.8 359.2,378.8 359.2,391.0C359.2,403.3 357.7,422.7 355.3,430.2C352.9,437.7 347.6,436.0 345.0,436.0C342.3,436.0 340.5,435.8 339.2,430.2C337.9,424.6 338.3,412.2 336.9,402.6C335.5,393.0 333.2,380.7 330.7,372.6C328.1,364.5 323.8,359.7 321.5,354.2C319.2,348.6 312.9,343.4 316.9,339.2Z" fill="#cfb37c"/><rect x="324.2" y="510.4" width="40" height="12" fill="#fff"/><path d="M301.2,273.5C303.3,270.2 312.3,267.0 319.6,267.1C326.9,267.2 337.3,273.0 345.0,274.0C352.6,275.0 359.4,273.5 365.7,273.1C372.0,272.6 379.3,270.4 383.0,271.2C386.6,272.1 386.8,274.7 387.6,278.1C388.4,281.6 388.4,288.6 387.6,292.0C386.8,295.3 386.6,297.8 383.0,298.4C379.3,299.0 374.0,295.3 365.7,295.4C357.4,295.5 342.7,298.1 333.4,298.9C324.2,299.6 314.8,302.0 310.4,300.0C306.0,298.1 308.5,291.8 306.9,287.4C305.4,282.9 299.1,276.9 301.2,273.5Z" fill="#c96166"/><path d="M306.9,285.1C310.8,282.9 323.6,287.6 333.4,287.4C343.2,287.2 358.0,284.7 365.7,283.9C373.4,283.1 376.8,280.4 379.5,282.8C382.2,285.1 384.1,295.6 381.8,297.7C379.5,299.8 373.8,295.2 365.7,295.4C357.6,295.6 342.7,298.0 333.4,298.9C324.2,299.7 314.8,302.8 310.4,300.5C306.0,298.2 303.1,287.2 306.9,285.1Z" fill="#b5585f"/><ellipse cx="385.3" cy="284.6" rx="5" ry="13.5" fill="#d9848c"/><ellipse cx="385.6" cy="285.1" rx="2.8" ry="9" fill="#a2555f"/><path d="M306.9,301.6C312.1,298.2 323.5,300.1 333.4,298.9C343.4,297.7 359.9,294.3 366.8,294.3C373.8,294.3 373.1,296.6 374.9,298.9C376.7,301.2 377.5,304.4 377.7,308.1C377.9,311.7 381.5,317.6 376.1,320.8C370.6,323.9 354.4,325.2 345.0,327.0C335.6,328.8 326.3,329.0 319.6,331.6C312.9,334.2 308.1,341.6 304.6,342.7C301.2,343.7 299.3,341.9 298.9,338.0C298.5,334.2 301.0,325.7 302.3,319.6C303.7,313.5 301.8,305.1 306.9,301.6Z" fill="#877ca6"/><path d="M308.1,302.3C312.5,300.1 323.6,300.6 333.4,299.3C343.2,298.1 360.4,294.4 366.8,294.7C373.3,295.0 371.5,297.8 372.1,301.2C372.8,304.6 375.3,311.9 370.8,315.0C366.2,318.1 353.1,318.5 345.0,319.6C336.8,320.8 327.3,321.9 321.9,321.9C316.5,321.9 315.2,321.2 312.7,319.6C310.2,318.1 307.7,315.6 306.9,312.7C306.2,309.8 303.7,304.6 308.1,302.3Z" fill="#9186b8"/><ellipse cx="374" cy="308.3" rx="3.6" ry="10.5" fill="#7c73a5" transform="rotate(-8 374 308.3)"/><path d="M255.1,112.9C266.6,112.2 278.1,114.5 287.4,116.9C296.6,119.2 303.5,122.6 310.4,127.2C317.3,131.8 323.1,137.8 328.8,144.5C334.6,151.2 340.7,159.1 345.0,167.6C349.2,176.0 352.1,186.8 354.2,195.2C356.2,203.6 357.4,211.3 357.2,218.2C357.0,225.2 355.8,230.9 353.0,236.7C350.2,242.4 345.2,248.2 340.4,252.8C335.6,257.4 328.8,261.2 324.2,264.3C319.6,267.4 316.4,269.5 312.7,271.2C309.1,273.0 303.3,272.0 302.3,274.7C301.4,277.4 306.2,281.4 306.9,287.4C307.7,293.3 307.9,302.3 306.9,310.4C306.0,318.5 300.6,328.8 301.2,335.7C301.8,342.7 306.6,344.6 310.4,351.9C314.2,359.2 320.8,370.3 324.2,379.5C327.7,388.7 330.2,397.6 331.1,407.2C332.1,416.8 331.1,428.3 330.0,437.1C328.8,446.0 327.5,453.2 324.2,460.2C321.0,467.1 316.5,472.8 310.4,478.6C304.3,484.4 297.0,490.9 287.4,494.7C277.8,498.6 265.5,500.2 252.8,501.6C240.1,503.1 223.6,505.0 211.3,503.5C199.0,501.9 189.4,498.1 179.1,492.4C168.7,486.7 158.0,479.0 149.1,469.4C140.3,459.8 132.6,447.9 126.1,434.8C119.6,421.8 113.8,406.0 110.0,391.0C106.1,376.1 104.0,360.3 103.0,345.0C102.1,329.6 102.3,314.2 104.2,298.9C106.1,283.5 110.1,267.4 114.6,252.8C119.0,238.2 124.2,224.8 130.7,211.3C137.2,197.9 144.9,184.1 153.7,172.2C162.6,160.3 172.9,148.4 183.7,139.9C194.4,131.5 206.3,126.0 218.2,121.5C230.1,117.0 243.6,113.7 255.1,112.9Z" fill="#bc766b"/><path d="M255.1,114.6C266.6,113.9 278.5,116.7 287.4,119.2C296.2,121.7 302.0,124.9 308.1,129.5C314.2,134.1 319.4,140.1 324.2,146.8C329.0,153.5 334.0,161.8 336.9,169.9C339.8,177.9 341.1,187.5 341.5,195.2C341.9,202.9 342.1,209.6 339.2,215.9C336.3,222.3 330.6,229.0 324.2,233.2C317.9,237.4 308.9,240.3 301.2,241.3C293.5,242.2 285.8,241.3 278.1,239.0C270.5,236.7 264.3,230.7 255.1,227.5C245.9,224.2 224.4,218.6 222.8,219.4C221.3,220.2 238.2,226.9 245.9,232.1C253.6,237.2 262.0,244.0 268.9,250.5C275.8,257.0 282.8,264.3 287.4,271.2C292.0,278.1 296.6,286.0 296.6,292.0C296.6,297.9 294.3,303.7 287.4,306.9C280.4,310.2 265.1,309.6 255.1,311.6C245.1,313.5 235.9,314.8 227.5,318.5C219.0,322.1 203.6,332.9 204.4,333.4C205.2,334.0 222.1,323.8 232.1,321.9C242.0,320.0 255.9,320.4 264.3,321.9C272.8,323.5 277.8,326.5 282.8,331.1C287.7,335.7 292.0,342.3 294.3,349.6C296.6,356.9 297.0,366.1 296.6,374.9C296.2,383.7 295.0,394.1 292.0,402.6C288.9,411.0 284.3,418.7 278.1,425.6C272.0,432.5 263.6,439.4 255.1,444.0C246.7,448.6 237.4,452.1 227.5,453.2C217.5,454.4 205.2,453.2 195.2,450.9C185.2,448.6 176.4,445.2 167.6,439.4C158.7,433.7 149.5,425.2 142.2,416.4C134.9,407.6 129.2,397.2 123.8,386.4C118.4,375.7 112.9,364.5 110.0,351.9C107.0,339.2 105.0,326.1 105.8,310.4C106.6,294.7 110.2,273.5 114.6,257.4C118.9,241.3 125.1,227.5 131.8,213.6C138.6,199.8 146.0,186.4 154.9,174.5C163.7,162.6 174.3,150.7 184.8,142.2C195.4,133.7 206.5,127.9 218.2,123.3C230.0,118.7 243.6,115.3 255.1,114.6Z" fill="#bf7f74"/><path d="M286.2,257.4C287.4,256.3 295.6,260.9 301.2,262.0C306.8,263.2 318.1,262.8 319.6,264.3C321.2,265.9 313.5,269.5 310.4,271.2C307.3,273.0 303.9,275.1 301.2,274.7C298.5,274.3 296.8,271.8 294.3,268.9C291.8,266.0 285.1,258.6 286.2,257.4Z" fill="#cb857a"/><path d="M194.0,159.5C195.6,156.0 203.1,149.5 209.0,145.7C215.0,141.8 222.8,138.6 229.8,136.4C236.7,134.3 244.4,133.0 250.5,133.0C256.6,133.0 263.2,134.5 266.6,136.4C270.0,138.4 271.2,141.9 270.8,144.5C270.4,147.1 266.9,150.4 264.3,151.9C261.7,153.3 258.9,153.7 255.1,153.3C251.3,152.8 246.3,149.4 241.3,149.1C236.3,148.8 230.1,149.7 225.2,151.4C220.2,153.2 215.6,157.0 211.3,159.5C207.1,162.0 202.7,166.4 199.8,166.4C196.9,166.4 192.5,162.9 194.0,159.5Z" fill="#d4aea8"/><path d="M217.8,224.7C217.8,223.7 223.5,222.4 227.5,222.8C231.4,223.3 237.2,225.2 241.3,227.5C245.3,229.7 252.0,235.4 251.6,236.2C251.3,237.1 243.0,233.8 239.0,232.5C234.9,231.3 231.0,229.9 227.5,228.6C223.9,227.3 217.8,225.7 217.8,224.7Z" fill="#d4aea8"/><path d="M194.0,356.5C194.6,353.5 198.5,344.5 202.1,340.4C205.8,336.2 214.8,331.1 215.9,331.8C217.1,332.6 211.9,340.5 209.0,345.0C206.1,349.4 201.2,356.4 198.7,358.3C196.2,360.2 193.5,359.5 194.0,356.5Z" fill="#d4aea8"/><path d="M225.2,348.4C225.3,345.8 227.1,337.2 229.8,333.4C232.4,329.7 240.1,325.7 241.3,326.1C242.4,326.5 238.8,331.9 236.7,335.7C234.6,339.6 230.5,347.0 228.6,349.1C226.7,351.2 225.0,351.0 225.2,348.4Z" fill="#d4aea8"/><path d="M215.9,327.7C217.4,325.6 224.0,322.1 229.8,320.8C235.5,319.4 249.0,319.0 250.5,319.6C252.0,320.3 242.8,323.0 239.0,324.7C235.1,326.4 229.8,326.0 227.5,330.0C225.2,333.9 226.2,347.8 225.2,348.4C224.1,349.0 222.5,336.9 221.0,333.4C219.5,330.0 214.5,329.8 215.9,327.7Z" fill="#c86f66"/></g>
<g id="ckdL"><path d="M284.6,850.4C288.1,847.5 295.6,847.3 304.2,846.9C312.9,846.6 329.2,843.7 336.5,848.1C343.8,852.5 345.3,861.5 348.0,873.4C350.7,885.3 352.3,904.2 352.6,919.5C352.9,934.9 350.8,950.2 349.8,965.6C348.9,981.0 347.9,996.3 346.8,1011.7C345.8,1027.0 344.5,1049.5 343.4,1057.8C342.2,1066.0 344.2,1060.6 339.9,1061.2C335.7,1061.8 322.3,1061.8 318.0,1061.2C313.8,1060.6 315.0,1066.0 314.6,1057.8C314.2,1049.5 315.0,1029.0 315.7,1011.7C316.5,994.4 320.2,971.7 319.2,954.1C318.2,936.4 313.6,917.2 310.0,905.7C306.3,894.2 301.7,891.9 297.3,885.0C292.9,878.0 285.6,870.0 283.5,864.2C281.4,858.5 281.2,853.3 284.6,850.4Z" fill="#c5a76b"/><path d="M299.6,852.7C303.5,847.9 326.3,845.4 334.2,849.2C342.0,853.1 344.0,864.0 346.8,875.7C349.7,887.5 351.2,904.5 351.5,919.5C351.7,934.5 351.0,956.8 348.5,965.6C346.0,974.4 340.0,972.5 336.5,972.5C332.9,972.5 329.2,971.4 327.3,965.6C325.3,959.8 325.7,947.6 325.0,938.0C324.2,928.4 325.0,918.0 322.7,908.0C320.4,898.0 315.0,887.3 311.1,878.0C307.3,868.8 295.8,857.5 299.6,852.7Z" fill="#cfb37c"/><path d="M315.3,1050.8C320.0,1049.6 338.8,1049.5 343.4,1050.8C348.0,1052.2 343.7,1057.1 342.9,1058.9C342.2,1060.7 342.7,1061.0 338.8,1061.4C334.8,1061.9 323.2,1061.9 319.2,1061.4C315.2,1060.9 315.5,1060.2 314.8,1058.5C314.2,1056.7 310.5,1052.1 315.3,1050.8Z" fill="#d3bb86"/><path d="M283.5,780.6C284.7,778.3 291.4,770.3 294.6,770.9C297.7,771.5 301.7,781.4 302.4,784.2C303.1,787.1 301.2,787.9 298.7,787.9C296.3,787.9 290.2,785.5 287.7,784.2C285.1,783.0 282.4,782.8 283.5,780.6Z" fill="#f1e6e6"/><path d="M303.3,815.1C303.9,814.5 311.1,813.7 315.3,813.3C319.5,812.8 327.4,812.0 328.7,812.4C329.9,812.7 325.5,814.4 322.7,815.1C319.8,815.9 314.8,817.0 311.6,817.0C308.4,817.0 302.7,815.7 303.3,815.1Z" fill="#f1e6e6"/><path d="M301.9,758.9C303.6,758.4 302.8,765.1 303.8,767.7C304.8,770.2 306.0,772.2 307.9,774.1C309.8,776.0 312.2,777.9 315.3,779.2C318.4,780.5 320.2,781.3 326.4,781.9C332.5,782.6 345.6,782.7 352.2,782.9C358.8,783.0 361.5,783.3 366.0,782.9C370.5,782.4 375.7,780.3 378.9,780.4C382.1,780.4 383.7,780.8 385.4,783.3C387.0,785.8 388.2,791.3 388.6,795.3C389.0,799.3 388.5,804.2 387.7,807.3C386.8,810.4 385.0,812.7 383.5,813.7C382.0,814.8 382.6,814.1 378.9,813.7C375.2,813.4 368.9,811.8 361.4,811.5C353.9,811.2 342.0,811.5 333.7,811.9C325.4,812.3 318.1,813.2 311.6,813.7C305.2,814.3 298.5,815.9 295.0,815.1C291.6,814.4 291.6,812.4 290.9,809.1C290.1,805.8 291.3,799.6 290.4,795.3C289.6,791.0 284.1,785.2 285.8,783.3C287.5,781.5 298.8,785.3 300.6,784.2C302.3,783.2 297.5,779.1 296.4,776.9C295.3,774.6 293.2,773.9 294.1,770.9C295.0,767.9 300.3,759.4 301.9,758.9Z" fill="#c96166"/><path d="M290.4,794.4C292.2,792.5 297.3,796.7 301.5,797.6C305.6,798.5 308.4,799.3 315.3,799.9C322.2,800.5 332.5,801.2 343.0,801.0C353.4,800.9 372.0,796.9 378.0,799.0C384.0,801.1 381.7,811.6 378.9,813.7C376.1,815.8 368.9,811.8 361.4,811.5C353.9,811.2 342.0,811.5 333.7,811.9C325.4,812.3 318.1,813.2 311.6,813.7C305.2,814.3 298.5,815.9 295.0,815.1C291.6,814.4 291.6,812.6 290.9,809.1C290.1,805.7 288.6,796.3 290.4,794.4Z" fill="#b5585f"/><path d="M290.9,797.6C291.8,797.1 296.1,798.3 296.9,799.0C297.7,799.6 296.7,801.1 295.8,801.6C294.8,802.1 292.0,802.6 291.2,801.9C290.3,801.3 289.9,798.1 290.9,797.6Z" fill="#ead6d6"/><path d="M291.3,804.5C292.0,803.4 295.0,802.9 296.9,802.7C298.7,802.5 302.1,802.6 302.6,803.4C303.0,804.3 301.2,806.8 299.6,807.7C298.1,808.7 294.6,809.8 293.2,809.3C291.8,808.8 290.7,805.6 291.3,804.5Z" fill="#b93c42"/><ellipse cx="383.5" cy="797.1" rx="6" ry="17" fill="#d7808a"/><ellipse cx="383.5" cy="798.1" rx="4.6" ry="11" fill="#b06873"/><path d="M293.6,817.0C295.3,814.2 298.5,816.3 304.2,815.6C310.0,814.9 320.2,813.8 328.2,812.8C336.2,811.8 345.4,810.5 352.2,809.6C358.9,808.7 365.1,807.1 368.8,807.3C372.4,807.5 373.3,808.4 374.3,811.0C375.3,813.6 374.9,818.6 374.9,823.0C375.0,827.3 380.1,833.4 374.8,837.2C369.4,841.1 352.9,843.3 343.0,846.0C333.0,848.7 323.0,851.1 315.3,853.4C307.6,855.7 301.5,857.6 296.9,859.8C292.3,862.0 290.0,865.9 287.7,866.5C285.3,867.0 283.7,864.6 283.0,863.0C282.4,861.5 282.1,859.2 283.5,857.1C284.9,854.9 290.0,853.1 291.3,850.1C292.6,847.2 290.9,842.5 291.3,839.5C291.8,836.5 293.7,835.9 294.1,832.2C294.5,828.4 292.0,819.7 293.6,817.0Z" fill="#877ca6"/><path d="M293.9,817.2C295.7,814.5 298.5,816.5 304.2,815.8C310.0,815.1 320.2,814.0 328.2,813.0C336.2,812.0 345.6,810.6 352.2,809.8C358.8,808.9 365.4,806.3 367.8,807.7C370.3,809.2 366.7,814.3 366.9,818.3C367.1,822.4 373.2,828.9 369.2,832.2C365.2,835.4 351.3,836.0 343.0,837.7C334.6,839.4 325.1,841.2 319.0,842.3C312.8,843.4 309.5,844.6 306.1,844.2C302.7,843.7 300.8,841.5 298.7,839.5C296.6,837.5 294.4,835.9 293.6,832.2C292.8,828.5 292.2,820.0 293.9,817.2Z" fill="#9186b8"/><path d="M369.7,810.0C370.7,808.4 372.1,809.3 372.9,811.4C373.7,813.6 374.1,819.0 374.3,823.0C374.4,826.9 374.4,833.7 373.8,835.4C373.2,837.1 371.8,835.5 370.6,833.1C369.5,830.7 367.1,825.0 366.9,821.1C366.8,817.3 368.7,811.7 369.7,810.0Z" fill="#7c73a5"/><path d="M293.9,820.2C294.8,819.0 299.6,820.2 301.5,821.1C303.4,822.0 305.2,824.0 305.2,825.7C305.2,827.4 303.0,831.0 301.5,831.4C299.9,831.9 297.2,830.4 295.9,828.5C294.7,826.6 293.0,821.4 293.9,820.2Z" fill="#6a5a8c"/><path d="M285.3,845.1C286.1,843.7 289.0,844.0 291.3,843.7C293.7,843.4 298.0,843.0 299.6,843.2C301.2,843.5 301.8,844.3 301.0,845.1C300.2,845.8 297.4,846.7 295.0,847.8C292.6,849.0 288.3,852.4 286.7,852.0C285.1,851.5 284.6,846.5 285.3,845.1Z" fill="#c2a05c"/><path d="M235.1,644.2C236.8,644.1 238.1,644.4 239.9,644.5C241.6,644.6 243.7,644.8 245.6,644.9C247.4,645.0 249.3,645.0 251.2,644.9C253.1,644.8 255.3,644.1 256.9,644.4C258.5,644.7 259.1,646.4 260.9,646.7C262.6,647.1 265.6,646.3 267.4,646.5C269.1,646.6 269.7,647.1 271.4,647.7C273.1,648.2 276.1,649.3 277.7,650.0C279.3,650.7 280.0,651.2 281.2,651.8C282.4,652.4 284.0,653.0 285.0,653.4C286.1,653.9 286.8,653.8 287.6,654.4C288.5,654.9 289.5,655.9 290.4,656.9C291.3,657.9 292.2,659.4 293.0,660.4C293.8,661.4 294.3,662.0 295.1,662.8C295.8,663.6 296.6,664.3 297.3,664.9C298.0,665.6 298.6,665.7 299.2,666.6C299.9,667.5 300.5,669.5 301.0,670.5C301.4,671.6 301.6,672.1 301.9,673.0C302.2,673.9 302.1,674.5 302.7,675.8C303.2,677.0 304.7,679.1 305.2,680.6C305.7,682.1 305.3,683.1 305.6,684.5C305.9,685.9 306.5,687.8 306.8,689.2C307.1,690.7 307.3,692.0 307.5,693.2C307.6,694.3 307.6,694.7 307.7,696.0C307.8,697.4 307.8,699.6 308.0,701.3C308.1,703.0 308.4,704.8 308.6,706.3C308.8,707.7 309.0,708.6 309.3,709.9C309.6,711.1 310.5,712.1 310.4,713.5C310.3,715.0 309.0,716.7 308.9,718.4C308.8,720.1 309.7,722.2 310.0,723.7C310.3,725.2 310.9,726.2 310.9,727.4C310.9,728.6 310.2,729.6 310.0,730.9C309.7,732.2 309.7,734.0 309.5,735.2C309.3,736.4 309.2,737.0 308.9,738.0C308.7,739.1 308.2,740.5 308.0,741.5C307.7,742.6 307.8,743.3 307.7,744.4C307.5,745.5 307.3,747.0 307.1,748.0C306.9,749.1 306.9,750.0 306.6,750.8C306.3,751.5 305.6,751.7 305.4,752.5C305.1,753.3 305.4,755.0 305.0,755.5C304.7,756.0 304.0,755.1 303.5,755.5C302.9,756.0 302.3,757.3 301.9,758.2C301.5,759.1 301.6,760.4 301.2,761.0C300.9,761.6 300.4,761.4 299.8,761.8C299.1,762.2 297.9,762.9 297.3,763.3C296.7,763.7 296.7,763.5 296.3,764.0C295.9,764.5 295.6,765.7 295.0,766.2C294.4,766.8 293.5,767.1 292.7,767.5C291.9,767.8 290.8,767.5 290.3,768.4C289.8,769.2 290.2,771.6 289.7,772.4C289.1,773.2 287.7,772.6 286.9,773.2C286.2,773.8 285.5,775.3 285.2,775.8C284.9,776.3 285.3,775.7 285.2,776.3C285.1,776.8 284.8,777.9 284.6,779.0C284.5,780.0 284.2,781.8 284.4,782.7C284.6,783.5 285.8,783.1 286.0,784.1C286.1,785.0 285.3,787.2 285.3,788.2C285.4,789.2 285.9,789.3 286.1,790.2C286.4,791.2 286.8,792.7 286.9,793.9C287.0,795.1 286.6,796.1 286.9,797.4C287.3,798.7 288.6,800.4 289.0,801.6C289.4,802.8 289.0,803.9 289.3,804.7C289.5,805.5 290.2,806.0 290.4,806.6C290.6,807.3 290.4,807.9 290.7,808.7C291.0,809.6 291.8,810.5 292.2,811.7C292.5,812.9 292.8,814.5 292.7,815.8C292.7,817.1 291.9,818.3 291.9,819.5C291.8,820.6 292.6,821.4 292.7,822.7C292.7,824.0 292.6,825.9 292.2,827.4C291.9,828.8 290.9,830.1 290.6,831.3C290.3,832.5 290.6,833.7 290.6,834.6C290.6,835.4 290.5,835.9 290.4,836.6C290.3,837.2 290.6,837.8 290.2,838.6C289.8,839.4 288.5,840.4 288.0,841.2C287.5,842.0 287.2,842.7 286.9,843.5C286.7,844.3 286.7,845.2 286.5,846.0C286.3,846.8 285.9,847.6 285.5,848.4C285.2,849.1 284.6,849.7 284.6,850.4C284.7,851.1 285.8,851.9 285.9,852.7C285.9,853.6 285.0,854.8 284.9,855.5C284.8,856.3 285.2,856.7 285.3,857.3C285.4,857.9 285.2,858.4 285.6,859.2C286.1,859.9 287.9,861.1 288.3,862.0C288.7,862.8 287.7,863.5 288.1,864.2C288.5,865.0 289.8,865.4 290.5,866.6C291.2,867.7 291.8,870.0 292.5,871.3C293.3,872.7 294.4,873.4 295.0,874.6C295.6,875.8 295.4,877.3 296.2,878.3C297.0,879.3 299.0,879.4 299.9,880.5C300.9,881.6 301.1,883.4 301.9,885.0C302.8,886.5 303.9,888.3 304.9,889.9C305.9,891.5 306.9,892.9 307.7,894.6C308.6,896.3 309.2,898.1 310.0,899.9C310.8,901.7 311.9,904.0 312.4,905.5C312.8,907.0 312.2,907.3 312.7,908.9C313.3,910.5 315.0,913.0 315.7,914.9C316.5,916.9 316.9,919.1 317.1,920.6C317.3,922.1 316.8,922.7 317.0,924.0C317.3,925.4 318.2,927.3 318.5,928.7C318.8,930.2 318.9,931.5 319.0,932.9C319.0,934.4 318.6,935.9 318.7,937.5C318.7,939.1 319.2,940.9 319.2,942.6C319.2,944.2 318.7,945.9 318.5,947.4C318.3,948.9 318.0,950.0 318.0,951.5C317.9,953.0 318.1,955.0 318.0,956.4C318.0,957.8 318.1,958.3 317.9,959.9C317.7,961.5 317.0,964.4 316.7,966.1C316.3,967.9 316.1,969.0 315.7,970.2C315.4,971.4 314.6,972.2 314.4,973.4C314.2,974.6 314.8,975.9 314.6,977.3C314.4,978.7 313.6,980.4 313.0,981.7C312.4,983.1 311.3,984.3 310.9,985.4C310.5,986.5 311.0,987.2 310.7,988.5C310.3,989.8 309.6,992.0 308.8,993.2C308.1,994.5 306.8,995.0 306.1,996.1C305.5,997.1 305.7,998.4 305.0,999.6C304.3,1000.7 302.8,1002.0 301.9,1002.9C301.0,1003.8 300.8,1004.1 299.7,1005.1C298.6,1006.1 296.6,1008.0 295.4,1009.1C294.2,1010.2 293.6,1010.9 292.7,1011.7C291.8,1012.5 291.1,1013.4 289.8,1014.0C288.4,1014.7 285.8,1014.9 284.4,1015.7C283.0,1016.6 282.5,1018.3 281.2,1019.1C279.9,1019.8 278.1,1019.6 276.6,1020.5C275.2,1021.3 274.2,1023.3 272.7,1024.1C271.1,1025.0 269.1,1025.1 267.4,1025.5C265.6,1025.9 263.7,1026.0 262.4,1026.5C261.1,1027.1 260.9,1028.3 259.6,1028.9C258.3,1029.5 256.1,1029.8 254.7,1030.1C253.3,1030.4 252.7,1030.3 251.2,1030.5C249.6,1030.7 246.9,1030.9 245.4,1031.2C243.9,1031.5 243.0,1032.4 242.0,1032.4C241.0,1032.4 240.4,1031.5 239.2,1031.3C238.0,1031.0 236.0,1031.1 234.8,1031.0C233.5,1030.9 232.8,1030.8 231.6,1030.6C230.5,1030.3 229.0,1029.9 228.0,1029.4C227.0,1029.0 226.8,1028.2 225.7,1027.9C224.6,1027.7 222.8,1027.8 221.3,1027.8C219.7,1027.8 217.4,1027.9 216.3,1027.8C215.2,1027.6 215.6,1027.3 214.5,1026.8C213.4,1026.3 211.2,1025.0 209.8,1024.6C208.3,1024.2 206.9,1024.9 205.8,1024.4C204.7,1023.9 204.3,1022.1 203.1,1021.5C201.8,1020.9 199.7,1021.1 198.2,1020.9C196.8,1020.7 195.7,1020.7 194.2,1020.3C192.7,1019.8 191.0,1018.8 189.4,1018.2C187.8,1017.6 186.1,1017.3 184.4,1016.7C182.7,1016.2 181.0,1015.4 179.3,1014.7C177.7,1014.0 176.0,1012.9 174.6,1012.4C173.1,1011.9 171.9,1012.2 170.6,1011.7C169.3,1011.1 168.1,1009.9 167.0,1009.0C165.8,1008.1 164.9,1007.0 163.6,1006.3C162.3,1005.7 160.3,1005.7 159.1,1005.2C157.8,1004.7 157.3,1003.9 156.2,1003.2C155.0,1002.6 153.8,1002.1 152.4,1001.2C150.9,1000.3 148.8,999.0 147.6,997.9C146.3,996.7 146.1,995.5 144.6,994.3C143.2,993.2 140.2,992.3 138.8,991.0C137.3,989.8 137.3,988.2 136.0,986.8C134.8,985.3 132.7,983.7 131.4,982.3C130.2,981.0 129.9,980.1 128.7,978.9C127.6,977.6 125.7,976.0 124.5,974.8C123.3,973.6 122.4,973.2 121.5,971.8C120.6,970.3 120.0,967.8 119.1,966.3C118.2,964.8 117.0,963.8 116.0,962.6C115.0,961.4 113.7,960.4 112.9,959.1C112.0,957.7 111.6,956.1 110.9,954.5C110.1,952.9 109.2,951.2 108.4,949.5C107.6,947.7 106.6,945.4 106.0,943.9C105.3,942.3 105.0,941.9 104.3,940.4C103.7,938.8 102.9,936.4 102.2,934.7C101.4,933.1 100.1,931.9 99.6,930.3C99.2,928.8 100.1,927.1 99.6,925.3C99.1,923.5 97.4,921.6 96.9,919.5C96.3,917.4 96.7,914.5 96.3,912.7C95.9,910.9 95.1,910.7 94.5,909.0C94.0,907.3 93.6,904.6 92.9,902.5C92.3,900.3 91.3,898.0 90.9,896.1C90.5,894.2 90.6,892.7 90.4,890.9C90.3,889.0 90.1,886.6 90.0,885.0C89.8,883.3 89.4,882.5 89.3,881.1C89.3,879.6 89.8,877.4 89.7,876.1C89.5,874.9 89.0,874.7 88.6,873.4C88.2,872.2 87.5,870.2 87.2,868.7C87.0,867.3 87.0,865.9 87.1,864.8C87.2,863.6 87.5,863.2 87.6,861.9C87.8,860.6 88.5,858.9 88.2,857.0C87.9,855.1 86.0,852.5 85.6,850.4C85.3,848.3 86.1,846.6 86.0,844.6C86.0,842.6 85.5,840.3 85.4,838.5C85.2,836.6 85.2,835.3 85.2,833.5C85.2,831.6 85.1,829.2 85.3,827.4C85.6,825.5 86.3,824.0 86.5,822.4C86.8,820.8 86.3,819.2 86.6,817.7C86.9,816.3 88.0,815.0 88.3,813.5C88.7,812.1 88.3,810.6 88.8,809.1C89.3,807.5 90.9,805.6 91.4,804.0C92.0,802.5 92.1,801.4 92.3,799.7C92.4,798.0 92.1,795.6 92.4,794.0C92.7,792.4 93.6,791.5 94.1,790.0C94.6,788.4 94.9,786.5 95.5,784.7C96.0,783.0 96.8,781.1 97.4,779.5C97.9,777.9 98.3,776.7 98.6,775.0C98.9,773.4 98.9,771.4 99.2,769.8C99.5,768.1 100.0,766.5 100.5,765.2C101.0,763.8 101.6,763.0 102.1,761.6C102.6,760.2 103.1,758.3 103.5,756.9C104.0,755.4 104.5,754.6 105.0,753.2C105.5,751.7 106.1,749.4 106.7,748.0C107.2,746.5 107.8,745.5 108.4,744.4C109.0,743.4 109.8,742.7 110.2,741.6C110.7,740.5 110.4,738.9 110.9,737.8C111.5,736.6 112.9,735.6 113.7,734.7C114.5,733.9 114.7,733.7 115.6,732.7C116.4,731.7 118.1,729.7 118.8,728.6C119.6,727.5 119.1,727.0 119.9,726.0C120.7,725.0 122.9,724.1 123.7,722.8C124.6,721.5 124.4,719.6 125.2,718.2C126.0,716.8 127.7,715.6 128.7,714.5C129.6,713.3 129.9,712.5 131.0,711.3C132.2,710.2 134.3,709.1 135.5,707.7C136.7,706.3 137.2,704.2 138.3,702.9C139.5,701.7 141.2,701.2 142.4,700.1C143.6,699.1 144.6,697.8 145.6,696.6C146.6,695.5 147.6,694.3 148.5,693.3C149.4,692.3 150.1,691.7 151.1,690.6C152.1,689.4 153.1,687.6 154.4,686.6C155.7,685.6 157.6,685.5 159.1,684.5C160.6,683.5 162.4,681.6 163.5,680.4C164.6,679.2 164.5,678.3 165.7,677.4C166.8,676.6 168.8,676.3 170.4,675.3C171.9,674.3 174.0,672.4 175.2,671.5C176.3,670.6 175.9,670.8 177.1,669.9C178.3,669.0 180.7,667.0 182.1,666.1C183.5,665.2 183.9,665.1 185.4,664.4C186.8,663.7 189.3,662.9 190.8,661.9C192.3,661.0 193.0,659.6 194.6,658.7C196.1,657.8 198.3,657.6 199.9,656.7C201.4,655.8 202.6,654.1 203.8,653.3C205.1,652.6 206.0,652.7 207.5,652.3C208.9,651.8 211.1,651.3 212.7,650.6C214.3,649.9 215.7,648.5 217.2,648.0C218.6,647.4 219.7,647.3 221.3,647.2C222.8,647.1 225.1,647.6 226.5,647.2C227.8,646.8 228.0,645.3 229.5,644.8C230.9,644.3 233.4,644.2 235.1,644.2Z" fill="#72443f"/><path d="M235.1,646.5C238.9,645.7 242.3,646.7 245.8,647.0C249.3,647.4 252.3,648.4 255.9,648.7C259.5,649.0 264.5,648.2 267.4,648.8C270.3,649.4 270.9,651.2 273.4,652.3C275.8,653.3 279.5,653.8 281.9,654.9C284.4,656.1 286.5,657.5 288.1,659.2C289.7,660.8 290.6,663.0 291.7,664.8C292.7,666.5 293.0,667.9 294.2,669.7C295.3,671.5 297.4,673.1 298.5,675.3C299.5,677.5 299.9,680.4 300.6,682.9C301.3,685.3 301.9,687.4 302.4,690.0C302.9,692.6 303.5,695.7 303.8,698.3C304.0,701.0 303.7,703.1 303.9,706.1C304.1,709.0 304.7,713.1 305.0,716.0C305.3,718.9 305.6,721.2 305.6,723.7C305.6,726.2 305.2,728.7 304.9,731.1C304.6,733.5 304.0,735.7 303.7,738.0C303.4,740.2 303.7,742.6 303.1,744.4C302.4,746.2 300.5,747.0 299.6,748.6C298.8,750.2 298.8,752.4 298.0,754.0C297.2,755.6 296.0,757.2 295.0,758.2C294.0,759.3 293.1,759.6 292.2,760.6C291.2,761.5 290.1,762.7 289.2,763.8C288.3,765.0 287.7,766.0 286.9,767.5C286.2,768.9 285.4,771.0 284.6,772.6C283.9,774.3 283.1,775.9 282.6,777.4C282.0,778.8 281.2,779.9 281.2,781.3C281.2,782.7 282.3,784.0 282.5,785.8C282.7,787.6 282.1,790.1 282.2,792.0C282.3,793.9 282.8,795.5 283.0,797.4C283.3,799.3 283.2,801.5 283.8,803.4C284.5,805.3 286.4,806.9 287.2,809.0C287.9,811.1 288.0,813.8 288.1,815.8C288.2,817.9 288.0,819.1 287.9,821.3C287.8,823.5 287.6,826.7 287.5,828.9C287.3,831.0 287.4,832.8 286.9,834.3C286.4,835.8 285.2,836.4 284.5,838.0C283.7,839.5 282.9,841.9 282.3,843.6C281.8,845.2 282.3,847.9 281.2,848.1C280.1,848.3 277.2,845.7 275.7,845.0C274.1,844.4 273.3,844.9 272.0,844.3C270.6,843.6 269.4,841.9 267.4,841.2C265.3,840.5 262.1,840.6 259.5,840.2C257.0,839.8 254.8,839.1 252.3,838.9C249.7,838.7 244.6,838.3 244.3,838.9C244.0,839.4 248.5,840.7 250.6,842.1C252.7,843.5 254.8,846.0 256.8,847.4C258.8,848.8 260.9,849.1 262.8,850.4C264.6,851.7 266.0,853.7 268.1,855.1C270.2,856.5 273.1,857.5 275.2,859.0C277.4,860.5 279.5,862.0 281.2,864.2C282.9,866.4 283.7,869.9 285.4,872.0C287.1,874.2 289.7,875.2 291.3,877.4C292.9,879.5 293.7,882.0 295.0,885.0C296.3,887.9 298.0,891.9 299.2,895.0C300.4,898.1 301.0,900.7 302.2,903.6C303.4,906.5 305.8,909.5 306.5,912.6C307.3,915.7 306.4,919.0 306.8,922.3C307.3,925.7 308.6,929.4 309.2,932.7C309.7,936.1 310.0,939.8 310.0,942.6C310.0,945.3 309.8,946.8 309.3,949.5C308.9,952.2 307.9,955.9 307.4,958.6C306.9,961.3 307.2,963.6 306.5,965.6C305.9,967.6 304.7,968.9 303.6,970.9C302.6,972.8 301.3,975.4 300.2,977.2C299.2,979.1 298.7,980.7 297.3,981.7C296.0,982.7 293.8,982.4 292.1,983.1C290.4,983.9 288.9,985.1 287.1,986.0C285.3,986.9 283.2,988.2 281.2,988.6C279.2,989.1 277.0,988.7 274.9,988.9C272.9,989.1 270.8,989.5 268.8,989.9C266.8,990.2 264.9,990.3 262.8,990.9C260.6,991.5 258.0,992.6 255.9,993.5C253.7,994.3 251.7,995.3 249.7,996.1C247.8,996.8 246.6,997.3 244.3,997.9C242.0,998.4 238.2,998.9 235.8,999.1C233.3,999.4 231.9,999.2 229.5,999.4C227.1,999.6 223.6,1000.2 221.3,1000.2C218.9,1000.1 217.5,999.2 215.5,998.9C213.5,998.6 211.5,998.7 209.4,998.5C207.3,998.3 205.1,998.2 202.8,997.9C200.6,997.5 198.3,997.2 196.2,996.4C194.1,995.6 192.3,993.9 190.4,993.0C188.4,992.1 186.5,991.7 184.4,990.9C182.4,990.2 180.4,989.3 178.2,988.4C175.9,987.5 173.3,986.5 170.9,985.7C168.5,985.0 165.8,985.2 163.7,984.0C161.6,982.9 160.4,980.4 158.2,979.0C156.0,977.6 152.7,977.2 150.6,975.7C148.4,974.2 147.1,972.1 145.2,970.2C143.4,968.3 140.9,966.4 139.3,964.1C137.6,961.8 137.1,959.0 135.4,956.6C133.7,954.1 131.0,952.1 129.1,949.5C127.3,946.9 125.7,943.6 124.4,941.0C123.0,938.4 122.0,936.3 120.9,933.9C119.8,931.5 118.6,929.2 117.6,926.4C116.6,923.7 116.1,920.7 115.1,917.3C114.2,913.9 112.9,909.3 112.0,905.8C111.0,902.3 110.2,899.7 109.5,896.5C108.8,893.3 108.5,889.7 107.7,886.6C107.0,883.5 105.6,881.1 104.9,878.2C104.3,875.2 104.2,872.2 103.8,868.8C103.4,865.5 103.1,861.3 102.6,858.0C102.1,854.8 101.2,852.4 100.6,849.2C100.0,846.0 99.3,842.3 99.2,838.9C99.1,835.5 99.8,832.1 100.0,828.7C100.3,825.3 100.6,821.6 100.6,818.3C100.7,815.0 100.0,812.1 100.3,808.9C100.7,805.8 101.9,802.8 102.6,799.4C103.4,796.1 104.3,792.4 104.9,788.9C105.4,785.5 105.5,782.4 106.1,779.0C106.7,775.5 107.4,771.6 108.4,768.2C109.4,764.7 111.1,761.6 112.3,758.4C113.4,755.2 114.0,752.3 115.3,749.0C116.6,745.8 118.5,742.2 120.1,739.0C121.8,735.9 123.5,733.0 125.0,730.1C126.5,727.1 127.6,724.1 129.1,721.4C130.7,718.7 132.3,716.2 134.4,713.9C136.4,711.6 139.1,709.9 141.3,707.7C143.5,705.5 145.3,703.0 147.6,700.6C149.8,698.3 152.5,695.5 155.0,693.5C157.6,691.5 160.3,690.5 162.9,688.4C165.5,686.3 167.8,683.2 170.6,681.1C173.4,678.9 176.9,677.4 179.9,675.3C182.8,673.3 185.1,671.2 188.2,668.9C191.2,666.6 194.4,663.5 198.2,661.5C202.1,659.4 207.1,658.2 211.2,656.6C215.3,654.9 218.9,653.2 222.9,651.6C226.8,649.9 231.3,647.3 235.1,646.5Z" fill="#80524d"/><path d="M177.5,699.5C178.7,696.5 182.5,689.3 189.0,684.5C195.6,679.7 207.5,674.1 216.7,670.7C225.9,667.2 237.8,664.5 244.3,663.8C250.8,663.0 257.4,664.4 255.8,666.1C254.3,667.8 243.2,671.3 235.1,674.1C227.0,677.0 214.8,680.1 207.5,683.4C200.2,686.6 195.6,690.5 191.3,693.7C187.1,696.9 184.4,701.5 182.1,702.5C179.8,703.4 176.4,702.5 177.5,699.5Z" fill="#94706d"/><path d="M224.7,684.5C225.3,682.9 228.2,681.1 230.5,680.4C232.8,679.7 238.0,679.1 238.6,680.4C239.1,681.6 235.9,686.3 234.0,688.0C232.0,689.6 228.6,690.8 227.0,690.3C225.5,689.7 224.2,686.2 224.7,684.5Z" fill="#8c625e"/><path d="M246.6,690.3C247.1,689.2 250.9,688.4 252.4,689.1C253.8,689.9 255.9,693.8 255.4,694.9C254.9,696.0 250.8,696.3 249.4,695.6C247.9,694.8 246.1,691.3 246.6,690.3Z" fill="#8c625e"/><path d="M262.8,698.3C263.3,697.2 266.6,695.3 269.7,697.2C272.7,699.1 278.7,706.6 281.2,709.9C283.7,713.1 284.8,715.0 284.6,716.8C284.4,718.5 281.8,721.4 280.0,720.2C278.3,719.1 276.6,712.5 274.3,709.9C272.0,707.2 268.1,706.0 266.2,704.1C264.3,702.2 262.2,699.5 262.8,698.3Z" fill="#94706d"/><path d="M147.6,728.3C147.2,726.6 151.8,720.2 154.5,720.2C157.2,720.2 160.3,727.1 163.7,728.3C167.1,729.4 174.0,726.4 174.7,727.1C175.5,727.9 171.3,732.3 168.3,732.9C165.3,733.5 160.2,731.4 156.8,730.6C153.3,729.8 147.9,730.0 147.6,728.3Z" fill="#94706d"/><path d="M213.9,741.0C214.5,740.6 221.8,741.2 225.9,743.3C230.0,745.4 235.9,750.1 238.6,753.6C241.2,757.2 242.8,764.5 242.0,764.7C241.2,764.9 237.2,758.0 234.0,754.8C230.7,751.6 225.8,747.9 222.4,745.6C219.1,743.3 213.3,741.3 213.9,741.0Z" fill="#8c625e"/><path d="M281.2,735.2C282.1,734.2 286.1,731.2 286.9,731.7C287.8,732.3 287.1,737.6 286.3,738.7C285.4,739.7 282.5,738.5 281.6,738.0C280.8,737.4 280.3,736.2 281.2,735.2Z" fill="#8c625e"/><path d="M268.5,745.6C269.3,744.6 277.5,744.0 281.2,743.3C284.8,742.5 289.4,740.6 290.4,741.0C291.4,741.3 289.2,744.2 286.9,745.6C284.6,746.9 279.6,749.0 276.6,749.0C273.5,749.0 267.7,746.5 268.5,745.6Z" fill="#8c625e"/><path d="M244.3,779.0C246.0,778.0 253.9,776.9 258.1,775.5C262.4,774.2 267.9,770.3 269.7,770.9C271.4,771.5 270.8,777.1 268.5,779.0C266.2,780.9 258.5,781.0 255.8,782.4C253.2,783.9 253.7,787.9 252.4,787.7C251.0,787.5 249.1,782.7 247.8,781.3C246.4,779.8 242.6,779.9 244.3,779.0Z" fill="#94706d"/><path d="M137.2,781.3C138.0,779.4 140.4,777.8 141.8,777.8C143.1,777.8 144.9,778.8 145.2,781.3C145.6,783.8 145.1,790.3 144.1,792.8C143.1,795.3 140.7,796.8 139.5,796.3C138.3,795.7 137.1,791.8 136.7,789.3C136.3,786.8 136.3,783.2 137.2,781.3Z" fill="#8c625e"/><path d="M258.6,811.2C259.6,810.1 261.1,809.3 262.8,810.1C264.4,810.8 268.5,814.3 268.5,815.8C268.5,817.4 264.4,817.8 262.8,819.3C261.1,820.8 259.6,825.4 258.6,825.1C257.6,824.7 257.0,819.3 257.0,817.0C257.0,814.7 257.6,812.4 258.6,811.2Z" fill="#8c625e"/><path d="M106.1,779.0C106.2,774.8 111.8,777.4 114.1,781.3C116.5,785.1 119.0,795.9 120.4,802.0C121.7,808.2 123.1,811.6 122.2,818.1C121.4,824.7 118.0,835.0 115.3,841.2C112.6,847.3 108.2,853.9 106.1,855.0C104.0,856.2 101.7,852.7 102.6,848.1C103.6,843.5 110.0,834.3 111.8,827.4C113.6,820.4 114.4,814.7 113.5,806.6C112.5,798.6 106.0,783.2 106.1,779.0Z" fill="#94706d"/><path d="M122.2,895.3C122.4,892.8 124.5,885.3 125.7,882.7C126.8,880.0 128.6,878.4 129.1,879.2C129.6,880.0 129.4,884.2 128.7,887.3C127.9,890.3 125.6,896.3 124.5,897.6C123.4,899.0 122.0,897.8 122.2,895.3Z" fill="#8c625e"/><path d="M217.8,926.4C217.8,925.3 220.2,923.0 221.3,923.0C222.3,923.0 224.0,925.3 224.0,926.4C224.0,927.6 222.3,929.9 221.3,929.9C220.2,929.9 217.8,927.6 217.8,926.4Z" fill="#8c625e"/><path d="M240.9,934.5C242.4,932.5 250.1,928.0 255.8,925.3C261.6,922.6 272.5,918.2 275.4,918.4C278.3,918.6 276.0,924.3 273.1,926.4C270.2,928.5 262.6,929.2 258.1,931.0C253.7,932.9 249.5,936.9 246.6,937.5C243.7,938.1 239.3,936.5 240.9,934.5Z" fill="#94706d"/><path d="M270.8,939.1C271.2,938.3 276.0,936.9 276.6,937.5C277.2,938.1 275.2,942.3 274.3,942.6C273.3,942.8 270.4,939.9 270.8,939.1Z" fill="#8c625e"/><path d="M199.4,942.6C199.0,939.2 203.0,939.2 205.2,940.7C207.3,942.3 209.7,948.0 212.1,951.8C214.4,955.5 218.5,960.0 219.4,963.3C220.4,966.6 219.1,969.6 217.8,971.4C216.6,973.1 213.8,975.4 212.1,973.7C210.3,971.9 209.6,966.2 207.5,961.0C205.3,955.8 199.8,945.9 199.4,942.6Z" fill="#94706d"/><path d="M191.3,994.4C192.2,992.7 196.5,991.1 198.2,992.1C200.0,993.1 201.7,997.7 201.7,1000.2C201.7,1002.7 199.7,1006.7 198.2,1007.1C196.8,1007.5 194.3,1004.6 193.2,1002.5C192.0,1000.4 190.5,996.1 191.3,994.4Z" fill="#8c625e"/><path d="M281.2,908.0C281.8,906.6 288.1,902.8 290.4,902.2C292.7,901.7 295.6,903.1 295.0,904.5C294.4,906.0 289.2,910.2 286.9,910.8C284.6,911.3 280.6,909.4 281.2,908.0Z" fill="#8c625e"/><path d="M242.0,729.4C242.2,729.1 251.6,735.8 255.8,739.8C260.1,743.8 264.1,749.0 267.4,753.6C270.6,758.2 275.4,767.1 275.4,767.5C275.4,767.8 270.8,760.2 267.4,755.9C263.9,751.7 258.9,746.5 254.7,742.1C250.5,737.7 241.8,729.8 242.0,729.4Z" fill="#6f423d"/><path d="M242.0,843.5C242.4,842.5 250.8,838.7 255.8,838.9C260.8,839.1 267.7,842.3 272.0,844.6C276.2,846.9 282.0,852.3 281.2,852.7C280.4,853.1 272.0,848.3 267.4,846.9C262.8,845.6 257.8,845.2 253.5,844.6C249.3,844.1 241.6,844.4 242.0,843.5Z" fill="#6f423d"/><path d="M164.8,972.5C166.0,971.4 176.2,971.0 179.8,971.4C183.5,971.7 185.8,973.3 186.7,974.8C187.7,976.4 187.9,980.0 185.6,980.6C183.3,981.2 176.4,979.6 172.9,978.3C169.4,976.9 163.7,973.7 164.8,972.5Z" fill="#6f423d"/><path d="M278.9,958.7C279.8,956.4 288.3,947.9 290.4,947.2C292.5,946.4 292.5,951.8 291.6,954.1C290.6,956.4 286.8,960.2 284.6,961.0C282.5,961.8 277.9,961.0 278.9,958.7Z" fill="#6f423d"/></g>
<g transform="translate(858.2,-3) scale(-1,1)"><path d="M284.6,850.4C288.1,847.5 295.6,847.3 304.2,846.9C312.9,846.6 329.2,843.7 336.5,848.1C343.8,852.5 345.3,861.5 348.0,873.4C350.7,885.3 352.3,904.2 352.6,919.5C352.9,934.9 350.8,950.2 349.8,965.6C348.9,981.0 347.9,996.3 346.8,1011.7C345.8,1027.0 344.5,1049.5 343.4,1057.8C342.2,1066.0 344.2,1060.6 339.9,1061.2C335.7,1061.8 322.3,1061.8 318.0,1061.2C313.8,1060.6 315.0,1066.0 314.6,1057.8C314.2,1049.5 315.0,1029.0 315.7,1011.7C316.5,994.4 320.2,971.7 319.2,954.1C318.2,936.4 313.6,917.2 310.0,905.7C306.3,894.2 301.7,891.9 297.3,885.0C292.9,878.0 285.6,870.0 283.5,864.2C281.4,858.5 281.2,853.3 284.6,850.4Z" fill="#c5a76b"/><path d="M299.6,852.7C303.5,847.9 326.3,845.4 334.2,849.2C342.0,853.1 344.0,864.0 346.8,875.7C349.7,887.5 351.2,904.5 351.5,919.5C351.7,934.5 351.0,956.8 348.5,965.6C346.0,974.4 340.0,972.5 336.5,972.5C332.9,972.5 329.2,971.4 327.3,965.6C325.3,959.8 325.7,947.6 325.0,938.0C324.2,928.4 325.0,918.0 322.7,908.0C320.4,898.0 315.0,887.3 311.1,878.0C307.3,868.8 295.8,857.5 299.6,852.7Z" fill="#cfb37c"/><path d="M315.3,1050.8C320.0,1049.6 338.8,1049.5 343.4,1050.8C348.0,1052.2 343.7,1057.1 342.9,1058.9C342.2,1060.7 342.7,1061.0 338.8,1061.4C334.8,1061.9 323.2,1061.9 319.2,1061.4C315.2,1060.9 315.5,1060.2 314.8,1058.5C314.2,1056.7 310.5,1052.1 315.3,1050.8Z" fill="#d3bb86"/><path d="M283.5,780.6C284.7,778.3 291.4,770.3 294.6,770.9C297.7,771.5 301.7,781.4 302.4,784.2C303.1,787.1 301.2,787.9 298.7,787.9C296.3,787.9 290.2,785.5 287.7,784.2C285.1,783.0 282.4,782.8 283.5,780.6Z" fill="#f1e6e6"/><path d="M303.3,815.1C303.9,814.5 311.1,813.7 315.3,813.3C319.5,812.8 327.4,812.0 328.7,812.4C329.9,812.7 325.5,814.4 322.7,815.1C319.8,815.9 314.8,817.0 311.6,817.0C308.4,817.0 302.7,815.7 303.3,815.1Z" fill="#f1e6e6"/><path d="M301.9,758.9C303.6,758.4 302.8,765.1 303.8,767.7C304.8,770.2 306.0,772.2 307.9,774.1C309.8,776.0 312.2,777.9 315.3,779.2C318.4,780.5 320.2,781.3 326.4,781.9C332.5,782.6 345.6,782.7 352.2,782.9C358.8,783.0 361.5,783.3 366.0,782.9C370.5,782.4 375.7,780.3 378.9,780.4C382.1,780.4 383.7,780.8 385.4,783.3C387.0,785.8 388.2,791.3 388.6,795.3C389.0,799.3 388.5,804.2 387.7,807.3C386.8,810.4 385.0,812.7 383.5,813.7C382.0,814.8 382.6,814.1 378.9,813.7C375.2,813.4 368.9,811.8 361.4,811.5C353.9,811.2 342.0,811.5 333.7,811.9C325.4,812.3 318.1,813.2 311.6,813.7C305.2,814.3 298.5,815.9 295.0,815.1C291.6,814.4 291.6,812.4 290.9,809.1C290.1,805.8 291.3,799.6 290.4,795.3C289.6,791.0 284.1,785.2 285.8,783.3C287.5,781.5 298.8,785.3 300.6,784.2C302.3,783.2 297.5,779.1 296.4,776.9C295.3,774.6 293.2,773.9 294.1,770.9C295.0,767.9 300.3,759.4 301.9,758.9Z" fill="#c96166"/><path d="M290.4,794.4C292.2,792.5 297.3,796.7 301.5,797.6C305.6,798.5 308.4,799.3 315.3,799.9C322.2,800.5 332.5,801.2 343.0,801.0C353.4,800.9 372.0,796.9 378.0,799.0C384.0,801.1 381.7,811.6 378.9,813.7C376.1,815.8 368.9,811.8 361.4,811.5C353.9,811.2 342.0,811.5 333.7,811.9C325.4,812.3 318.1,813.2 311.6,813.7C305.2,814.3 298.5,815.9 295.0,815.1C291.6,814.4 291.6,812.6 290.9,809.1C290.1,805.7 288.6,796.3 290.4,794.4Z" fill="#b5585f"/><path d="M290.9,797.6C291.8,797.1 296.1,798.3 296.9,799.0C297.7,799.6 296.7,801.1 295.8,801.6C294.8,802.1 292.0,802.6 291.2,801.9C290.3,801.3 289.9,798.1 290.9,797.6Z" fill="#ead6d6"/><path d="M291.3,804.5C292.0,803.4 295.0,802.9 296.9,802.7C298.7,802.5 302.1,802.6 302.6,803.4C303.0,804.3 301.2,806.8 299.6,807.7C298.1,808.7 294.6,809.8 293.2,809.3C291.8,808.8 290.7,805.6 291.3,804.5Z" fill="#b93c42"/><ellipse cx="383.5" cy="797.1" rx="6" ry="17" fill="#d7808a"/><ellipse cx="383.5" cy="798.1" rx="4.6" ry="11" fill="#b06873"/><path d="M293.6,817.0C295.3,814.2 298.5,816.3 304.2,815.6C310.0,814.9 320.2,813.8 328.2,812.8C336.2,811.8 345.4,810.5 352.2,809.6C358.9,808.7 365.1,807.1 368.8,807.3C372.4,807.5 373.3,808.4 374.3,811.0C375.3,813.6 374.9,818.6 374.9,823.0C375.0,827.3 380.1,833.4 374.8,837.2C369.4,841.1 352.9,843.3 343.0,846.0C333.0,848.7 323.0,851.1 315.3,853.4C307.6,855.7 301.5,857.6 296.9,859.8C292.3,862.0 290.0,865.9 287.7,866.5C285.3,867.0 283.7,864.6 283.0,863.0C282.4,861.5 282.1,859.2 283.5,857.1C284.9,854.9 290.0,853.1 291.3,850.1C292.6,847.2 290.9,842.5 291.3,839.5C291.8,836.5 293.7,835.9 294.1,832.2C294.5,828.4 292.0,819.7 293.6,817.0Z" fill="#877ca6"/><path d="M293.9,817.2C295.7,814.5 298.5,816.5 304.2,815.8C310.0,815.1 320.2,814.0 328.2,813.0C336.2,812.0 345.6,810.6 352.2,809.8C358.8,808.9 365.4,806.3 367.8,807.7C370.3,809.2 366.7,814.3 366.9,818.3C367.1,822.4 373.2,828.9 369.2,832.2C365.2,835.4 351.3,836.0 343.0,837.7C334.6,839.4 325.1,841.2 319.0,842.3C312.8,843.4 309.5,844.6 306.1,844.2C302.7,843.7 300.8,841.5 298.7,839.5C296.6,837.5 294.4,835.9 293.6,832.2C292.8,828.5 292.2,820.0 293.9,817.2Z" fill="#9186b8"/><path d="M369.7,810.0C370.7,808.4 372.1,809.3 372.9,811.4C373.7,813.6 374.1,819.0 374.3,823.0C374.4,826.9 374.4,833.7 373.8,835.4C373.2,837.1 371.8,835.5 370.6,833.1C369.5,830.7 367.1,825.0 366.9,821.1C366.8,817.3 368.7,811.7 369.7,810.0Z" fill="#7c73a5"/><path d="M293.9,820.2C294.8,819.0 299.6,820.2 301.5,821.1C303.4,822.0 305.2,824.0 305.2,825.7C305.2,827.4 303.0,831.0 301.5,831.4C299.9,831.9 297.2,830.4 295.9,828.5C294.7,826.6 293.0,821.4 293.9,820.2Z" fill="#6a5a8c"/><path d="M285.3,845.1C286.1,843.7 289.0,844.0 291.3,843.7C293.7,843.4 298.0,843.0 299.6,843.2C301.2,843.5 301.8,844.3 301.0,845.1C300.2,845.8 297.4,846.7 295.0,847.8C292.6,849.0 288.3,852.4 286.7,852.0C285.1,851.5 284.6,846.5 285.3,845.1Z" fill="#c2a05c"/><path d="M235.1,644.2C236.8,644.1 238.1,644.4 239.9,644.5C241.6,644.6 243.7,644.8 245.6,644.9C247.4,645.0 249.3,645.0 251.2,644.9C253.1,644.8 255.3,644.1 256.9,644.4C258.5,644.7 259.1,646.4 260.9,646.7C262.6,647.1 265.6,646.3 267.4,646.5C269.1,646.6 269.7,647.1 271.4,647.7C273.1,648.2 276.1,649.3 277.7,650.0C279.3,650.7 280.0,651.2 281.2,651.8C282.4,652.4 284.0,653.0 285.0,653.4C286.1,653.9 286.8,653.8 287.6,654.4C288.5,654.9 289.5,655.9 290.4,656.9C291.3,657.9 292.2,659.4 293.0,660.4C293.8,661.4 294.3,662.0 295.1,662.8C295.8,663.6 296.6,664.3 297.3,664.9C298.0,665.6 298.6,665.7 299.2,666.6C299.9,667.5 300.5,669.5 301.0,670.5C301.4,671.6 301.6,672.1 301.9,673.0C302.2,673.9 302.1,674.5 302.7,675.8C303.2,677.0 304.7,679.1 305.2,680.6C305.7,682.1 305.3,683.1 305.6,684.5C305.9,685.9 306.5,687.8 306.8,689.2C307.1,690.7 307.3,692.0 307.5,693.2C307.6,694.3 307.6,694.7 307.7,696.0C307.8,697.4 307.8,699.6 308.0,701.3C308.1,703.0 308.4,704.8 308.6,706.3C308.8,707.7 309.0,708.6 309.3,709.9C309.6,711.1 310.5,712.1 310.4,713.5C310.3,715.0 309.0,716.7 308.9,718.4C308.8,720.1 309.7,722.2 310.0,723.7C310.3,725.2 310.9,726.2 310.9,727.4C310.9,728.6 310.2,729.6 310.0,730.9C309.7,732.2 309.7,734.0 309.5,735.2C309.3,736.4 309.2,737.0 308.9,738.0C308.7,739.1 308.2,740.5 308.0,741.5C307.7,742.6 307.8,743.3 307.7,744.4C307.5,745.5 307.3,747.0 307.1,748.0C306.9,749.1 306.9,750.0 306.6,750.8C306.3,751.5 305.6,751.7 305.4,752.5C305.1,753.3 305.4,755.0 305.0,755.5C304.7,756.0 304.0,755.1 303.5,755.5C302.9,756.0 302.3,757.3 301.9,758.2C301.5,759.1 301.6,760.4 301.2,761.0C300.9,761.6 300.4,761.4 299.8,761.8C299.1,762.2 297.9,762.9 297.3,763.3C296.7,763.7 296.7,763.5 296.3,764.0C295.9,764.5 295.6,765.7 295.0,766.2C294.4,766.8 293.5,767.1 292.7,767.5C291.9,767.8 290.8,767.5 290.3,768.4C289.8,769.2 290.2,771.6 289.7,772.4C289.1,773.2 287.7,772.6 286.9,773.2C286.2,773.8 285.5,775.3 285.2,775.8C284.9,776.3 285.3,775.7 285.2,776.3C285.1,776.8 284.8,777.9 284.6,779.0C284.5,780.0 284.2,781.8 284.4,782.7C284.6,783.5 285.8,783.1 286.0,784.1C286.1,785.0 285.3,787.2 285.3,788.2C285.4,789.2 285.9,789.3 286.1,790.2C286.4,791.2 286.8,792.7 286.9,793.9C287.0,795.1 286.6,796.1 286.9,797.4C287.3,798.7 288.6,800.4 289.0,801.6C289.4,802.8 289.0,803.9 289.3,804.7C289.5,805.5 290.2,806.0 290.4,806.6C290.6,807.3 290.4,807.9 290.7,808.7C291.0,809.6 291.8,810.5 292.2,811.7C292.5,812.9 292.8,814.5 292.7,815.8C292.7,817.1 291.9,818.3 291.9,819.5C291.8,820.6 292.6,821.4 292.7,822.7C292.7,824.0 292.6,825.9 292.2,827.4C291.9,828.8 290.9,830.1 290.6,831.3C290.3,832.5 290.6,833.7 290.6,834.6C290.6,835.4 290.5,835.9 290.4,836.6C290.3,837.2 290.6,837.8 290.2,838.6C289.8,839.4 288.5,840.4 288.0,841.2C287.5,842.0 287.2,842.7 286.9,843.5C286.7,844.3 286.7,845.2 286.5,846.0C286.3,846.8 285.9,847.6 285.5,848.4C285.2,849.1 284.6,849.7 284.6,850.4C284.7,851.1 285.8,851.9 285.9,852.7C285.9,853.6 285.0,854.8 284.9,855.5C284.8,856.3 285.2,856.7 285.3,857.3C285.4,857.9 285.2,858.4 285.6,859.2C286.1,859.9 287.9,861.1 288.3,862.0C288.7,862.8 287.7,863.5 288.1,864.2C288.5,865.0 289.8,865.4 290.5,866.6C291.2,867.7 291.8,870.0 292.5,871.3C293.3,872.7 294.4,873.4 295.0,874.6C295.6,875.8 295.4,877.3 296.2,878.3C297.0,879.3 299.0,879.4 299.9,880.5C300.9,881.6 301.1,883.4 301.9,885.0C302.8,886.5 303.9,888.3 304.9,889.9C305.9,891.5 306.9,892.9 307.7,894.6C308.6,896.3 309.2,898.1 310.0,899.9C310.8,901.7 311.9,904.0 312.4,905.5C312.8,907.0 312.2,907.3 312.7,908.9C313.3,910.5 315.0,913.0 315.7,914.9C316.5,916.9 316.9,919.1 317.1,920.6C317.3,922.1 316.8,922.7 317.0,924.0C317.3,925.4 318.2,927.3 318.5,928.7C318.8,930.2 318.9,931.5 319.0,932.9C319.0,934.4 318.6,935.9 318.7,937.5C318.7,939.1 319.2,940.9 319.2,942.6C319.2,944.2 318.7,945.9 318.5,947.4C318.3,948.9 318.0,950.0 318.0,951.5C317.9,953.0 318.1,955.0 318.0,956.4C318.0,957.8 318.1,958.3 317.9,959.9C317.7,961.5 317.0,964.4 316.7,966.1C316.3,967.9 316.1,969.0 315.7,970.2C315.4,971.4 314.6,972.2 314.4,973.4C314.2,974.6 314.8,975.9 314.6,977.3C314.4,978.7 313.6,980.4 313.0,981.7C312.4,983.1 311.3,984.3 310.9,985.4C310.5,986.5 311.0,987.2 310.7,988.5C310.3,989.8 309.6,992.0 308.8,993.2C308.1,994.5 306.8,995.0 306.1,996.1C305.5,997.1 305.7,998.4 305.0,999.6C304.3,1000.7 302.8,1002.0 301.9,1002.9C301.0,1003.8 300.8,1004.1 299.7,1005.1C298.6,1006.1 296.6,1008.0 295.4,1009.1C294.2,1010.2 293.6,1010.9 292.7,1011.7C291.8,1012.5 291.1,1013.4 289.8,1014.0C288.4,1014.7 285.8,1014.9 284.4,1015.7C283.0,1016.6 282.5,1018.3 281.2,1019.1C279.9,1019.8 278.1,1019.6 276.6,1020.5C275.2,1021.3 274.2,1023.3 272.7,1024.1C271.1,1025.0 269.1,1025.1 267.4,1025.5C265.6,1025.9 263.7,1026.0 262.4,1026.5C261.1,1027.1 260.9,1028.3 259.6,1028.9C258.3,1029.5 256.1,1029.8 254.7,1030.1C253.3,1030.4 252.7,1030.3 251.2,1030.5C249.6,1030.7 246.9,1030.9 245.4,1031.2C243.9,1031.5 243.0,1032.4 242.0,1032.4C241.0,1032.4 240.4,1031.5 239.2,1031.3C238.0,1031.0 236.0,1031.1 234.8,1031.0C233.5,1030.9 232.8,1030.8 231.6,1030.6C230.5,1030.3 229.0,1029.9 228.0,1029.4C227.0,1029.0 226.8,1028.2 225.7,1027.9C224.6,1027.7 222.8,1027.8 221.3,1027.8C219.7,1027.8 217.4,1027.9 216.3,1027.8C215.2,1027.6 215.6,1027.3 214.5,1026.8C213.4,1026.3 211.2,1025.0 209.8,1024.6C208.3,1024.2 206.9,1024.9 205.8,1024.4C204.7,1023.9 204.3,1022.1 203.1,1021.5C201.8,1020.9 199.7,1021.1 198.2,1020.9C196.8,1020.7 195.7,1020.7 194.2,1020.3C192.7,1019.8 191.0,1018.8 189.4,1018.2C187.8,1017.6 186.1,1017.3 184.4,1016.7C182.7,1016.2 181.0,1015.4 179.3,1014.7C177.7,1014.0 176.0,1012.9 174.6,1012.4C173.1,1011.9 171.9,1012.2 170.6,1011.7C169.3,1011.1 168.1,1009.9 167.0,1009.0C165.8,1008.1 164.9,1007.0 163.6,1006.3C162.3,1005.7 160.3,1005.7 159.1,1005.2C157.8,1004.7 157.3,1003.9 156.2,1003.2C155.0,1002.6 153.8,1002.1 152.4,1001.2C150.9,1000.3 148.8,999.0 147.6,997.9C146.3,996.7 146.1,995.5 144.6,994.3C143.2,993.2 140.2,992.3 138.8,991.0C137.3,989.8 137.3,988.2 136.0,986.8C134.8,985.3 132.7,983.7 131.4,982.3C130.2,981.0 129.9,980.1 128.7,978.9C127.6,977.6 125.7,976.0 124.5,974.8C123.3,973.6 122.4,973.2 121.5,971.8C120.6,970.3 120.0,967.8 119.1,966.3C118.2,964.8 117.0,963.8 116.0,962.6C115.0,961.4 113.7,960.4 112.9,959.1C112.0,957.7 111.6,956.1 110.9,954.5C110.1,952.9 109.2,951.2 108.4,949.5C107.6,947.7 106.6,945.4 106.0,943.9C105.3,942.3 105.0,941.9 104.3,940.4C103.7,938.8 102.9,936.4 102.2,934.7C101.4,933.1 100.1,931.9 99.6,930.3C99.2,928.8 100.1,927.1 99.6,925.3C99.1,923.5 97.4,921.6 96.9,919.5C96.3,917.4 96.7,914.5 96.3,912.7C95.9,910.9 95.1,910.7 94.5,909.0C94.0,907.3 93.6,904.6 92.9,902.5C92.3,900.3 91.3,898.0 90.9,896.1C90.5,894.2 90.6,892.7 90.4,890.9C90.3,889.0 90.1,886.6 90.0,885.0C89.8,883.3 89.4,882.5 89.3,881.1C89.3,879.6 89.8,877.4 89.7,876.1C89.5,874.9 89.0,874.7 88.6,873.4C88.2,872.2 87.5,870.2 87.2,868.7C87.0,867.3 87.0,865.9 87.1,864.8C87.2,863.6 87.5,863.2 87.6,861.9C87.8,860.6 88.5,858.9 88.2,857.0C87.9,855.1 86.0,852.5 85.6,850.4C85.3,848.3 86.1,846.6 86.0,844.6C86.0,842.6 85.5,840.3 85.4,838.5C85.2,836.6 85.2,835.3 85.2,833.5C85.2,831.6 85.1,829.2 85.3,827.4C85.6,825.5 86.3,824.0 86.5,822.4C86.8,820.8 86.3,819.2 86.6,817.7C86.9,816.3 88.0,815.0 88.3,813.5C88.7,812.1 88.3,810.6 88.8,809.1C89.3,807.5 90.9,805.6 91.4,804.0C92.0,802.5 92.1,801.4 92.3,799.7C92.4,798.0 92.1,795.6 92.4,794.0C92.7,792.4 93.6,791.5 94.1,790.0C94.6,788.4 94.9,786.5 95.5,784.7C96.0,783.0 96.8,781.1 97.4,779.5C97.9,777.9 98.3,776.7 98.6,775.0C98.9,773.4 98.9,771.4 99.2,769.8C99.5,768.1 100.0,766.5 100.5,765.2C101.0,763.8 101.6,763.0 102.1,761.6C102.6,760.2 103.1,758.3 103.5,756.9C104.0,755.4 104.5,754.6 105.0,753.2C105.5,751.7 106.1,749.4 106.7,748.0C107.2,746.5 107.8,745.5 108.4,744.4C109.0,743.4 109.8,742.7 110.2,741.6C110.7,740.5 110.4,738.9 110.9,737.8C111.5,736.6 112.9,735.6 113.7,734.7C114.5,733.9 114.7,733.7 115.6,732.7C116.4,731.7 118.1,729.7 118.8,728.6C119.6,727.5 119.1,727.0 119.9,726.0C120.7,725.0 122.9,724.1 123.7,722.8C124.6,721.5 124.4,719.6 125.2,718.2C126.0,716.8 127.7,715.6 128.7,714.5C129.6,713.3 129.9,712.5 131.0,711.3C132.2,710.2 134.3,709.1 135.5,707.7C136.7,706.3 137.2,704.2 138.3,702.9C139.5,701.7 141.2,701.2 142.4,700.1C143.6,699.1 144.6,697.8 145.6,696.6C146.6,695.5 147.6,694.3 148.5,693.3C149.4,692.3 150.1,691.7 151.1,690.6C152.1,689.4 153.1,687.6 154.4,686.6C155.7,685.6 157.6,685.5 159.1,684.5C160.6,683.5 162.4,681.6 163.5,680.4C164.6,679.2 164.5,678.3 165.7,677.4C166.8,676.6 168.8,676.3 170.4,675.3C171.9,674.3 174.0,672.4 175.2,671.5C176.3,670.6 175.9,670.8 177.1,669.9C178.3,669.0 180.7,667.0 182.1,666.1C183.5,665.2 183.9,665.1 185.4,664.4C186.8,663.7 189.3,662.9 190.8,661.9C192.3,661.0 193.0,659.6 194.6,658.7C196.1,657.8 198.3,657.6 199.9,656.7C201.4,655.8 202.6,654.1 203.8,653.3C205.1,652.6 206.0,652.7 207.5,652.3C208.9,651.8 211.1,651.3 212.7,650.6C214.3,649.9 215.7,648.5 217.2,648.0C218.6,647.4 219.7,647.3 221.3,647.2C222.8,647.1 225.1,647.6 226.5,647.2C227.8,646.8 228.0,645.3 229.5,644.8C230.9,644.3 233.4,644.2 235.1,644.2Z" fill="#72443f"/><path d="M235.1,646.5C238.9,645.7 242.3,646.7 245.8,647.0C249.3,647.4 252.3,648.4 255.9,648.7C259.5,649.0 264.5,648.2 267.4,648.8C270.3,649.4 270.9,651.2 273.4,652.3C275.8,653.3 279.5,653.8 281.9,654.9C284.4,656.1 286.5,657.5 288.1,659.2C289.7,660.8 290.6,663.0 291.7,664.8C292.7,666.5 293.0,667.9 294.2,669.7C295.3,671.5 297.4,673.1 298.5,675.3C299.5,677.5 299.9,680.4 300.6,682.9C301.3,685.3 301.9,687.4 302.4,690.0C302.9,692.6 303.5,695.7 303.8,698.3C304.0,701.0 303.7,703.1 303.9,706.1C304.1,709.0 304.7,713.1 305.0,716.0C305.3,718.9 305.6,721.2 305.6,723.7C305.6,726.2 305.2,728.7 304.9,731.1C304.6,733.5 304.0,735.7 303.7,738.0C303.4,740.2 303.7,742.6 303.1,744.4C302.4,746.2 300.5,747.0 299.6,748.6C298.8,750.2 298.8,752.4 298.0,754.0C297.2,755.6 296.0,757.2 295.0,758.2C294.0,759.3 293.1,759.6 292.2,760.6C291.2,761.5 290.1,762.7 289.2,763.8C288.3,765.0 287.7,766.0 286.9,767.5C286.2,768.9 285.4,771.0 284.6,772.6C283.9,774.3 283.1,775.9 282.6,777.4C282.0,778.8 281.2,779.9 281.2,781.3C281.2,782.7 282.3,784.0 282.5,785.8C282.7,787.6 282.1,790.1 282.2,792.0C282.3,793.9 282.8,795.5 283.0,797.4C283.3,799.3 283.2,801.5 283.8,803.4C284.5,805.3 286.4,806.9 287.2,809.0C287.9,811.1 288.0,813.8 288.1,815.8C288.2,817.9 288.0,819.1 287.9,821.3C287.8,823.5 287.6,826.7 287.5,828.9C287.3,831.0 287.4,832.8 286.9,834.3C286.4,835.8 285.2,836.4 284.5,838.0C283.7,839.5 282.9,841.9 282.3,843.6C281.8,845.2 282.3,847.9 281.2,848.1C280.1,848.3 277.2,845.7 275.7,845.0C274.1,844.4 273.3,844.9 272.0,844.3C270.6,843.6 269.4,841.9 267.4,841.2C265.3,840.5 262.1,840.6 259.5,840.2C257.0,839.8 254.8,839.1 252.3,838.9C249.7,838.7 244.6,838.3 244.3,838.9C244.0,839.4 248.5,840.7 250.6,842.1C252.7,843.5 254.8,846.0 256.8,847.4C258.8,848.8 260.9,849.1 262.8,850.4C264.6,851.7 266.0,853.7 268.1,855.1C270.2,856.5 273.1,857.5 275.2,859.0C277.4,860.5 279.5,862.0 281.2,864.2C282.9,866.4 283.7,869.9 285.4,872.0C287.1,874.2 289.7,875.2 291.3,877.4C292.9,879.5 293.7,882.0 295.0,885.0C296.3,887.9 298.0,891.9 299.2,895.0C300.4,898.1 301.0,900.7 302.2,903.6C303.4,906.5 305.8,909.5 306.5,912.6C307.3,915.7 306.4,919.0 306.8,922.3C307.3,925.7 308.6,929.4 309.2,932.7C309.7,936.1 310.0,939.8 310.0,942.6C310.0,945.3 309.8,946.8 309.3,949.5C308.9,952.2 307.9,955.9 307.4,958.6C306.9,961.3 307.2,963.6 306.5,965.6C305.9,967.6 304.7,968.9 303.6,970.9C302.6,972.8 301.3,975.4 300.2,977.2C299.2,979.1 298.7,980.7 297.3,981.7C296.0,982.7 293.8,982.4 292.1,983.1C290.4,983.9 288.9,985.1 287.1,986.0C285.3,986.9 283.2,988.2 281.2,988.6C279.2,989.1 277.0,988.7 274.9,988.9C272.9,989.1 270.8,989.5 268.8,989.9C266.8,990.2 264.9,990.3 262.8,990.9C260.6,991.5 258.0,992.6 255.9,993.5C253.7,994.3 251.7,995.3 249.7,996.1C247.8,996.8 246.6,997.3 244.3,997.9C242.0,998.4 238.2,998.9 235.8,999.1C233.3,999.4 231.9,999.2 229.5,999.4C227.1,999.6 223.6,1000.2 221.3,1000.2C218.9,1000.1 217.5,999.2 215.5,998.9C213.5,998.6 211.5,998.7 209.4,998.5C207.3,998.3 205.1,998.2 202.8,997.9C200.6,997.5 198.3,997.2 196.2,996.4C194.1,995.6 192.3,993.9 190.4,993.0C188.4,992.1 186.5,991.7 184.4,990.9C182.4,990.2 180.4,989.3 178.2,988.4C175.9,987.5 173.3,986.5 170.9,985.7C168.5,985.0 165.8,985.2 163.7,984.0C161.6,982.9 160.4,980.4 158.2,979.0C156.0,977.6 152.7,977.2 150.6,975.7C148.4,974.2 147.1,972.1 145.2,970.2C143.4,968.3 140.9,966.4 139.3,964.1C137.6,961.8 137.1,959.0 135.4,956.6C133.7,954.1 131.0,952.1 129.1,949.5C127.3,946.9 125.7,943.6 124.4,941.0C123.0,938.4 122.0,936.3 120.9,933.9C119.8,931.5 118.6,929.2 117.6,926.4C116.6,923.7 116.1,920.7 115.1,917.3C114.2,913.9 112.9,909.3 112.0,905.8C111.0,902.3 110.2,899.7 109.5,896.5C108.8,893.3 108.5,889.7 107.7,886.6C107.0,883.5 105.6,881.1 104.9,878.2C104.3,875.2 104.2,872.2 103.8,868.8C103.4,865.5 103.1,861.3 102.6,858.0C102.1,854.8 101.2,852.4 100.6,849.2C100.0,846.0 99.3,842.3 99.2,838.9C99.1,835.5 99.8,832.1 100.0,828.7C100.3,825.3 100.6,821.6 100.6,818.3C100.7,815.0 100.0,812.1 100.3,808.9C100.7,805.8 101.9,802.8 102.6,799.4C103.4,796.1 104.3,792.4 104.9,788.9C105.4,785.5 105.5,782.4 106.1,779.0C106.7,775.5 107.4,771.6 108.4,768.2C109.4,764.7 111.1,761.6 112.3,758.4C113.4,755.2 114.0,752.3 115.3,749.0C116.6,745.8 118.5,742.2 120.1,739.0C121.8,735.9 123.5,733.0 125.0,730.1C126.5,727.1 127.6,724.1 129.1,721.4C130.7,718.7 132.3,716.2 134.4,713.9C136.4,711.6 139.1,709.9 141.3,707.7C143.5,705.5 145.3,703.0 147.6,700.6C149.8,698.3 152.5,695.5 155.0,693.5C157.6,691.5 160.3,690.5 162.9,688.4C165.5,686.3 167.8,683.2 170.6,681.1C173.4,678.9 176.9,677.4 179.9,675.3C182.8,673.3 185.1,671.2 188.2,668.9C191.2,666.6 194.4,663.5 198.2,661.5C202.1,659.4 207.1,658.2 211.2,656.6C215.3,654.9 218.9,653.2 222.9,651.6C226.8,649.9 231.3,647.3 235.1,646.5Z" fill="#80524d"/><path d="M177.5,699.5C178.7,696.5 182.5,689.3 189.0,684.5C195.6,679.7 207.5,674.1 216.7,670.7C225.9,667.2 237.8,664.5 244.3,663.8C250.8,663.0 257.4,664.4 255.8,666.1C254.3,667.8 243.2,671.3 235.1,674.1C227.0,677.0 214.8,680.1 207.5,683.4C200.2,686.6 195.6,690.5 191.3,693.7C187.1,696.9 184.4,701.5 182.1,702.5C179.8,703.4 176.4,702.5 177.5,699.5Z" fill="#94706d"/><path d="M224.7,684.5C225.3,682.9 228.2,681.1 230.5,680.4C232.8,679.7 238.0,679.1 238.6,680.4C239.1,681.6 235.9,686.3 234.0,688.0C232.0,689.6 228.6,690.8 227.0,690.3C225.5,689.7 224.2,686.2 224.7,684.5Z" fill="#8c625e"/><path d="M246.6,690.3C247.1,689.2 250.9,688.4 252.4,689.1C253.8,689.9 255.9,693.8 255.4,694.9C254.9,696.0 250.8,696.3 249.4,695.6C247.9,694.8 246.1,691.3 246.6,690.3Z" fill="#8c625e"/><path d="M262.8,698.3C263.3,697.2 266.6,695.3 269.7,697.2C272.7,699.1 278.7,706.6 281.2,709.9C283.7,713.1 284.8,715.0 284.6,716.8C284.4,718.5 281.8,721.4 280.0,720.2C278.3,719.1 276.6,712.5 274.3,709.9C272.0,707.2 268.1,706.0 266.2,704.1C264.3,702.2 262.2,699.5 262.8,698.3Z" fill="#94706d"/><path d="M147.6,728.3C147.2,726.6 151.8,720.2 154.5,720.2C157.2,720.2 160.3,727.1 163.7,728.3C167.1,729.4 174.0,726.4 174.7,727.1C175.5,727.9 171.3,732.3 168.3,732.9C165.3,733.5 160.2,731.4 156.8,730.6C153.3,729.8 147.9,730.0 147.6,728.3Z" fill="#94706d"/><path d="M213.9,741.0C214.5,740.6 221.8,741.2 225.9,743.3C230.0,745.4 235.9,750.1 238.6,753.6C241.2,757.2 242.8,764.5 242.0,764.7C241.2,764.9 237.2,758.0 234.0,754.8C230.7,751.6 225.8,747.9 222.4,745.6C219.1,743.3 213.3,741.3 213.9,741.0Z" fill="#8c625e"/><path d="M281.2,735.2C282.1,734.2 286.1,731.2 286.9,731.7C287.8,732.3 287.1,737.6 286.3,738.7C285.4,739.7 282.5,738.5 281.6,738.0C280.8,737.4 280.3,736.2 281.2,735.2Z" fill="#8c625e"/><path d="M268.5,745.6C269.3,744.6 277.5,744.0 281.2,743.3C284.8,742.5 289.4,740.6 290.4,741.0C291.4,741.3 289.2,744.2 286.9,745.6C284.6,746.9 279.6,749.0 276.6,749.0C273.5,749.0 267.7,746.5 268.5,745.6Z" fill="#8c625e"/><path d="M244.3,779.0C246.0,778.0 253.9,776.9 258.1,775.5C262.4,774.2 267.9,770.3 269.7,770.9C271.4,771.5 270.8,777.1 268.5,779.0C266.2,780.9 258.5,781.0 255.8,782.4C253.2,783.9 253.7,787.9 252.4,787.7C251.0,787.5 249.1,782.7 247.8,781.3C246.4,779.8 242.6,779.9 244.3,779.0Z" fill="#94706d"/><path d="M137.2,781.3C138.0,779.4 140.4,777.8 141.8,777.8C143.1,777.8 144.9,778.8 145.2,781.3C145.6,783.8 145.1,790.3 144.1,792.8C143.1,795.3 140.7,796.8 139.5,796.3C138.3,795.7 137.1,791.8 136.7,789.3C136.3,786.8 136.3,783.2 137.2,781.3Z" fill="#8c625e"/><path d="M258.6,811.2C259.6,810.1 261.1,809.3 262.8,810.1C264.4,810.8 268.5,814.3 268.5,815.8C268.5,817.4 264.4,817.8 262.8,819.3C261.1,820.8 259.6,825.4 258.6,825.1C257.6,824.7 257.0,819.3 257.0,817.0C257.0,814.7 257.6,812.4 258.6,811.2Z" fill="#8c625e"/><path d="M106.1,779.0C106.2,774.8 111.8,777.4 114.1,781.3C116.5,785.1 119.0,795.9 120.4,802.0C121.7,808.2 123.1,811.6 122.2,818.1C121.4,824.7 118.0,835.0 115.3,841.2C112.6,847.3 108.2,853.9 106.1,855.0C104.0,856.2 101.7,852.7 102.6,848.1C103.6,843.5 110.0,834.3 111.8,827.4C113.6,820.4 114.4,814.7 113.5,806.6C112.5,798.6 106.0,783.2 106.1,779.0Z" fill="#94706d"/><path d="M122.2,895.3C122.4,892.8 124.5,885.3 125.7,882.7C126.8,880.0 128.6,878.4 129.1,879.2C129.6,880.0 129.4,884.2 128.7,887.3C127.9,890.3 125.6,896.3 124.5,897.6C123.4,899.0 122.0,897.8 122.2,895.3Z" fill="#8c625e"/><path d="M217.8,926.4C217.8,925.3 220.2,923.0 221.3,923.0C222.3,923.0 224.0,925.3 224.0,926.4C224.0,927.6 222.3,929.9 221.3,929.9C220.2,929.9 217.8,927.6 217.8,926.4Z" fill="#8c625e"/><path d="M240.9,934.5C242.4,932.5 250.1,928.0 255.8,925.3C261.6,922.6 272.5,918.2 275.4,918.4C278.3,918.6 276.0,924.3 273.1,926.4C270.2,928.5 262.6,929.2 258.1,931.0C253.7,932.9 249.5,936.9 246.6,937.5C243.7,938.1 239.3,936.5 240.9,934.5Z" fill="#94706d"/><path d="M270.8,939.1C271.2,938.3 276.0,936.9 276.6,937.5C277.2,938.1 275.2,942.3 274.3,942.6C273.3,942.8 270.4,939.9 270.8,939.1Z" fill="#8c625e"/><path d="M199.4,942.6C199.0,939.2 203.0,939.2 205.2,940.7C207.3,942.3 209.7,948.0 212.1,951.8C214.4,955.5 218.5,960.0 219.4,963.3C220.4,966.6 219.1,969.6 217.8,971.4C216.6,973.1 213.8,975.4 212.1,973.7C210.3,971.9 209.6,966.2 207.5,961.0C205.3,955.8 199.8,945.9 199.4,942.6Z" fill="#94706d"/><path d="M191.3,994.4C192.2,992.7 196.5,991.1 198.2,992.1C200.0,993.1 201.7,997.7 201.7,1000.2C201.7,1002.7 199.7,1006.7 198.2,1007.1C196.8,1007.5 194.3,1004.6 193.2,1002.5C192.0,1000.4 190.5,996.1 191.3,994.4Z" fill="#8c625e"/><path d="M281.2,908.0C281.8,906.6 288.1,902.8 290.4,902.2C292.7,901.7 295.6,903.1 295.0,904.5C294.4,906.0 289.2,910.2 286.9,910.8C284.6,911.3 280.6,909.4 281.2,908.0Z" fill="#8c625e"/><path d="M242.0,729.4C242.2,729.1 251.6,735.8 255.8,739.8C260.1,743.8 264.1,749.0 267.4,753.6C270.6,758.2 275.4,767.1 275.4,767.5C275.4,767.8 270.8,760.2 267.4,755.9C263.9,751.7 258.9,746.5 254.7,742.1C250.5,737.7 241.8,729.8 242.0,729.4Z" fill="#6f423d"/><path d="M242.0,843.5C242.4,842.5 250.8,838.7 255.8,838.9C260.8,839.1 267.7,842.3 272.0,844.6C276.2,846.9 282.0,852.3 281.2,852.7C280.4,853.1 272.0,848.3 267.4,846.9C262.8,845.6 257.8,845.2 253.5,844.6C249.3,844.1 241.6,844.4 242.0,843.5Z" fill="#6f423d"/><path d="M164.8,972.5C166.0,971.4 176.2,971.0 179.8,971.4C183.5,971.7 185.8,973.3 186.7,974.8C187.7,976.4 187.9,980.0 185.6,980.6C183.3,981.2 176.4,979.6 172.9,978.3C169.4,976.9 163.7,973.7 164.8,972.5Z" fill="#6f423d"/><path d="M278.9,958.7C279.8,956.4 288.3,947.9 290.4,947.2C292.5,946.4 292.5,951.8 291.6,954.1C290.6,956.4 286.8,960.2 284.6,961.0C282.5,961.8 277.9,961.0 278.9,958.7Z" fill="#6f423d"/></g>
<path d="M1272.83 156.86 C1263.04 160.32 1254.98 163.78 1251.52 168.38 C1249.22 172.42 1250.94 175.87 1254.98 176.68 C1265.34 178.75 1278.02 179.90 1288.38 179.33 C1299.90 178.52 1309.12 174.14 1320.64 169.77 C1327.55 168.38 1332.16 170.69 1339.07 169.77 C1345.98 169.31 1350.59 167.81 1356.35 167.23 C1360.96 168.38 1363.26 171.84 1365.57 175.30 L1378.24 168.38 L1371.33 153.64 L1366.49 152.37 C1363.84 153.64 1362.11 154.56 1359.81 155.71 C1355.20 157.44 1350.59 158.59 1343.68 159.17 C1334.46 160.09 1325.25 159.74 1319.49 158.25 C1315.46 156.86 1313.73 154.56 1312.00 153.18 L1291.84 154.56 Z" fill="#fff" stroke="#000" stroke-width="3.0" stroke-linejoin="round"/><path d="M1273.06 147.42 L1273.29 164.35 A18.78 7.14 0 0 0 1310.85 164.35 L1310.85 147.42 Z" fill="#fff" stroke="#000" stroke-width="3.0" stroke-linejoin="round"/><ellipse cx="1292.0" cy="147.2" rx="19.0" ry="5.8" fill="#fff" stroke="#000" stroke-width="3.0"/><path d="M1365.57 170.69 L1365.80 246.72 C1366.14 255.94 1369.02 268.61 1372.48 281.28 L1378.24 313.54 C1379.97 326.21 1384.58 333.35 1390.34 333.35 C1396.10 333.35 1400.70 326.21 1402.43 313.54 L1408.19 275.52 C1411.65 258.24 1413.95 235.20 1414.53 212.16 L1415.68 170.69 " fill="#fff" stroke="#000" stroke-width="3.0" stroke-linejoin="round"/><ellipse cx="1392.1" cy="163.5" rx="28.0" ry="10.9" fill="#fff" stroke="#000" stroke-width="3.0"/><ellipse cx="1391.8" cy="159.4" rx="28.2" ry="10.8" fill="#fff" stroke="#000" stroke-width="3.0"/><ellipse cx="1390.9" cy="159.2" rx="21.0" ry="5.5" fill="none" stroke="#000" stroke-width="0.8"/><rect x="1366.7" y="198.6" width="14.4" height="7.3" fill="#231815"/><rect x="1366.7" y="220.6" width="14.4" height="7.1" fill="#231815"/><rect x="1366.7" y="242.7" width="14.4" height="7.5" fill="#231815"/><path d="M1375.24 271.83 L1404.51 271.83 Q1407.04 271.83 1406.58 274.60 L1400.59 312.38 C1398.63 323.90 1394.37 329.89 1390.34 329.89 C1386.30 329.89 1382.39 323.90 1380.31 312.38 L1373.17 274.60 Q1372.71 271.83 1375.24 271.83 Z" fill="#9fb5ff" stroke="#1d2088" stroke-width="3.8" stroke-linejoin="round"/>
<path d="M1388.7,309.9H1600" stroke="#231815" stroke-width="3.7" stroke-dasharray="8.2,12.6" stroke-dashoffset="-20.5" fill="none"/>
<path d="M1388.7,309.9L1394,300M1399,291L1471.5,157" stroke="#231815" stroke-width="3.7" stroke-dasharray="8.2,12.6" fill="none"/>
<path d="M1388.7,309.9h8" stroke="#231815" stroke-width="3.7" fill="none"/>
<circle cx="1588.8" cy="188.4" r="118.5" fill="none" stroke="#231815" stroke-width="4.2"/>
<path d="M1510.2,141.6C1512.6,143.0 1518.8,147.9 1524.4,149.9C1530.0,151.9 1537.1,153.4 1543.9,153.6C1550.6,153.9 1558.4,152.8 1564.9,151.4C1571.4,150.0 1577.1,147.8 1582.8,145.4C1588.6,143.0 1593.8,139.4 1599.3,137.1C1604.8,134.9 1610.0,132.5 1615.8,131.9C1621.5,131.3 1627.7,132.0 1633.8,133.4C1639.9,134.8 1649.4,139.0 1652.5,140.1" fill="none" stroke="#1d2088" stroke-width="6.2"/><path d="M1521.4,148.4L1525.2,134.5M1534.9,152.1L1534.9,137.1M1548.7,153.2L1548.7,137.9M1561.6,151.7L1561.1,137.1M1576.1,147.6L1573.1,134.9M1587.3,142.4L1584.0,129.7M1598.6,137.1L1594.1,122.9M1607.6,133.4L1604.1,118.7M1615.8,131.6L1615.8,116.9M1627.8,131.9L1627.3,116.9M1636.8,133.4L1637.8,120.2" fill="none" stroke="#1d2088" stroke-width="4.1"/>
<path d="M1601.6,179.8C1603.4,181.3 1608.7,186.5 1612.8,188.8C1616.9,191.2 1621.5,193.1 1626.3,194.1C1631.0,195.1 1636.5,195.2 1641.3,194.8C1646.0,194.4 1650.2,192.7 1654.7,191.8C1659.2,191.0 1664.0,189.6 1668.2,189.6C1672.5,189.6 1676.0,190.2 1680.2,191.8C1684.5,193.4 1691.4,198.1 1693.7,199.3" fill="none" stroke="#1d2088" stroke-width="6.2"/><path d="M1608.3,184.3L1612.8,176.5M1617.3,190.3L1619.1,181.0M1627.0,193.3L1627.5,184.0M1635.3,194.5L1635.3,185.1M1644.3,194.1L1643.5,184.6M1652.5,191.8L1651.4,182.8M1660.7,190.0L1660.0,180.6M1668.2,189.1L1668.2,179.4M1675.7,190.0L1676.9,179.8M1682.5,192.1L1684.7,182.5M1687.7,194.8L1691.4,185.8" fill="none" stroke="#1d2088" stroke-width="4.1"/>
<path d="M1537.6,181.6C1538.1,183.3 1539.1,188.4 1540.9,191.8C1542.7,195.3 1545.4,198.9 1548.4,202.3C1551.4,205.7 1554.9,209.3 1558.9,212.0C1562.9,214.8 1567.6,217.2 1572.3,218.8C1577.1,220.4 1582.6,220.8 1587.3,221.8C1592.1,222.8 1596.6,223.3 1600.8,224.8C1605.1,226.3 1609.2,228.2 1612.8,230.8C1616.4,233.4 1619.8,236.9 1622.5,240.5C1625.3,244.1 1628.2,250.5 1629.3,252.5" fill="none" stroke="#1d2088" stroke-width="6.2"/><path d="M1540.1,188.8L1550.6,183.6M1546.1,198.6L1555.9,191.1M1553.6,206.8L1562.6,198.6M1563.4,214.3L1570.9,204.1M1576.8,219.5L1579.8,209.1M1588.1,221.5L1590.3,211.3M1598.6,223.7L1600.1,211.7M1607.6,227.5L1609.1,214.0M1615.0,232.3L1618.8,219.2M1620.0,237.5L1625.5,225.5M1624.0,242.8L1630.8,232.3" fill="none" stroke="#1d2088" stroke-width="4.1"/>
<defs><linearGradient id="gf" x1="0" x2="1" y1="0" y2="0"><stop offset="0" stop-color="#d3d3d3"/><stop offset="0.2" stop-color="#cbcbcb"/><stop offset="0.55" stop-color="#b9b9b9"/><stop offset="0.8" stop-color="#a9a9a9"/><stop offset="1" stop-color="#9f9f9f"/></linearGradient><linearGradient id="gf2" x1="0" x2="1" y1="0" y2="0"><stop offset="0" stop-color="#d2d2d2"/><stop offset="0.3" stop-color="#c8c8c8"/><stop offset="0.7" stop-color="#bdbdbd"/><stop offset="1" stop-color="#a6a6a6"/></linearGradient><linearGradient id="gs" x1="0" x2="0" y1="0" y2="1"><stop offset="0" stop-color="#a2a2a2"/><stop offset="0.12" stop-color="#8e8e8e"/><stop offset="1" stop-color="#8a8a8a"/></linearGradient><linearGradient id="gd" x1="0" x2="1" y1="0" y2="0.6"><stop offset="0" stop-color="#454545"/><stop offset="0.35" stop-color="#222"/><stop offset="0.6" stop-color="#0b0b0b"/><stop offset="1" stop-color="#0a0a0a"/></linearGradient><linearGradient id="gh" x1="0" x2="0" y1="0" y2="1"><stop offset="0" stop-color="#0d0d0d"/><stop offset="0.5" stop-color="#c8c8c8"/><stop offset="1" stop-color="#0d0d0d"/></linearGradient><linearGradient id="gm" x1="0" x2="1" y1="0" y2="0"><stop offset="0" stop-color="#cfcfcf"/><stop offset="0.25" stop-color="#d6d6d6"/><stop offset="0.8" stop-color="#d6d6d6"/><stop offset="1" stop-color="#cdcdcd"/></linearGradient></defs><polygon points="1323.4,696.6 1454.5,702.4 1468.9,719.7 1633.0,727.7 1676.2,690.9 1676.2,685.1 1624.4,716.8 1336.4,705.3" fill="#2b2b2b" /><polygon points="1323.7,699.5 1451.6,703.8 1451.6,712.2 1336.4,710.5 1325.5,707.0" fill="#8a8a8a" /><polygon points="1335.2,709.9 1451.6,712.2 1451.6,718.2 1346.5,714.8" fill="#151515" /><path d="M1640.2,436.0 L1664.7,457.6 Q1673.9,464.8 1674.2,474.9 L1675.4,692.3 L1640.2,722.0Z" fill="url(#gs)"/><polygon points="1664.1,538.8 1669.9,537.7 1670.5,673.6 1664.7,672.2" fill="#7d7d7d" /><polygon points="1658.4,536.8 1660.7,535.9 1661.0,554.1 1659.0,552.6" fill="#6a6a6a" /><path d="M1486.7,436.9L1624.4,427.6Q1635.9,428.8 1642.3,437.4L1642.3,540.5L1486.7,544.0Z" fill="url(#gf)"/><polygon points="1486.7,544.0 1642.3,540.5 1642.3,722.0 1630.2,726.6 1486.7,718.5" fill="url(#gf2)" /><polygon points="1587.0,540.8 1642.3,539.7 1642.3,541.1 1587.0,542.3" fill="#8a8a8a" /><path d="M1451.6,443.2Q1453.0,438.0 1456.0,438.0L1480.4,436.9Q1486.7,437.8 1486.7,441.8L1486.7,720.3L1468.9,722.0L1451.6,715.4Z" fill="#0c0c0c"/><polygon points="1480.4,438.9 1486.7,443.2 1486.7,719.7 1481.8,719.1" fill="#1b1b1b" /><rect x="1470.3" y="534.5" width="116.6" height="15.8" rx="7" ry="7" fill="#111"/><rect x="1500.6" y="538.2" width="74.9" height="6.3" rx="3" ry="3" fill="url(#gh)"/><polygon points="1345.0,454.7 1453.0,449.0 1453.0,541.7 1346.5,546.9" fill="#141414" /><polygon points="1349.6,459.6 1451.6,453.9 1451.6,537.1 1350.5,542.3" fill="#74b9fc" /><path d="M1325.5,561.3Q1326.0,554.9 1333.5,554.4L1451.6,551.8L1451.6,631.8L1325.5,630.4Z" fill="url(#gm)"/><polygon points="1325.5,621.8 1451.6,623.2 1451.6,631.8 1325.5,630.4" fill="#d0d0d0" /><path d="M1307.6,633.9Q1308.2,627.5 1314.8,627.5L1456.8,629.2L1460.0,631.0L1460.0,703.0L1311.9,698.4Q1307.6,697.8 1307.6,693.8Z" fill="url(#gd)"/><polygon points="1309.3,627.5 1456.8,629.2 1457.4,631.3 1309.3,629.5" fill="#333" />
</svg>
</body></html>
